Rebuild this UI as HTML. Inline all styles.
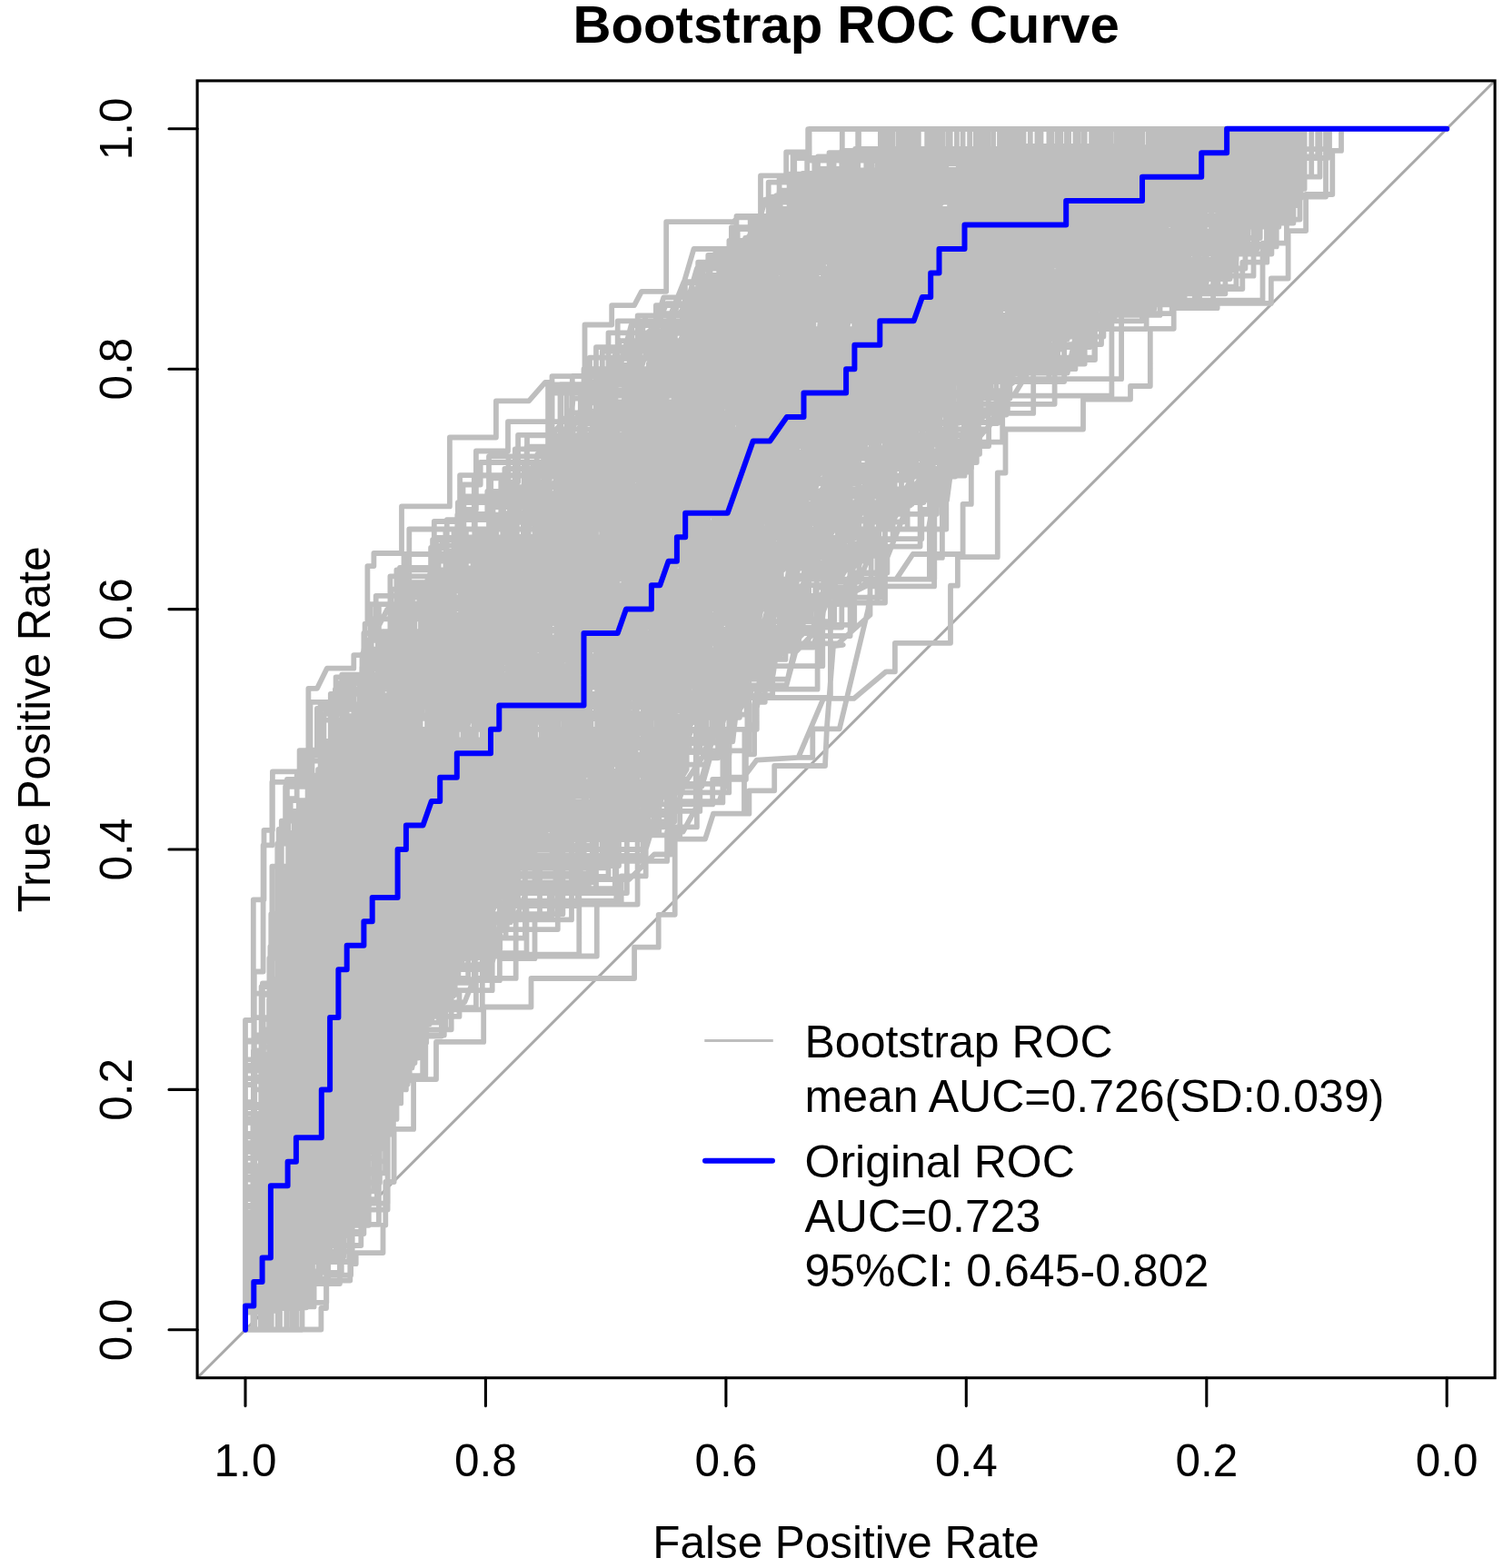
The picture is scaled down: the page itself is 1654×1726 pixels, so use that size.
<!DOCTYPE html><html><head><meta charset="utf-8"><style>html,body{margin:0;padding:0;background:#fff;}svg{display:block;}</style></head><body><svg width="1654" height="1726" viewBox="0 0 1654 1726">
<rect width="1654" height="1726" fill="#fff"/>
<defs><clipPath id="pc"><rect x="217.1" y="88.9" width="1428.0" height="1427.8"/></clipPath></defs>
<g clip-path="url(#pc)">
<line x1="217.1" y1="1516.7" x2="1645.1" y2="88.9" stroke="#a9a9a9" stroke-width="3"/>
<path d="M270 1464v-341h8.8v-132.7h11.7v-76.5h9.4v-64.5h29.7v-23.1h9.8v-68.4h9.6l10.8 -22.1h29.5v-14.6h12.3v-34.5h2.8v-63.5h7v-14.1h30.6v-51.6h52.9v-75.9h51v-40.1h36.1l18 -20.6h7.5v-6.7h36v-56.6h29.7v-21.3h24.8l8 -15.4h27.2v-76.6h73.8l5 -4.9h25v-45.9h28.2v-25.9h24v-25.3h702.8M270 1463.5h83.4v-23.5h5.6v-30.4h26.3v-18.4h6.4v-12.1h29.8v-30.5h2.8v-47.6h9.3v-58.1h21.5v-54.8h24.9v-41.2h52.2v-38.4h52.3v-31.5h113.6v-34.3h26.6v-35.9h18v-83.1h33.3l9 -28h34v-41l13.8 -18.1l45.7 -2.7l27.6 -65h33.5l35.5 -29.6h9.8v-31.5h61.1v-63.1h7.9v-31.5h43.9v-92.7h8.7v-48h85.5v-33h52v-14.5h21.8v-63.2h25.9v-22.6h47.9v-5.3h59.2v-27.4h18.8v-52.4h19.5v-40.1h29.2v-48.1h9.7v-23.7h116M785 895.7h39.4v-25.4h27.8v-27.3h55.8l2 -43l7 -89l10.8 -1.2M878.5 833.9h15.8v-31.5h29.5l31.6 -132.1l1.9 -15.7M270 1463.8h9.7v-48.1h9.6v-24h9.7v-72.1h19.3v-24.1h19.3v-24h28.9v-48.1h9.7v-48h9.6v-24.1h19.3v-24v-48.1h38.6v-72.1h9.7h38.6h9.6h29v-24h19.3v-48.1h48.2v-24h29v-96.2h106.2v-48.1h19.3l9.6 -24h29h9.6l19.3 -24v-24.1h77.2l29 -72.1h19.3l9.6 -48h38.6v-24.1h48.3v-72.1h9.6v-24h19.3v-24.1h38.6v-24v-96.1h9.7v-48.1h28.9h86.9v-48.1h77.2v-24h96.5v-48.1h183.4M270 1463.8v-58.8h18h9v-58.7h9v-88.1h18v-58.8h18v-58.8h53.9h18v-29.3h18v-29.4h18v-29.4h18v-29.4h18h27h8.9h27h9v-176.2h36h9v-29.4h45v-146.9h9h26.9h45h18h18h18h9v-58.8h18l44.9 -58.7l9 -58.8h9v-29.3h18v-29.4h36v-88.2h27l9 -29.3h27v-29.4h9v-29.4h53.9v-29.4h143.9v-58.7h63h45v-29.4h44.9h242.9M270 1463.8v-26.4h27.9v-26.5h28v-26.4h9.3v-79.3v-79.4h37.2v-52.8h9.3v-26.5v-52.9h9.3v-26.4h18.7h18.6v-52.9h27.9v-105.7h18.6h18.7h9.3h27.9v-26.5h9.3h55.9h9.3h111.7v-79.3h55.9l9.3 -26.4h18.6v-26.5l18.7 -26.4v-52.9h18.6v-52.9h18.6l46.6 -52.9l18.6 -52.8h37.2h55.9v-52.9v-52.9h27.9v-26.4h37.3h18.6v-26.5h18.6h37.3h102.4v-26.4h46.6v-105.8h121v-26.4h27.9v-52.9h139.7M270 1463.8v-30.7h8.9v-61.5v-30.8v-184.4h8.8v-61.5h44.4v-30.8h8.9v-61.5v-61.5h8.9v-30.7h8.8h8.9h71v-61.5v-30.7h8.9l8.9 -30.8h17.7h26.6v-30.7h44.4v-30.8h8.9h88.7v-61.4h8.9v-30.8h44.3h35.5l17.8 -30.7h8.9v-92.3h17.7v-30.7h44.4l26.6 -92.2h17.7v-30.8h17.8v-30.7h53.2h26.7h62.1l8.8 -30.8h8.9v-61.5h17.8h53.2v-30.7h79.9v-30.8h115.3h53.3h17.7v-30.7h213M270 1463.8v-45.6v-22.8v-22.8v-45.6h19.7h19.8v-91.1h19.7v-68.4h9.9v-45.6v-45.6h9.8h39.5v-45.6h9.9v-22.8h9.8l9.9 -45.5h19.7v-45.6h19.8v-22.8h49.3h19.7v-22.8h138.2v-114h39.5l39.4 -22.8h9.9v-45.6h9.9l9.8 -45.6h9.9v-68.3h49.3l39.5 -91.2l19.7 -22.8h39.5h9.9v-22.8h29.6v-22.8h29.6l9.8 -22.8h9.9v-22.8h59.2v-22.8h128.3h69.1v-68.3h49.3v-68.4h19.7v-68.4h246.7M270 1463.8v-64.5h43.8v-32.2h8.7h8.8v-32.3h17.5h26.3v-64.5h8.7v-64.5h17.5v-64.4h8.8v-64.5v-32.3h17.5h8.8h17.5h17.5h17.5h35v-32.2h8.8v-32.3h78.8v-64.4h61.3h52.5v-64.5h8.8h8.7v-96.8h8.8v-32.2h43.8l26.2 -32.3h17.6l35 -64.4h26.3v-64.5h43.7v-32.3h17.5v-32.2h35.1l17.5 -32.3h8.7v-32.2h8.8v-32.2h26.3v-64.5h166.3h43.8v-96.8h113.8v-32.2h26.3v-64.5h183.9M270 1463.8v-48.1h19.3h19.3v-24h9.7v-48.1v-24h57.9v-48.1h9.6v-72.1h29h28.9v-24h9.7v-48.1h19.3v-72.1h38.6v-48.1h19.3h38.6l9.6 -24h9.7v-48.1h48.2v-24h29v-48.1v-48.1h57.9v-144.2h38.6h9.7h38.6l9.6 -72.1h9.7v-24h28.9h67.6l67.5 -96.2h9.7h19.3h9.6h19.3v-24h9.7v-24.1h28.9v-24h48.3v-24v-48.1v-72.1h19.3h86.9v-24.1h106.1h48.3v-48h9.6v-48.1h183.4M270 1463.8v-49.9v-49.9h9.5v-24.9v-99.8v-49.9v-49.9h38.1v-49.9h9.5v-49.8v-49.9h19h19v-25h38.1v-49.9v-74.8h19h9.5h28.5v-24.9h19.1v-99.8h95.1v-124.7h19v-25h9.5h9.5v-24.9h19.1v-24.9h38l38.1 -25h28.5l19 -49.9h28.6h47.5h9.5v-49.9h28.6h38l19 -24.9v-25h38.1v-24.9h57.1h123.6v-24.9h95.1v-49.9h66.6v-49.9h38.1v-49.9h247.3M270 1463.8v-27.5v-55.1h9.2v-82.6h9.2h9.1v-55.1h9.2v-82.7h36.8h9.1v-27.5h36.8v-55.1v-27.5h27.5v-55.1v-27.6h64.3v-27.5h9.2v-27.5h9.1v-27.6h9.2h64.3v-27.5h9.2l9.2 -27.6h9.2v-27.5l18.3 -55.1v-27.5h18.4v-55.1h45.9l45.9 -137.7h9.2l36.7 -27.6h18.4v-55h73.4v-27.6h55.1v-27.5h91.8h27.6v-27.6h9.2v-55.1h45.9h110.2h82.6h64.3v-82.6h9.2v-82.6h229.5M270 1463.8v-26.4v-52.9h18.6v-79.3v-52.9h9.3v-52.9h37.3v-52.9h9.3v-52.9h9.3v-26.4h18.6h37.3v-26.4h18.6v-79.4h27.9v-52.8h37.3v-79.4h9.3v-26.4h18.6h65.2v-52.9h9.3h176.9v-52.9h65.2h9.3h27.9v-26.4h9.3v-26.4h28v-26.5h37.2l9.3 -132.2h18.7l37.2 -26.4h18.6v-52.9h9.3v-52.9h28h27.9v-52.9h9.3h27.9h74.5h46.6v-79.3h65.2v-79.3h18.6h251.4M270 1463.8h9.3v-26.4h9.3v-26.5v-52.9h18.6v-52.8v-26.5h28v-52.9v-79.3v-26.4h9.3v-52.9h18.6v-52.9h18.6h37.3h46.5h18.7h9.3v-26.4h27.9v-52.9h55.9v-26.4h102.4v-132.2h18.6h28h18.6v-26.5h9.3v-26.4h9.3v-52.9v-52.9h27.9l18.7 -79.3h27.9l18.6 -52.9h55.9v-26.4h74.5v-52.9h18.6h9.3h18.6l28 -26.4h9.3v-26.5h9.3v-26.4h18.6v-105.8h102.4h111.8h83.8v-26.4h46.5v-52.9h149M270 1463.8h18.2h9.2h9.1v-28.1h27.3v-28.2h18.3v-140.6h9.1v-56.2h9.1v-84.4h18.2h45.6h18.3v-56.3h9.1v-84.4l9.1 -56.2v-28.2h36.5h45.6v-56.2h109.4v-112.5h27.4l9.1 -28.1h36.4v-28.2h18.3h9.1v-56.2h9.1v-56.3h45.6l27.4 -84.4h9.1l36.5 -28.1h45.6v-28.1h36.4v-28.2h9.2v-28.1h9.1v-28.1h27.3v-28.1h18.3v-28.2h27.3h36.5v-28.1h118.5h54.7h100.4v-28.1h54.7v-84.4h164.1M270 1463.8h19.2h9.5v-24.5h38.4v-122.4h19.1v-49h9.6v-24.4h19.2h19.1v-122.4h9.6v-49h38.3v-49h9.6v-48.9h9.6l9.6 -49h9.6h9.5v-49h48h9.5v-48.9h86.3v-73.5h19.1l9.6 -48.9h19.2v-24.5v-97.9h28.7v-24.5h9.6v-24.5h47.9l19.2 -24.5h9.5h28.8v-48.9h28.7v-49h19.2v-24.5h9.6h28.7l9.6 -24.5v-24.4h9.6v-73.5h19.1h105.4v-49h105.4h57.5v-24.4h67.1v-49h297M270 1463.8v-27.5h45.9v-27.6h18.4v-55.1h9.2v-55v-27.6v-82.6h18.3h18.4v-137.7v-55.1h9.2h36.7v-27.6h9.2h27.5v-137.7h9.2v-27.5l9.2 -55.1h9.2v-27.5h9.1h27.6v-82.6v-55.1h137.7v-110.2h45.9v-27.5h36.8h18.3h18.4v-27.6h55.1l27.5 -110.2h18.4h9.2h27.5h27.6v-27.5h9.1h27.6h27.5v-27.5h9.2h36.7v-27.6h110.2v-27.5h101h45.9v-55.1h18.4h257.1M270 1463.8h18.9v-25.4h9.4v-76.3v-50.8h66.1h9.5h9.4v-50.9v-25.4h18.9v-25.4h9.5v-25.5h9.4h47.2v-101.6h28.4v-50.9h18.9v-50.8v-76.3h9.4h18.9v-25.4h85v-152.6h28.3h9.5h18.8v-25.4h9.5v-25.4v-25.4h9.4v-50.9h56.7l56.7 -101.7h18.9l28.3 -76.2h28.3h56.7v-25.5h18.9v-50.8h47.2h18.9h18.9v-25.4v-25.5h18.9v-25.4h103.9v-25.4h94.4v-76.3h56.7h28.3v-25.4h236.1M270 1463.8v-49h9.6h9.6h19.1v-97.9h38.3v-24.5h9.6v-73.4h9.6h19.2v-24.5h9.6v-49h19.1v-24.4h19.2v-49v-73.4h28.7v-49h19.2v-49h9.6h28.7v-24.5h38.3v-24.4h28.8h105.4v-171.4h19.1h19.2h38.3h9.6h9.6v-24.5h19.1l38.4 -146.9h9.6h9.5h38.4v-24.5h76.6h9.6v-24.4v-24.5h38.3h9.6v-97.9v-49h28.7v-24.5h162.9v-24.5h95.8v-24.5h67.1h19.2v-73.4h182M270 1463.8v-27h27.7v-27h18.5h9.3v-26.9h9.2v-54h18.5v-27h18.5v-27h27.7v-134.9h9.3h9.2v-26.9v-27h18.5h9.3h18.5v-54h37v-53.9h9.2h9.2v-27h46.3h9.2v-27h129.5v-27h37l9.2 -27v-80.9h9.2v-27h9.3v-80.9h27.7v-54h64.8l36.9 -80.9h9.3h74v-54h18.4v-26.9v-54h55.5h46.3l27.7 -80.9h18.5v-27v-27h37v-27h83.2v-27h74v-26.9h46.2v-27h27.7v-27h175.7M270 1463.8v-74.8h9.5h9.5v-25h9.5v-24.9h57.1v-49.9h9.5v-99.8v-74.8h19v-25h9.6h19v-49.8h19v-49.9h19v-49.9h28.6l19 -49.9h9.5v-24.9h38.1h28.5h9.5h104.6v-124.8h57.1h19h28.6h9.5h19h9.5v-24.9v-24.9h38.1l47.5 -49.9h28.6l28.5 -74.9h57.1v-24.9h9.5v-49.9h28.5v-49.9v-49.9v-74.8h28.6h114.1v-74.8h66.6v-25h47.6v-49.9h19v-24.9h247.3M270 1463.8v-25.9h9.4v-51.9h28.1v-25.9h18.8v-103.7v-25.9v-25.9h56.2v-77.8h18.8v-25.9h18.7v-25.9v-25.9h75.1v-51.9h18.7v-25.9h28.1h9.4l9.4 -25.9h28.1h18.8v-51.9h37.5v-25.9h103.1v-25.9h28.2l28.1 -103.7h18.8h9.3v-25.9h37.5l9.4 -103.7l18.8 -25.9h9.4v-26h37.5v-25.9h9.3v-25.9h28.2v-51.8h28.1h18.8h9.3v-77.8v-51.8h18.8v-77.8h121.9v-51.9h56.3v-25.9h93.7v-25.9h46.9h215.7M270 1463.8v-66.1v-33.1h26.1v-66h8.7v-165.3h17.4v-33.1v-99.1h8.7v-33.1v-33h8.7h17.4v-33h8.7v-66.2h34.8v-66.1h8.7v-33h17.4v-33.1h17.4h8.7v-33h69.6v-33v-66.2h78.3h34.7h26.1h8.7l8.7 -33h17.4v-33h60.9h26.1h34.8h8.7h17.4v-66.2h34.8h8.7v-66h60.9v-66.2h17.4h8.7h8.7v-99.1h26.1h104.4v-33.1h69.6v-33h60.9h43.4h304.5M270 1463.8v-67.2v-44.8v-22.4v-67.3h29.8v-22.4h10v-112h9.9v-44.8v-44.8h9.9v-22.4h29.9v-22.4v-67.3v-22.4h19.9v-67.2h29.8h39.7v-44.8h10v-89.6h39.8h9.9v-22.4h139.2v-67.3h19.9h19.8h19.9v-22.4h29.8v-44.8h59.7l9.9 -67.2h19.9v-67.2h49.7h49.7v-67.2h10h19.9h39.7l10 -67.3h9.9v-44.8v-22.4h9.9v-22.4h79.6h109.3v-22.4h69.6v-22.4h39.8h268.4M270 1463.8h8.9v-90.1h17.9v-60.1h26.8v-90.2h17.9h8.9h8.9h9v-30h8.9h17.9h8.9v-30.1v-30h35.7v-90.1h9v-30.1h44.6h17.9h17.9h8.9h17.9v-30h8.9v-30.1h89.4v-30h53.6l17.8 -30.1h44.7v-30l8.9 -30.1v-30h9v-60.1h62.5l26.8 -180.3h8.9v-30h9h26.8v-30.1h26.8v-60h26.8l17.8 -30.1h17.9h8.9v-60.1h26.8v-30h134v-30.1h98.3v-60.1h44.7h35.7v-90.1h232.3M270 1463.8v-33h17.4v-66.2h8.7v-33h17.4v-99.2h17.4v-33h17.4h17.4v-33v-99.2h17.4h34.8v-33.1h8.7h8.7h8.7v-99.1h34.8h121.8v-99.2h52.1h60.9v-33h8.7l8.7 -33.1h17.4h8.7l43.5 -33h17.4l26.1 -99.1h43.5v-99.2v-33h17.4h34.8l26.1 -33.1h17.4h17.4v-66.1h52.2v-33h121.8v-66.2h130.4v-66.1h69.6v-33h17.4v-66.1h200.1M270 1463.8v-19.2h21.5v-57.4h10.7v-76.7h21.5v-38.3v-19.2h64.5v-38.3h21.5v-134.1h43v-57.5v-19.1h10.8v-38.3v-57.5h53.7v-19.2h10.8v-57.5h21.5l21.5 -19.1v-57.5h64.5v-19.2v-38.3h64.5v-114.9h21.5h10.7v-19.2h10.8h10.7v-19.2v-19.1h53.8l10.7 -57.5h10.8l10.7 -76.6h32.3h43v-38.3h10.7v-38.4h21.5h32.3v-38.3v-57.5h43v-38.3h107.5v-19.1h43h53.7h21.5v-19.2h344M270 1463.8h9.4v-25.4h18.9h28.4v-127.1h28.3v-25.5h9.4v-25.4h28.4v-101.7v-101.7h18.9v-25.4h28.3h28.3v-25.4h28.4v-25.4h9.4h28.3l18.9 -25.5h9.5h9.4v-25.4h37.8h18.9v-25.4h56.6v-101.7h56.7v-50.8h56.7v-25.5h9.4l9.5 -76.2h37.7l9.5 -127.2h28.3v-25.4h9.5h75.5h9.5v-25.4h18.9v-50.8h47.2h9.4v-50.9h37.8v-50.8h94.4v-50.9h85v-25.4h94.5v-50.9h9.4v-50.8h207.8M270 1463.8v-49h19.2h19.1v-48.9h28.8h19.1v-73.5h9.6v-24.5h9.6v-73.4v-73.4h19.2h9.5h28.8v-24.5v-24.5h28.7l28.8 -24.5h9.5v-73.4h28.8h38.3v-24.5h9.6h86.2v-49h38.4v-48.9h9.5h19.2l19.2 -24.5h9.5v-97.9v-24.5h57.5l28.8 -49h28.7l19.2 -24.5h28.7v-24.5h38.3v-97.9v-24.5h28.8h38.3v-73.4h19.2v-97.9v-24.5h19.1h115v-49h86.2h57.5v-48.9h67.1v-49h201.2M270 1463.8v-20.7h20.7h10.3v-20.6h20.6v-144.6h20.7h10.3v-41.3h62v-62v-62h10.3v-20.6h10.4v-20.7v-20.6h31v-62v-62h41.3v-41.3h31v-20.6h10.3v-41.3h124v-20.7h113.6v-41.3h20.6l10.4 -20.7h20.6v-20.6h20.7l10.3 -41.3v-20.7h10.4l41.3 -103.3h31h20.6h31v-82.6h72.3v-41.3v-41.3h20.7v-20.7h62v-62h10.3v-20.6h20.6v-41.3h10.4v-41.3h41.3v-41.3h72.3h51.6v-20.7h10.4h216.9M270 1463.8h27v-58.8v-58.7h9v-88.1v-58.8h45v-58.8h8.9v-88.1v-58.7h9h9v-29.4v-88.2h27v-117.5h9h18h9v-29.3h9v-88.2h54h9v-29.4h53.9v-88.1h63l18 -29.4h18v-88.1h17.9h9v-29.4h9v-29.4h27h36h18l18 -29.3h18v-29.4h62.9h27v-58.8h45h45h17.9h9h9v-58.7h45h125.9h99v-29.4h89.9h18h179.9M270 1463.8v-38.9v-38.9h8.4v-155.5h33.4v-77.8h16.8v-38.8h33.5h16.7v-116.7h25.1h33.5v-38.9h16.7v-38.9h8.4h16.7l8.4 -38.8h8.3h16.8h41.8v-116.7h16.8h92v-38.9h25.1v-38.8h16.8h16.7v-38.9h16.7v-38.9h50.2l16.8 -38.9h16.7h16.7h16.8h25.1h8.4h16.7v-38.9h16.7l16.8 -77.7h25.1v-38.9h25.1h25.1v-116.7h125.5v-38.9h75.3v-38.8h117.2v-77.8h16.7h242.7M270 1463.8v-26.4h18.6h18.6v-79.4h28h18.6v-52.8v-26.5h9.3v-79.3h9.3h55.9v-26.4v-79.4h18.6v-52.8h27.9h28l9.3 -26.5h27.9v-26.4h18.6v-26.5h9.4h83.8v-132.2h27.9l9.3 -26.4h27.9v-26.4v-26.5h18.7v-79.3h27.9v-26.4h18.6l9.3 -26.5h46.6v-26.4h9.3h18.6v-79.3h37.3v-52.9h37.2l18.6 -79.3h18.7h9.3v-26.5v-79.3h74.5v-26.4h93.1v-26.5h46.5v-26.4h46.6v-52.9h344.5M270 1463.8h9.5v-49.9v-24.9h9.5v-25h38.1h19v-24.9h57.1v-49.9v-74.8h38v-74.9h19v-24.9h19.1v-25h19v-49.8h9.5v-74.9v-49.9h19v-74.8h9.5v-24.9h9.6v-25h85.6v-74.8h19l19 -49.9h28.6v-24.9h9.5v-25h19h28.5l19 -149.6h19.1l19 -25h9.5h38.1v-24.9h47.5v-74.9h38.1l9.5 -24.9h9.5v-24.9h19h19h142.7v-49.9h95.1h76.1v-74.9h76.1v-24.9h199.8M270 1463.8v-54h9.2h9.3v-26.9h9.2v-54h18.5v-27h9.3h27.7v-107.9v-80.9h9.3v-27h9.2v-27h9.3v-27h9.2v-80.9h9.2v-54h37h9.3h9.2v-53.9h46.3v-54h9.2h92.5v-107.9h36.9h27.8h27.7h18.5l18.5 -27h9.3v-80.9v-27h18.4l27.8 -80.9h9.2l18.5 -54h9.3v-27h46.2h18.5v-53.9h37v-27h18.5h9.2h9.3v-27h27.7v-54h55.5v-26.9h110.9v-54h83.2h64.8h18.5h268.1M270 1463.8h18.8v-25.9v-51.9h46.8v-25.9h28.2v-77.8h18.7v-25.9v-25.9h18.8h9.4v-25.9h28.1v-77.8v-25.9h37.5h18.8v-25.9h9.3v-77.8h65.7v-77.8v-51.8h103.1v-155.5h37.5v-51.9h46.9v-51.8h28.2h18.7v-51.9h18.8l18.7 -103.6h9.4h9.4v-26h37.5v-51.8h9.4v-25.9h37.5v-51.9h9.3v-77.7h9.4h18.8h159.4v-26h84.4h28.1v-51.8h56.3h281.3M270 1463.8v-24h19.3v-24.1h9.7v-24h9.6v-24v-24.1h29v-48.1v-72.1h9.6v-24h29h19.3v-24v-24.1h19.3v-48h28.9h19.3h9.7v-24.1h28.9v-48.1h48.3v-72.1v-72.1h57.9v-96.1h19.3l19.3 -48.1h9.6v-24v-48.1v-24h19.3l38.7 -96.2h19.3l38.6 -72.1h19.3v-48.1h38.6v-24h28.9h48.3h19.3v-24h19.3v-72.1h9.6v-48.1h125.5h125.5h96.5v-96.2h19.3v-24h270.2M270 1463.8h18.8h18.7h18.8v-103.7h28.1h28.1v-25.9h18.8v-77.8v-181.4v-25.9h9.4v-26v-51.8h9.3v-103.7h56.3v-25.9h28.1h9.4v-51.9v-25.9h37.5v-51.8h9.4v-25.9h103.1v-103.7h28.2h9.4h37.5v-26h9.3v-25.9h18.8h9.4v-25.9h46.9l37.5 -51.8h18.7h18.8h18.7v-26h9.4v-25.9h56.3v-51.8h65.6l9.4 -25.9h9.4v-26v-25.9h9.3v-77.8h84.4h56.3v-25.9h46.9h37.5v-25.9h290.7M270 1463.8v-50.8h18.9h9.4v-25.5h18.9v-50.8h9.5h9.4h28.3v-50.9v-25.4v-76.3h37.8v-50.8h9.5v-25.4h28.3v-101.7h18.9v-50.9h9.4l9.5 -25.4h9.4v-50.8h18.9v-25.5h37.8v-50.8h9.4h103.9v-152.5h37.8h9.4v-50.9h9.5h9.4h9.5v-50.8h9.4v-25.5h66.1l28.4 -50.8h47.2h28.3v-25.4h56.7v-50.9h9.4h28.4v-25.4h75.5l9.5 -50.8h9.4h18.9v-25.5h28.3v-25.4h141.7h75.5v-25.4h56.7v-25.4h9.4v-76.3h160.6M270 1463.8h18.5v-80.9h9.2v-27h27.8v-27h9.2h27.8v-54h18.5v-80.9h9.2v-27h9.2v-27h27.8v-26.9h18.5v-27h18.5v-107.9h27.7h9.3l9.2 -54v-54h37v-26.9h37h18.5v-27h46.2v-80.9v-27h55.5v-54h9.2v-53.9h55.5l37 -108h27.7h37v-53.9h46.2v-27h27.8v-27h64.7h18.5v-27h37v-26.9h138.7v-27h110.9h64.7v-107.9h18.5v-54h194.2M270 1463.8h8.8v-63h8.8v-31.4h17.7v-63h17.6v-31.5h17.6v-31.4h52.9v-31.5h17.6v-31.5h8.8v-62.9h8.9h8.8v-31.5h8.8v-31.5h26.4h8.9v-62.9h17.6l17.6 -31.5h8.8v-31.5h17.7h35.2v-31.5h123.4v-31.4h70.5l8.9 -31.5h8.8v-31.5v-63h17.6v-31.4h8.8h17.6l26.5 -94.5h26.4h8.8h17.7v-94.4h61.7h8.8v-94.4h8.8v-63h44.1l17.6 -31.4h17.6h26.5h123.4v-63h123.4v-62.9h35.2v-31.5h17.7v-31.5h193.9M270 1463.8v-34.8h25.8v-69.6v-173.9h42.9v-34.8h42.9h25.8v-69.6h8.6v-139.1v-34.8h8.5v-34.8h8.6v-34.8h25.8v-34.8h25.7h17.2h25.8v-34.8h51.5h25.7v-34.8h94.5v-69.6h25.7h8.6h8.6h17.2h51.5l8.6 -34.7h34.3l51.5 -34.8h25.8v-34.8h34.3h8.6v-69.6h34.4v-69.6h42.9l8.6 -34.8h17.2v-34.8h8.5h8.6v-69.5h85.9v-34.8h111.6v-34.8h68.7v-34.8h25.7v-34.8h206.1M270 1463.8v-30.7h26.6v-30.8v-30.7h8.9v-153.8h17.7v-61.4h35.5v-61.5h8.9h8.9v-61.5h26.6v-61.5h8.9v-30.8v-61.4h8.9v-30.8h53.2h17.7h35.5v-30.7h35.5v-30.8h53.3v-215.2h35.5h8.8h53.3l8.9 -30.7h17.7h17.8h35.5h53.2l35.5 -92.3h44.4h17.7h53.3h62.1l8.8 -30.7h8.9h8.9v-30.7h26.6v-30.8h106.5v-92.2h71v-92.3h44.4h26.6v-30.7h230.7M270 1463.8v-26.4v-26.5h9.3v-52.9h37.3v-26.4h27.9v-52.9h18.6v-52.9h9.3v-132.2h28v-158.6h9.3h18.6v-26.4h55.9h9.3h27.9v-26.5h18.6h9.3v-26.4h9.3v-26.5h28v-26.4h111.7v-105.8h28l18.6 -26.4h55.8v-26.4h28l9.3 -26.5v-26.4h9.3h46.6l46.5 -52.9h18.6l28 -26.4h18.6v-26.5h27.9h37.3v-52.9h27.9l37.2 -26.4h9.4v-79.3h9.3h93.1v-26.5h102.4v-52.8h55.9v-52.9h18.6v-52.9h167.6M270 1463.8v-25.4v-76.3v-50.8h9.4v-50.9h18.9v-25.4v-50.9v-127.1v-50.8h9.5h9.4h18.9v-25.4h18.9v-101.7h9.4v-50.9h18.9v-25.4h18.9v-25.4h94.5v-76.3h28.3h18.9v-25.4h18.9v-50.9v-50.8h66.1l47.2 -76.3h28.3l18.9 -25.4h28.4v-25.4h66.1v-25.4h47.2v-25.5h28.3l9.5 -25.4h18.9h18.8v-76.3h18.9v-25.4h132.3v-25.4h75.5v-25.4h103.9v-25.5h37.8v-50.8h283.3M270 1463.8v-33h8.7v-66.2h8.7v-66h17.4v-33.1h17.4v-66.1h17.4v-33h8.7v-132.3v-66.1h17.4v-33h17.4v-66.1h8.7h26.1v-66.1h43.5v-33.1h17.4v-33h8.7l26.1 -33.1h34.8h26.1h52.1v-66h104.4v-99.2h34.8h34.8h17.4v-33h17.4v-33.1h8.7h43.5h43.5h34.8v-33.1h17.4v-33h34.8h17.4v-33h8.7v-33.1h95.7l26.1 -33.1h8.7v-33h8.7v-33.1h26.1v-33h69.5h78.3h78.3v-66.1h156.6M270 1463.8h9.2v-27.5h9.2v-27.6h18.3v-27.5h18.4v-27.6h9.2h9.2v-55h9.1v-55.1h9.2v-55.1h9.2h18.4h9.1v-27.6h18.4h18.4v-27.5h55.1v-55.1v-27.5h18.3v-27.6v-82.6h73.5v-110.2h36.7v-27.5h18.4v-27.5l18.3 -55.1h18.4h9.2h73.4l27.6 -137.7h18.4l36.7 -82.7h9.2h27.5v-82.6h27.6v-27.5h27.5v-27.6h55.1v-27.5h36.7v-27.6h101v-55h55.1h64.3v-27.6h64.3v-82.6h284.6M270 1463.8v-22.8h9.9v-68.4h9.8v-91.1v-22.8h19.8v-68.4v-68.4h19.7v-114v-22.8h9.9v-45.5v-45.6h19.7v-68.4h9.9l9.8 -45.6h19.8v-45.6h39.4h29.6h69.1v-45.6h29.6v-45.6h9.9v-22.7h29.6h19.7h19.8v-22.8h19.7l29.6 -91.2h19.7v-22.8h79v-45.6v-45.6h29.6h29.6l9.8 -68.4v-22.7h19.8h9.8v-68.4h98.7h138.1v-45.6h108.6v-22.8h29.6v-22.8h325.6M270 1463.8h9.1h27.4v-56.3h18.2h9.1h27.4v-56.2h9.1v-112.5v-84.4h9.1v-56.3h36.5h18.2v-84.3h9.2l9.1 -56.3h18.2v-28.1h27.4h36.4v-28.2v-28.1h36.5v-140.6h45.6v-84.4h45.6v-84.4h36.5v-28.1h18.2v-56.3h27.4l36.4 -168.7h27.4h9.1h18.3v-28.2h36.4h36.5h45.6v-28.1h45.6h9.1v-56.2h27.4h145.9v-28.2h100.3v-28.1h27.3h27.4h255.3M270 1463.8h17.7v-92.2v-92.3h8.9v-61.5h8.9v-61.4h17.7h26.7v-61.5v-153.8h8.8v-122.9h17.8h17.7h26.7v-61.5v-61.5h8.8h8.9h8.9h17.7v-30.7h53.3h8.8h106.5v-30.8h17.8h8.8h17.8v-30.7h17.7l8.9 -30.8v-30.7h26.6v-123h17.8l35.5 -30.7h44.4h53.2v-61.5h26.6v-30.8h44.4h8.9h17.7h44.4v-30.7h142v-30.8h97.6v-30.7h44.3v-61.5h26.7h257.3M270 1463.8v-26.4v-52.9h9.3h9.3v-26.5h9.3v-26.4h37.3v-105.8h18.6v-105.7v-79.3h9.3v-52.9h27.9v-26.5h18.7v-105.7h27.9h9.3v-52.9h27.9l18.7 -132.2v-52.9h18.6v-26.4h27.9h9.3h93.2v-52.9h18.6h18.6v-26.4v-26.5h9.3h93.1l9.3 -79.3h18.7l9.3 -26.4h18.6h93.1h18.6h46.6h55.8v-26.5h9.4v-79.3h18.6v-26.4h102.4v-26.5h65.2v-26.4h83.8v-26.5h46.5v-26.4h214.2M270 1463.8v-26.4h27.9v-26.5h18.7v-52.9h9.3h9.3h9.3h9.3v-158.6h37.2v-26.4h9.4v-52.9h18.6v-52.9h9.3v-26.4h18.6h46.6h46.5l18.6 -26.5v-52.9h18.7v-52.8h27.9v-26.5h102.4v-52.9h46.6v-52.8h27.9l9.3 -52.9h18.7h46.5l27.9 -26.5h18.7l9.3 -79.3h9.3v-52.9h55.9v-52.8v-26.5h37.2h9.3v-79.3v-52.9h27.9v-52.9h46.6v-52.8h167.6v-26.5h55.9v-52.9h65.2h27.9v-26.4h176.9M270 1463.8h8.8v-31.5v-62.9h8.8v-188.9v-31.5v-62.9h35.3v-31.5h26.4v-62.9v-31.5h44.1h26.4v-31.5h26.5v-31.5h17.6l8.8 -31.4h26.5v-31.5h44.1h8.8v-63h8.8h123.4v-62.9h61.7v-31.5h44.1v-31.5h17.6l8.8 -62.9v-63h26.5v-62.9h52.8l17.7 -63h61.7l26.4 -31.5h26.5v-31.4h8.8v-63h35.2h17.7h8.8h8.8h26.4v-31.5h141.1v-31.4h44h17.7v-31.5h8.8v-31.5h246.8M270 1463.8v-88.1v-22.1v-44h20v-110.2v-44.1v-22h30.1v-44.1v-22v-88.1v-22.1h20v-22h10v-88.1h60.1v-66.1h20.1v-44.1h20v-22h20v-44.1h10.1v-22h20v-44.1h90.1v-22h30.1l10 -22.1h30.1v-22h10l20 -22v-22.1h40.1h70.1l40.1 -44h20h10v-132.2h50.1h20h20.1v-22.1h20l10 -44h10h10v-22.1h50.1v-22h90.2v-44.1h60.1h70.1v-22h10h300.5M270 1463.8h18.2v-28.1h9.2h9.1v-112.5h18.2v-56.3h9.1v-28.1h9.1v-56.3h27.4v-28.1h9.1v-56.3v-28.1h45.6v-112.5v-28.1v-28.2h9.1v-28.1v-28.1h9.2v-28.1v-28.2h100.3v-168.7h18.2v-28.2h18.2h27.4h9.1v-56.2h18.2v-28.1h36.5l9.1 -112.6h18.3l9.1 -28.1h36.5h63.8h9.1v-28.1h45.6h9.1v-56.3h9.1v-56.2h36.5v-28.1h155h145.9v-56.3h54.7h91.2h228M270 1463.8v-48.1v-96.1v-24.1h9.7v-24h9.6v-48.1h9.7v-48h48.2v-72.1v-72.2v-24v-24h19.3v-24.1v-24h9.7v-48.1v-48h38.6v-24.1h9.6h29v-48.1h19.3v-24h9.6v-24h106.2v-48.1h28.9h9.7h38.6v-48.1l9.6 -24v-72.1h9.7v-24.1h38.6l48.3 -48h19.3h19.3v-24.1h38.6v-48h9.6v-72.1h19.3v-24.1h67.6l28.9 -24h19.3h9.7v-48.1h28.9h96.5v-24h125.5h77.2v-48.1h19.3h241.3M270 1463.8h9.1v-28.7v-28.8h9v-28.7h9.1v-28.8h36.2v-57.4h27.2v-143.7v-86.2v-28.8h27.1v-86.2h9.1h18.1v-57.5h9.1h9v-28.7h18.1v-28.8h27.2v-28.7h18.1v-57.5h90.6v-143.7h18.1l9 -28.7h9.1v-28.8h18.1h9.1v-57.4h9h45.3l45.3 -115h9l18.1 -57.5h18.2h72.4h9.1v-28.7h18.1h54.3h18.1h9.1v-57.5v-28.7h54.3h126.8h72.5v-28.8h63.3v-28.7h36.3h262.6M270 1463.8v-52.9h18.6v-26.4h9.3v-26.5h18.7v-105.7h18.6v-26.5h18.6h18.6v-52.8h9.3v-52.9h18.7v-26.5h9.3h27.9v-26.4h55.9h9.3h37.2l18.6 -79.3v-52.9h18.7v-26.4h27.9h55.9v-132.2h27.9v-52.9h18.6v-52.9h9.3l9.4 -26.4h9.3v-52.9h9.3v-26.5h74.5v-132.2h9.3h9.3h18.6h46.6h9.3v-52.8h27.9v-52.9h46.6v-26.5h18.6v-26.4h18.6h102.4v-79.3h83.8v-26.5h55.9h37.3v-26.4h288.6M270 1463.8v-24.5v-48.9h9.6h19.1v-24.5h38.4h19.1v-24.5v-73.5v-97.9v-48.9h38.4v-24.5v-73.5h38.3h9.6h28.7v-24.4h19.2v-49h28.7v-97.9h9.6h115v-98h28.7v-24.4h38.3v-49h19.2h9.6h9.6v-49h28.7v-24.5h57.5h47.9h38.3h9.6h19.2v-24.4h28.7v-24.5v-49h19.2v-73.4h19.1l19.2 -73.5h9.6v-24.4h19.1v-24.5h19.2v-24.5h124.6h67v-24.5h67.1v-49h19.2v-73.4h229.9M270 1463.8h9.1h9.1v-28.1v-140.7h27.4v-140.6h18.2v-28.1h54.7v-28.2h18.3v-112.5v-28.1h9.1h18.2v-28.1h27.4v-28.2h18.2v-84.3h9.1v-28.2h18.3h9.1v-56.2h9.1v-56.3h45.6h45.6v-28.1h82.1v-56.3h36.4h27.4h18.2h9.2h9.1v-28.1h18.2v-56.2h45.6l9.1 -84.4l9.1 -28.2h100.4h27.3h27.4h18.2h18.2h9.2h9.1v-28.1h18.2v-56.2h63.8h118.6h36.5v-56.3h27.3v-112.5h237.1M270 1463.8v-77.8h9.4v-25.9h18.7v-25.9h9.4v-77.8h37.5v-25.9v-25.9h37.5v-51.9h9.4v-51.8h28.1v-25.9v-77.8h28.2v-25.9h18.7v-51.9v-25.9h18.8v-25.9h9.4h37.5h9.3h150.1v-103.7h18.7v-25.9h28.2h9.3l9.4 -77.8h28.2h9.3v-25.9h37.5l37.5 -103.7h9.4l46.9 -77.7h9.4h56.3h9.3v-26h18.8v-51.8h65.6v-51.8v-26h9.4v-25.9h37.5h150v-25.9h112.6h28.1v-51.9v-51.8h168.8M270 1463.8h17.7v-30.7h26.7h17.7v-61.5h8.9v-61.5h17.7v-30.8h44.4v-30.7h8.9h17.7v-61.5h35.5v-61.5h17.8v-92.2v-30.8h35.5v-30.7h8.8v-123h8.9h8.9v-30.7h8.9v-61.5h62.1v-61.5h8.9v-61.5h124.2v-30.7h8.9h8.8h35.5h8.9h8.9h8.9v-30.8v-30.7h44.3l53.3 -61.5h26.6l17.7 -92.2h8.9h79.9h26.6h17.7h44.4v-30.8h8.9v-30.7h17.7v-30.8h106.5v-92.2h26.6h62.2v-61.5h221.8M270 1463.8h17.5v-32.2v-64.5v-64.5h17.5h26.3h43.8v-32.3h26.2v-64.5h8.8h8.8v-32.2h8.7v-32.2h35v-32.3h17.6v-32.2h17.5h17.5v-32.3h35v-32.2h43.8v-32.3v-32.2h78.8v-96.7h17.5v-96.8h17.5v-96.7l8.8 -32.2h8.7v-32.3h43.8l26.3 -96.7h17.5l17.5 -32.3h8.8h70v-64.4h8.8v-32.3h26.2v-32.2h8.8h8.7v-64.5h35.1h140.1h78.8h78.8v-64.5h43.8v-64.5h253.9M270 1463.8v-58.8v-29.3v-117.5h9v-58.8h54v-58.8v-205.6h18v-29.4h8.9h18v-29.4h27h9v-58.7h27v-29.4h18h18h9v-29.4h89.9v-117.5h63v-88.1h27h17.9l27 -29.4h9v-58.7h18l9 -58.8h9h45v-29.4h45v-58.7v-29.4h35.9h72h9h18h44.9h108h53.9v-58.8h63v-58.7h18v-29.4h323.8M270 1463.8v-20.7v-41.3h20.7v-61.9h10.3v-20.7h41.3v-62h10.3h10.4v-41.3h10.3v-41.3h20.7v-82.6h20.6h20.7v-41.3h72.3v-20.7v-20.6h31l10.3 -20.7v-41.3v-20.7h51.7v-82.6h41.3h10.3h10.3v-20.6h31h31v-41.4h20.7h61.9l10.4 -165.2h20.6h20.7v-20.7h51.6v-41.3h10.4v-61.9h31l10.3 -82.7h10.3v-61.9v-20.7h31v-20.7h175.6v-61.9h20.7h72.3v-41.3h41.3v-62h278.9M270 1463.8v-77.8h9.4v-25.9v-25.9h9.4v-25.9h9.3v-26v-25.9h18.8h18.7v-51.8h9.4v-25.9v-51.9h9.4v-77.7v-26h28.1v-25.9v-77.8h37.5v-25.9h9.4v-51.8h18.8v-25.9h75h75v-77.8h46.9h28.1h28.2v-51.8h18.7h9.4h18.7h103.2v-103.7h28.1h46.9h28.1v-26h46.9v-77.7h18.8h46.9v-25.9h37.5v-51.9v-51.8h9.4v-77.8h37.5h103.1v-51.8h37.5v-51.9h56.3h9.4v-25.9h234.4M270 1463.8v-24.9v-25v-24.9h9.5v-49.9h9.5v-49.9v-24.9h28.6v-74.9h19v-74.8h19v-74.8h28.5v-25h9.6v-24.9h38v-25h28.5h28.6v-24.9h28.5v-25h9.5v-74.8h28.6v-49.9h19v-24.9h85.6v-74.8h28.5l9.6 -25h38v-49.9l19 -74.8h9.5h9.5h38.1l28.5 -74.8h9.5h28.6h47.5v-25h19.1v-24.9h28.5v-49.9h28.5v-25h9.6v-24.9v-74.8h9.5v-49.9h152.2v-49.9h57h104.7h28.5h228.3M270 1463.8v-30.7h8.9v-61.5h17.7v-30.8h8.9h17.7v-30.7h17.8h26.6v-92.3h26.6v-30.7h35.5v-61.5h44.4l8.9 -30.7h17.7v-92.3h8.9h17.7v-30.7h35.5v-30.8h79.9v-92.2h35.5h8.9h8.8v-30.7h26.7h8.8h8.9v-92.3h8.9v-61.4h35.5l17.7 -123h17.8h8.9h26.6v-61.5v-30.8h44.3v-30.7h44.4h26.6v-30.7v-30.8h53.3v-30.7h124.2h133.1v-123h62.1h8.9v-61.5h239.6M270 1463.8h45.3v-28.7h27.1v-28.8v-86.2h18.2v-28.7v-57.5h63.4h9v-28.8v-57.4v-28.8v-57.4h36.2v-28.8h9.1v-28.7h45.3v-115v-28.7h9h54.4v-28.8h45.2v-28.7h54.4v-201.2h63.4v-86.2h9h9.1l9 -57.5h18.2h27.1h90.6l9 -28.7h9.1h27.2v-57.5h72.4h9.1h36.2h27.2l18.1 -57.5h9h9.1v-28.7h36.2v-28.7h90.6h54.3v-28.8h54.4v-57.5h9v-28.7h208.3M270 1463.8v-63v-94.4h35.3v-62.9h8.8v-125.9h44v-63h26.5v-31.5h17.6v-188.8h8.8v-31.5h44.1v-63h61.7v-31.4h26.5h17.6h8.8h8.8v-31.5h44.1v-31.5h105.8h52.9h52.8h8.9v-31.5h52.8l26.5 -125.9h17.6l8.8 -31.4h17.7v-63h44v-31.5v-31.4h8.8v-31.5h44.1h8.8v-63h8.8v-31.4h70.6h79.3h88.1h8.9v-63h264.4M270 1463.8h17.9h26.8h17.8v-90.1h17.9v-30.1v-90.1h8.9h9v-60.1h26.8v-60.1h8.9v-90.1h17.9h17.8v-60.1v-90.2h35.8h17.8h9v-30h17.8v-30.1h53.6v-60h53.7v-60.1h26.8v-30.1h35.7v-30h8.9h9h8.9v-60.1h17.9l26.8 -150.2h35.7h8.9h53.6v-30.1h9h17.8h35.8l17.8 -90.1h9h26.8h160.8v-90.2h125v-60.1h44.7h35.8v-30h250.1M270 1463.8v-27v-27h18.5v-53.9v-161.9h18.5v-27h18.5v-107.9h9.2v-80.9h18.5v-54h9.3v-54v-53.9h64.7v-27h9.2v-53.9h27.8v-27h73.9v-27h18.5h55.5h9.3v-27h46.2v-27h18.5h9.2h9.3h18.5v-80.9h64.7l55.5 -80.9h9.2h27.7v-27h9.3h9.2v-54h46.3l9.2 -53.9h9.3v-27v-54h55.4h138.7h74v-27h92.5v-53.9h46.2v-27h221.9M270 1463.8v-23.6v-23.6v-23.6v-141.7h19.4v-23.6h9.8v-47.2h19.4v-70.8h9.7v-23.6h29.2v-70.8h29.2v-23.6h38.9v-23.7v-47.2h19.4l29.2 -23.6h9.7v-23.6h9.7v-23.6h48.6v-23.6h9.7v-70.8h77.8v-23.6h29.2h29.1h9.8v-23.6h9.7h9.7v-47.2h38.9l19.4 -141.7h9.8l19.4 -47.2h19.5v-70.8h58.3h29.2v-47.2h19.4l9.7 -47.3h29.2h19.4v-47.2h87.5h97.3v-23.6h77.7h58.4v-47.2h9.7v-47.2h272.2M270 1463.8v-28.1h9.1v-28.2v-112.5h18.3v-84.3h9.1h45.6h9.1v-56.3v-28.1h18.2v-28.2h9.1h9.2v-56.2h9.1v-28.1h27.3v-56.3h9.2h9.1v-28.1h9.1h63.8v-28.2h9.1v-56.2h27.4v-84.4h45.6l18.2 -112.5h45.6h18.3h9.1h27.3h73l54.7 -112.5h18.2v-56.3h36.5h27.4v-84.4h63.8l18.2 -28.1h9.1h27.4h136.8v-56.2h45.6v-28.2h54.7v-56.2h27.3v-84.4h273.6M270 1463.8v-28.7h9.1h9v-28.8v-86.2h36.2h9.1v-28.7h54.3v-86.3h9.1v-28.7v-57.5h18.1v-28.7h27.2v-28.7h9h9.1v-28.8v-86.2h9v-28.7h27.2h9.1v-28.8h99.6h63.4v-28.7h45.3v-28.8l27.1 -28.7h18.1h18.1v-86.2h18.2l45.2 -115h9.1h9.1h45.2h63.4v-57.5v-114.9h18.1v-28.7h63.4v-57.5h9.1v-57.5h9h27.2h81.5h63.4v-28.7h54.3v-28.8h27.2v-86.2h271.7M270 1463.8v-56.3h9.1v-56.2v-28.1v-28.2v-28.1h9.1v-84.4h9.2v-140.6h18.2v-28.1v-56.3h18.2v-28.1h18.3h27.3v-28.2h54.7l18.3 -28.1h9.1v-56.2h27.3v-56.3h91.2v-56.2h9.2v-28.2h136.7v-56.2h27.4l9.1 -28.2h45.6v-28.1h9.1l9.1 -28.1h18.3v-28.1h63.8l45.6 -28.2h9.1l54.7 -28.1h9.1h63.9h18.2v-56.3h27.4v-28.1h9.1h9.1v-56.2h27.4v-28.2h63.8v-28.1h54.7v-28.1h54.7v-56.3v-28.1h237.1M270 1463.8v-25.9v-103.7h18.8v-77.8v-103.7h9.3v-51.8h18.8h9.4v-103.7h9.3v-77.8h37.6v-51.8h28.1v-25.9h9.4v-51.9h65.6v-77.7h28.1h9.4v-25.9h18.8v-51.9h18.7v-25.9h37.5v-77.8h9.4v-25.9h159.4h18.8h9.4h37.5h18.7h9.4v-77.8h75v-77.7h28.1h9.4v-51.9h56.3h37.5h18.7v-25.9v-77.8h28.2h103.1h65.7v-25.9h46.9h75v-25.9h196.9M270 1463.8v-49.9v-49.9v-74.8h9.5v-49.9h28.5v-49.9h19.1v-24.9h9.5v-49.9h19h28.5v-25h38.1v-74.8h19v-49.9h28.6l9.5 -74.8v-24.9h28.5v-25h28.5h9.6h123.6v-74.8h19l9.6 -25h28.5h19v-49.8h9.5v-124.8h9.5v-24.9h19.1l38 -49.9h28.5l57.1 -49.9h19h19.1h9.5v-24.9h28.5h38.1l9.5 -74.9h9.5v-24.9h9.5h9.5h85.6v-74.8h114.2v-49.9h66.6v-25h38v-24.9h228.3M270 1463.8v-25.4h9.4v-25.4v-76.3v-101.7h18.9v-25.4h18.9v-50.9h18.9v-76.2h37.8v-76.3h9.4v-25.4h18.9v-25.5h37.8v-50.8h37.8v-25.4h9.4v-50.9h47.2v-50.8h28.4v-25.4h37.8h9.4v-50.9h56.7v-152.5h37.7l9.5 -25.5h9.4l18.9 -25.4h9.5h18.8h56.7h47.2h18.9h9.5h9.4h28.3v-76.2h18.9v-76.3h37.8v-25.4h28.3l18.9 -25.5h9.5h9.4v-25.4h207.8v-25.4h94.4h47.3v-25.4h9.4v-76.3h170M270 1463.8v-30.7v-92.3h35.5h17.7v-92.2h35.5v-92.2h17.8v-30.8v-30.7h35.5v-30.8h44.4v-30.7h35.4v-61.5v-30.8h26.7l8.8 -122.9h17.8h8.9h62.1h26.6h133.1v-184.5h17.8h26.6v-61.5l17.7 -61.5h26.6v-30.7h44.4l26.6 -153.7h17.8l26.6 -30.8h8.9h53.2h17.8h26.6h17.7v-30.7h8.9v-30.8h17.8v-30.7h115.3h97.6v-30.8h106.5v-30.7h8.9h133.1M270 1463.8v-97.9v-24.5v-24.5h19.2v-97.9h9.5v-73.5h9.6v-24.4h47.9v-98h9.6v-146.9h9.6v-48.9h9.6h47.9h19.1v-24.5h28.8v-122.4h9.6l9.5 -49h28.8v-24.5h19.2h19.1v-48.9h9.6v-49h95.8v-24.5h47.9h9.6h9.6h9.6v-24.4h9.5v-24.5h28.8l19.1 -97.9h9.6l19.2 -24.5h19.2v-24.5h47.9h9.5h28.8v-24.5h38.3v-49h19.2h57.5h95.8h95.8v-48.9h28.7v-24.5h316.2M270 1463.8v-26.4h9.3v-52.9h9.3v-26.5h18.6h9.4v-26.4h18.6h9.3v-79.3v-26.5h37.2h28v-26.4h37.2v-52.9v-26.4h18.6v-26.5h18.7v-52.8h18.6v-26.5h37.2v-105.7h102.5v-132.2h37.2l27.9 -26.5h37.3v-105.7h9.3l9.3 -52.9v-26.5h9.3v-26.4h46.6l27.9 -105.8h18.6l46.6 -26.4h18.6h37.2h46.6h9.3v-52.9h65.2l9.3 -52.9h9.3v-52.8h27.9h111.8v-26.5h65.2v-26.4h93.1v-52.9h9.3h176.9M270 1463.8v-24v-48.1h9.7v-72.1h28.9v-24.1h9.7v-48h57.9v-72.1h9.6v-72.1v-48.1h19.3v-24.1h9.7v-72.1h9.6v-96.1h9.7v-24v-24.1h19.3h9.6h9.7v-24h19.3v-120.2h96.5v-120.2h57.9h19.3h19.3h19.3l19.3 -24h19.3h48.3l19.3 -48.1h48.2h19.3h29h28.9h9.7v-24h57.9v-48.1h48.2l19.3 -24h9.7v-48.1v-24h48.2v-24.1h115.9h57.9h57.9v-48.1h9.6v-96.1h222M270 1463.8v-74.8h9.5h19v-25h9.5h9.6h19v-24.9h28.5v-25h9.5v-49.8h9.5h9.6v-25h38v-74.8h19h9.5v-25h28.6v-49.9v-124.7h28.5v-99.7v-25h104.7v-24.9h47.5l28.6 -74.9h9.5v-49.8h28.5l9.5 -49.9h19h9.5v-25h47.6l28.5 -24.9h9.6l28.5 -99.8h19v-74.8h66.6h9.5v-49.9h85.6v-49.9h9.5v-24.9h9.6v-74.9h66.5v-49.9h66.6h76.1h19h19.1v-24.9h256.8M270 1463.8h9.8v-23.2h9.8v-23.2h19.6v-69.6h9.8v-46.4h9.8v-69.5h19.6v-23.2h9.7v-46.4h39.2v-46.4h29.4v-46.4v-23.2h9.8v-23.2h19.6v-23.2h9.8l29.4 -23.2h39.1v-23.1h19.6h19.6v-23.2h78.4v-116h48.9l9.8 -46.4h19.6h19.6l9.8 -69.6v-69.5v-23.2h58.8l39.1 -23.2h9.8l9.8 -69.6h19.6h39.2v-46.4h39.2v-46.4h48.9h9.8h9.8v-46.4h9.8v-46.4h19.6v-115.9h58.8v-46.4h107.7v-23.2h9.8h29.4h313.4M270 1463.8h8.4v-37.8h8.4v-37.7v-37.8v-37.8h8.5v-37.8h16.8v-37.7h16.9v-75.6h16.8v-75.5h8.4h8.4h25.3v-37.8h25.3v-75.5h8.4v-37.8h25.3h16.8h8.4v-75.5h42.1h84.2v-75.6h16.9l25.3 -37.8h25.2h16.9h25.2h8.4v-37.7h59l42.1 -113.3h8.4l8.5 -37.8h16.8v-37.8h33.7v-113.3h25.2v-37.8h16.9h33.7h8.4h8.4v-37.7h25.3v-37.8h16.8v-37.8h92.7h84.2v-75.5h67.4v-37.8h33.6h294.8M270 1463.8v-28.1h9.1v-56.3h9.1v-84.4h18.3v-56.2h18.2h36.5v-56.3h9.1h9.1h9.1h18.3v-56.2h9.1v-28.2h18.2v-28.1h9.2l9.1 -28.1h18.2v-28.1h27.4v-56.3h18.2v-28.1v-28.2h54.7h45.6h36.5v-28.1h18.2l27.4 -84.4h27.3v-56.2v-56.3h45.6l9.1 -56.2h18.3h9.1h27.4h72.9v-84.4h9.1v-56.3h27.4v-56.2h36.5l9.1 -28.2h9.1v-56.2h27.3v-28.1h127.7v-28.2h91.2v-28.1h63.8v-28.1h18.3v-84.4h264.4M270 1463.8v-49h9.6v-24.4v-24.5h9.6v-49h9.5v-73.4v-24.5h9.6v-73.5v-73.4h19.2v-171.4h19.1h28.8v-73.4h19.2v-49h38.3l9.6 -24.5h9.5v-73.4h38.4v-73.5h114.9v-24.4h38.4h19.1h9.6h19.2l19.1 -24.5h19.2v-24.5h9.6v-49h47.9l57.5 -73.4l47.9 -24.5h19.1h38.4v-24.5h38.3h9.6h9.5v-24.4h38.4v-98h162.9h67v-24.5h67.1v-48.9h28.7v-24.5h220.4M270 1463.8h18.5v-54h9.2v-26.9h18.5v-54h18.5v-80.9h27.8v-81v-80.9h9.2v-27v-27v-27h9.3h36.9h27.8v-26.9h18.5h18.5v-54h55.4v-80.9v-27h138.7v-161.9h46.3h9.2h27.7h18.5l9.3 -107.9v-27h9.2h37l46.2 -53.9h46.3h37h9.2h46.2v-54v-27h9.3v-53.9h46.2h9.3h27.7v-27h9.2h18.5h92.5h111v-54h64.7v-27h18.5v-80.9h166.4M270 1463.8v-84.4h9.1v-28.1h27.4v-56.3h9.1v-84.3h45.6h9.1v-56.3h9.1v-84.4h9.1v-84.4h18.3v-28.1h9.1v-28.1h9.1h18.3v-28.2h9.1v-28.1h36.4v-28.1h63.9h9.1v-56.3h164.1v-84.3h45.6h27.4h36.5h18.2l9.1 -28.2h9.1h18.3v-84.4h63.8l27.4 -84.3h9.1h9.1h9.1v-28.2h54.7v-56.2h9.1v-28.2h18.3h45.6l9.1 -84.3h9.1h36.5v-56.3h127.6h36.5v-84.4h73v-28.1h18.2h145.9M270 1463.8v-49.9h19v-24.9h9.5v-49.9h9.5v-25h9.6h28.5v-99.7v-74.9h19v-24.9h9.5v-25h28.6v-74.8v-24.9h19v-49.9l19 -25h19v-24.9h28.6h66.6v-24.9v-49.9h123.6v-99.8h47.6l9.5 -24.9h38v-25h28.6h57.1v-49.9h9.5l28.5 -24.9h9.5v-74.8h76.1v-49.9h38.1v-25h9.5v-49.9h28.5v-24.9v-25v-49.8h19v-25h76.1h114.2v-99.8h95.1h28.5v-24.9h199.8M270 1463.8v-22.8h9.9v-45.6v-45.6h29.6v-91.1v-22.8h9.8v-68.4v-22.8h9.9v-114h9.9h39.4v-45.6v-22.7h19.8v-68.4h9.8v-22.8h19.8v-68.4h19.7h39.5v-22.8h29.6v-45.6h9.8v-22.8h49.4v-136.7h29.6v-22.8h19.7h19.8l9.8 -45.6h9.9v-45.6h19.7l49.4 -45.6h9.8h9.9h49.3v-22.8h29.6v-22.8h19.8v-22.8h88.8v-22.8h9.8v-45.5h9.9v-22.8h19.7h138.2v-22.8h59.2v-45.6h69v-45.6h29.7h315.7M270 1463.8v-24.5v-24.5v-146.9h28.7v-73.4h9.6v-73.4h28.8v-73.5h9.5v-122.4v-24.5h28.8v-24.5h9.6h9.6h67v-48.9h9.6v-49h19.2l9.5 -24.5h9.6h9.6h28.8v-24.4v-24.5h86.2v-49h28.7h9.6h38.3v-24.5h19.2l19.2 -24.5v-24.4v-49h67l19.2 -97.9h38.3h47.9h9.6v-24.5h47.9v-49h9.6v-24.4h28.7h9.6l9.6 -24.5h19.2v-49v-24.5h67h67.1v-24.5h86.2v-24.4h76.7h38.3v-49h201.2M270 1463.8v-25.4v-25.4h18.9v-25.5h9.4v-76.2h37.8v-25.5h28.3v-76.2h18.9v-76.3v-50.8h9.5h18.9v-25.5h9.4h9.5v-25.4v-76.3h28.3l18.9 -25.4h18.9h28.3v-25.4h28.3h18.9h132.2h37.8v-76.3h28.3v-25.4h18.9l18.9 -50.8h9.5v-25.5h9.4v-25.4h18.9l18.9 -152.5h28.3l28.4 -25.5h9.4v-50.8h85v-25.4h9.4h18.9v-50.9h28.4l9.4 -50.8v-25.4v-25.5h9.5v-50.8h113.3v-25.4h66.1h66.1v-50.9h28.3v-25.4h226.7M270 1463.8v-89.6h9.9v-22.4v-67.3h10v-44.8h9.9v-67.2h10v-67.2v-112v-89.7h9.9v-22.4h9.9h19.9v-22.4h39.8v-67.2h9.9v-22.4h10h29.8h9.9v-22.4h19.9v-44.8h10h119.3v-22.4h39.7h10h9.9v-44.9h10v-22.4v-67.2h9.9l9.9 -67.2h19.9h29.8h10v-22.4h29.8v-44.8v-22.4h39.8v-22.4h69.6h29.8h9.9v-112.1h19.9v-22.4h159.1v-44.8h89.4v-22.4h59.7v-22.4h9.9h328.1M270 1463.8v-82.6v-27.6h9.2h18.3v-82.6h36.8v-82.6h18.3v-55.1h18.4v-27.5v-55.1h9.2h9.2v-82.7h18.3h9.2h45.9v-55h9.2v-27.6v-27.5h18.4v-55.1h27.5h27.6v-27.5h64.2v-27.6h64.3h9.2h45.9v-27.5h9.2h9.2h9.1v-27.6h9.2v-27.5h110.2l55.1 -110.2h36.7l9.2 -55.1h9.2h45.9v-27.5h9.2v-82.6h27.5v-55.1h36.8v-55.1h18.3h45.9v-55.1h110.2h55.1v-27.5h64.3v-55.1h18.3h174.5M270 1463.8h9.7v-24h28.9v-192.3h19.3v-24.1h29v-24h9.6v-24h9.7v-48.1v-24v-24.1h38.6v-72.1v-48.1h28.9h9.7h9.6v-48h38.6v-24.1h96.5v-24h38.6l19.3 -24h38.6v-48.1l9.7 -24.1h19.3h9.7v-24h57.9h19.3h9.6l9.7 -72.1h67.5v-24h38.6v-48.1h19.3v-24h38.6v-24.1h48.3l9.6 -72.1h19.3v-72.1h19.3v-48.1h57.9v-48h86.9v-72.2h67.6v-48h67.5v-48.1h9.7h212.3M270 1463.8h8.9v-30.7h8.8v-61.5h17.8v-61.5h8.9v-30.8h17.7v-92.2v-92.2v-61.5v-30.8v-30.7v-30.8h62.1v-92.2h8.9v-30.7h8.9h17.7v-30.8h17.8v-30.7h26.6h17.7h88.8v-30.8h44.4v-30.7h17.7h8.9v-30.7h26.6h79.9l35.5 -61.5h17.7l44.4 -30.8h8.8h44.4h17.8v-30.7h17.7h26.6h8.9h35.5v-92.3h8.9v-61.4h26.6v-30.8h124.2v-30.7h106.5v-30.8h88.8v-61.5h44.3v-92.2h177.5M270 1463.8v-46.4v-46.4h19.6v-46.4h9.8v-23.2v-46.3h49v-69.6h19.5v-139.2h9.8v-46.4h19.6v-46.3h19.6v-23.2v-23.2v-46.4h9.8v-23.2h9.8v-23.2h9.8v-92.8h9.8v-46.4h19.6v-23.2h19.6v-23.1h58.7v-92.8h49h19.6v-23.2h9.8h19.6v-23.2v-23.2h78.3l19.6 -46.4h19.6l19.6 -23.2h19.6h48.9v-23.2h9.8h19.6v-23.2h19.6v-23.2h9.8v-23.1v-46.4h49v-23.2h137.1h117.5v-69.6h78.4h58.7v-23.2h235.1M270 1463.8v-48.1h9.7v-72.1v-96.1h38.6v-24.1h9.6v-24h29v-120.2h9.6v-120.2h9.7v-120.1h28.9v-48.1h19.3v-24.1h9.7v-24h28.9v-72.1h9.7v-24h19.3h19.3h19.3v-24.1h9.6h48.3v-24h115.8v-24h29h9.6l19.3 -48.1h9.7v-24.1h9.6h48.3l9.6 -72.1l9.7 -24h9.6h57.9v-96.1h9.7h28.9h57.9l9.7 -24.1v-24v-48.1h38.6v-24h115.8h67.6h96.5v-48.1h250.9M270 1463.8v-90.1h8.9v-30.1v-90.1h9v-60.1h17.8h9v-30.1h17.8h9v-30h17.8v-30h26.8h26.8l9 -30.1v-30h62.5h8.9v-30.1h71.5v-150.2h8.9v-30.1h44.7v-30h9v-30h8.9v-60.1h8.9v-90.2h44.7l53.6 -90.1h26.8l26.8 -30.1h17.9v-60h35.7h17.9v-30.1h71.4h9h8.9v-120.2h44.7h98.2h53.6h80.4v-60.1h35.8v-90.1h321.6M270 1463.8v-54v-80.9v-80.9h37h9.2v-27h9.3v-54h9.2v-53.9h18.5v-27h27.8v-27h18.4v-27v-27h18.5v-53.9h27.8h18.5h27.7v-27h18.5v-27h37v-53.9h64.7v-27v-27h27.7v-27h9.3v-80.9h9.2v-27h9.3h18.5l27.7 -27l18.5 -53.9h27.7v-54h27.8v-80.9v-54h27.7v-27h74l27.7 -53.9h9.3v-27h18.5h55.4v-27h83.3v-27h92.4v-80.9h83.2h37h295.9M270 1463.8h8.8v-32.2v-64.5h8.7v-225.7h17.5v-64.5h26.3v-32.3v-64.5h26.3v-32.2h8.7h17.5v-96.7h17.5l17.6 -96.8h8.7v-32.2h17.5h70.1v-64.5v-32.2h96.3v-96.8h52.5h8.8h43.8v-32.2v-64.5h8.7h52.6l26.2 -64.5h26.3h26.3h52.5h8.8h17.5h43.8h17.5v-32.2h8.7v-64.5h26.3h113.8v-64.5h96.3h78.9v-32.3h35v-32.2h236.4M270 1463.8h9.1v-28.7h18.1v-28.8h9v-57.5v-57.4h9.1v-28.8v-114.9v-28.8v-57.4h36.2v-115h27.2v-57.5h18.1v-28.7h18.1l18.1 -86.2h9.1v-57.5h27.1v-57.5h54.4v-28.7v-28.8h108.6v-114.9l18.2 -28.8h27.1v-28.7h18.1h9.1h9.1v-28.7h72.4h18.1h9.1h18.1h54.3v-28.8h18.1v-57.5h27.2v-28.7h18.1v-28.7h9.1h27.1v-57.5h117.8v-28.8h90.5v-28.7h54.4h36.2h307.9M270 1463.8h9.2v-27.5v-27.6h9.2v-82.6h27.5v-82.6h9.2v-55.1h18.4v-55.1v-165.3v-27.5v-55.1v-55.1h9.1h55.1h9.2h9.2h18.4h18.3h9.2v-55h9.2v-55.1v-27.6h119.4v-55h27.5h9.2h45.9h9.2h18.3h9.2v-27.6h101l45.9 -55.1l18.4 -27.5h27.5v-55.1h101h9.2v-55.1h18.4v-27.5h18.3v-55.1v-55.1h9.2v-55.1h18.4v-27.5h156.1v-55.1h27.5h82.7h18.3h220.4M270 1463.8v-57.5h18.1v-28.7v-115h45.3v-86.2h9v-86.2h9.1v-57.5v-28.7h9.1h36.2h9v-28.8h45.3v-28.7v-57.5v-28.7v-28.8v-28.7h27.2v-28.7h18.1h90.6v-143.7h36.2l45.3 -28.8h27.1v-86.2h9.1h18.1v-57.5h99.6l18.1 -28.7h36.3l9 -28.7h9.1v-28.8h45.3v-28.7h9h54.3l18.2 -28.8h9h9.1v-28.7h18.1v-57.5h63.4v-28.7h90.5v-57.5h90.6h27.2h262.6M270 1463.8h18v-29.4h27v-88.1h18v-29.4h26.9v-58.7h18v-88.2h9v-29.4h18v-58.7h27h18v-29.4h27v-58.7h18l9 -88.2h9h17.9h18v-58.7h72v-88.2h18l9 -29.3h27v-29.4v-29.4v-88.1h17.9v-29.4h54l27 -58.8h27v-29.3v-29.4h45v-29.4h8.9v-29.4h36v-29.4h81h9h9v-29.3h18h17.9v-58.8h99h116.9v-58.7h81v-29.4h71.9v-29.4h197.9M270 1463.8h17h8.4v-36.7h8.5v-73.5h17h16.9h25.4v-73.4h17v-36.7h8.5v-73.5h8.4v-36.7h25.5h8.4v-36.7h67.8v-73.5h17h8.5l8.4 -73.4v-36.7h25.5v-73.5h93.2v-36.7h25.4l8.5 -73.4h25.4v-73.5h25.5h50.8v-73.4h17l8.4 -36.8h33.9v-36.7h50.9v-36.7h16.9v-110.2v-36.7h42.4l8.5 -73.4h8.5v-36.8h50.8h195v-36.7h84.7h93.3h25.4v-36.7h169.5M270 1463.8v-22.4h9.9v-89.6h29.9v-22.4h9.9h9.9h10v-44.9v-112h9.9v-44.8h10h19.9v-89.6h19.8v-22.4h10h9.9v-22.4h10l9.9 -89.7h9.9v-22.4h19.9v-44.8h19.9v-22.4v-22.4h69.6v-156.9h49.7l9.9 -44.8h29.9v-22.4h9.9h19.9v-22.4h19.9l49.7 -67.2h19.9l19.9 -67.2h49.7v-44.8h39.7h10v-44.8v-44.9h39.7v-22.4v-22.4h10v-22.4h19.9h159h79.5v-44.8h19.9v-22.4h59.7h318.1M270 1463.8h9.4h9.5v-76.3v-25.4h47.2h18.9v-25.4h37.8v-25.4v-152.6v-76.2h18.9h9.4h18.9v-76.3h28.3v-25.4h28.4h18.9v-25.5h18.8v-25.4h18.9v-25.4h103.9v-50.9h28.3h9.5h56.7v-25.4l9.4 -25.4h9.4v-76.3h56.7l18.9 -101.7l28.3 -50.8h9.5v-25.4h47.2v-50.9h9.4h18.9v-50.8h47.3v-50.9h9.4v-76.2h37.8v-50.9h28.3v-25.4h132.2v-76.3h75.6v-25.4h56.6h37.8h207.8M270 1463.8v-52.9h18.6v-26.4h18.6v-79.3h18.7v-26.5h27.9v-52.9v-52.8h27.9v-26.5h9.3v-79.3h28v-52.9h9.3v-26.4h9.3v-52.9h9.3v-52.9h27.9v-52.9h9.4v-26.4h9.3h18.6v-52.9h18.6v-52.9h9.3v-79.3h18.6v-26.4h55.9v-52.9h9.3v-26.4h18.7l18.6 -79.4h9.3v-26.4h9.3v-52.9h9.3h37.3h9.3h27.9h46.6v-52.9h93.1v-26.4h9.3h74.5v-26.4h18.6h27.9h121.1h121v-52.9h65.2v-26.5h37.2v-26.4h214.2M270 1463.8v-60.1h8.9v-120.2h9h8.9v-60.1h44.7v-30v-60.1h8.9v-90.1h8.9h9h26.8h35.7v-90.2v-60.1h8.9h17.9v-60.1h8.9h53.6v-30h9h134v-180.3h35.7h17.9h17.9v-30v-30.1v-90.1h8.9l8.9 -30v-30.1v-30h9v-60.1h8.9h26.8v-30.1h17.9l8.9 -30h8.9h35.8v-60.1h160.8v-60.1h98.2h116.2h44.7h303.7M270 1463.8v-54h9.2v-26.9v-27h9.3h18.5v-81v-80.9h9.2v-54h18.5v-53.9h9.3v-27h27.7h27.7v-54h9.3v-26.9h9.2l18.5 -27h9.3h9.2v-27h18.5v-27h27.8v-107.9h18.4h9.3h9.2v-27h18.5h18.5h9.3v-26.9h9.2h74l18.5 -81h9.2l9.3 -27h9.2v-53.9h9.3v-134.9h9.2v-27h9.3h46.2l9.2 -54h9.3v-53.9h18.5v-27h27.7v-54h138.7h147.9v-53.9h64.8h18.5v-27h369.8M270 1463.8v-31.5v-31.5h8.8v-31.4h17.6v-31.5h26.5h8.8v-31.5h35.3v-31.5v-62.9h17.6v-31.5h8.8h17.6v-31.5h17.7v-31.4v-63h8.8h17.6h70.5v-94.4v-31.5h97v-62.9h8.8l8.8 -63h17.6h8.9l8.8 -94.4h8.8v-63h8.8h35.3l17.6 -220.3l17.6 -63h17.7h52.8h8.9v-31.4h17.6v-63h35.2h26.5h8.8v-94.4h44.1v-31.5h167.5h123.4h61.7h26.4h238M270 1463.8h26.1v-33h17.4v-66.2h17.4v-66h26.1v-33.1v-99.1v-66.2h8.7h26.1h8.7v-33h8.7v-33.1h8.7h8.7v-33h8.7v-33.1h8.7v-66h17.4h8.7v-132.3h104.4v-132.1h17.4v-33.1h26v-33.1h8.7h8.7v-66h17.4v-33.1h34.8l17.4 -66.1h17.4h17.4h52.2v-66.1h69.6h8.7v-33.1h26.1v-132.2h34.8h8.7h17.4h17.4v-33h139.2h87h52.2h26h313.2M270 1463.8v-32.2h17.5v-32.3h8.8v-96.7h8.7h8.8h35v-96.8h26.3v-32.2v-32.2v-96.8h43.8v-32.2h8.7v-96.7h8.8l8.7 -64.5h17.5v-96.8h17.6v-32.2h8.7v-32.3h8.8v-32.2h87.5v-64.5h17.5h8.8h70h8.8l26.3 -32.2v-64.5h17.5v-32.3h17.5l61.3 -64.4h8.7l17.6 -32.3h8.7v-96.7h96.3v-96.8v-32.2h61.3h35.1h8.7h35h122.6h87.6h43.8h26.2h227.7M270 1463.8v-80.9h18.5v-108h9.2v-26.9h9.3v-27h9.2v-27h27.8v-107.9h18.5v-242.8h18.5v-27h18.4v-27h18.5h18.5v-134.9v-27h9.3h18.5h37h9.2h9.2h83.3v-80.9h18.5l9.2 -107.9h46.2v-27h18.5v-54h9.3h55.4l27.8 -80.9h9.2h27.8h64.7v-27h37h73.9h9.3h9.2v-27h27.8h138.7v-26.9h101.7v-27h64.7v-27h9.2h231.2M270 1463.8v-76.3v-50.8h9.4v-50.9v-50.8h18.9v-25.4h37.8v-50.9h9.5v-25.4h9.4v-25.4v-25.4h9.4v-25.5h18.9v-25.4v-25.4h28.4v-101.7h9.4l18.9 -25.4h9.4v-50.9v-50.8h66.2v-25.4h18.8v-50.9h18.9v-152.5h28.4h37.7v-50.9h9.5h18.9h28.3v-50.8h47.2l28.4 -76.3l28.3 -50.8h28.3v-50.9h28.4h56.6h9.5h37.7v-50.8h18.9h113.4h122.7h85v-76.3h37.8h273.9M270 1463.8v-79.3h9.3v-26.5v-52.8h18.6v-26.5h28v-26.4h18.6v-26.5h9.3v-79.3h18.6v-26.4v-26.5h18.6h9.4h37.2v-52.8h18.6v-52.9h18.6l9.4 -26.5v-26.4h18.6v-52.9h9.3v-105.7h55.9h37.2v-26.5v-105.7h9.3v-26.5h9.3v-52.9v-26.4h46.6l37.2 -105.8h18.7h18.6h18.6v-52.8h37.2v-52.9h46.6v-26.5h55.9v-52.8h9.3v-26.5v-52.9h18.6h102.4h121.1v-26.4h37.2h65.2h335.2M270 1463.8v-22.8h9.9v-22.8h9.8v-159.5h19.8v-68.4v-22.8h59.2v-22.8h19.7v-136.8v-68.3v-22.8h9.9h9.8v-45.6h29.6v-22.8v-68.4h19.8l9.8 -45.6h19.8v-45.6v-22.8h39.4v-22.8h19.8v-68.3h108.5v-114h9.9h9.9h49.3v-22.8h9.9v-22.8v-22.8h39.4l19.8 -68.4h49.3l19.7 -45.5h9.9v-22.8h39.5v-22.8v-22.8h29.6v-22.8h49.3l9.9 -45.6h9.8h29.6h128.3h88.8h69.1h19.7h246.7M270 1463.8v-58.8h9v-29.3v-29.4h9v-58.8v-88.1h18v-88.1h9h9v-58.8h18v-29.4v-29.3h9v-29.4v-58.8h35.9v-29.4h18v-58.7h18h36v-88.1h62.9v-29.4h9v-29.4h81v-88.1h18v-29.4h18v-58.8h9v-29.3h18h44.9l18 -117.6h9l18 -29.3h81h17.9h18v-58.8h63l27 -29.4h9v-58.7h62.9v-29.4h161.9h45h63h18h260.8M270 1463.8h10.1v-43.3h10.1v-21.7v-43.4v-43.3h30.3v-21.7h30.2v-43.3h10.1v-86.7v-108.4h10.1v-43.3h20.2v-65h10.1v-21.7h30.3v-43.3v-43.4h40.4v-65v-43.4h20.1v-43.3h20.2v-43.3h30.3v-86.7h60.6v-130.1h60.5h10.1v-21.6h10.1h10.1h10.1v-21.7h50.5l20.2 -86.7h30.2v-43.3h10.1h70.7v-21.7v-21.7h40.4h70.6h10.1h20.2h131.2v-21.7h70.6v-21.6h70.7h40.4v-21.7h252.3M270 1463.8h9.5v-49.9h28.5v-24.9h9.6v-25h9.5v-24.9h9.5v-49.9h57.1v-24.9h9.5h19v-74.9v-24.9h19v-49.9h28.6v-49.9h38l9.5 -74.8v-49.9h19v-25h28.6v-74.8v-24.9h47.5v-49.9h47.6h9.5h19h19.1v-74.8h9.5v-25h57l57.1 -74.8h9.5l9.5 -25h19.1v-24.9h9.5v-24.9h28.5v-25h19l28.6 -74.8h9.5v-99.8h28.5v-49.9h19.1h104.6v-124.7h85.6h57.1h28.5h304.4M270 1463.8h18.5v-54h9.2v-134.9h18.5h9.3v-134.9v-107.9v-53.9v-54h27.7v-27h9.3v-27h27.7v-53.9v-27h37h18.5h9.2v-27v-26.9h18.5h9.3v-134.9h27.7v-54h46.2h18.5h9.3v-27h18.5h18.5h9.2v-27v-26.9h46.2l27.8 -27h9.2v-27h46.2h74v-27h27.8h18.4h37h27.8v-107.9h37h9.2h83.2v-27h138.7v-53.9h83.2h55.5v-54h240.4M270 1463.8v-74.8v-25v-24.9h9.5v-49.9h9.5v-24.9h38.1v-25h19v-74.8h9.5v-49.9h9.5v-25h9.5v-24.9h19.1v-149.7h9.5v-24.9v-24.9h9.5v-25h9.5v-24.9h38v-49.9v-25h85.7v-24.9h66.5v-74.8h66.6v-25h9.5h9.6h19v-24.9h9.5v-99.8h47.5l28.6 -99.8h9.5v-24.9h9.5v-74.8h28.5v-25v-49.9h19.1v-24.9h85.6h9.5h9.5v-25h142.7h104.6h114.2v-24.9h19h237.8M270 1463.8v-32.2h17.5h8.8h8.7v-64.5h8.8v-32.3h8.7v-32.2h26.3v-64.5v-64.5h17.5v-96.7h8.8v-32.3h26.2h8.8v-64.5h17.5h17.5v-32.2h17.5v-32.2h8.8v-64.5h43.8v-32.3h8.7v-32.2h78.8v-64.5h70.1h8.7h17.6v-32.3h8.7v-64.4h8.8v-32.3h8.7v-32.2h35.1l17.5 -258h17.5l35 -32.2h52.5h61.3h8.8h43.8h35l8.8 -32.3h8.7h8.8h131.3v-32.2h96.3h43.8h35v-64.5h227.7M270 1463.8h9.4v-103.7h28.1h9.4v-51.8h46.9v-103.7v-51.9h18.7v-25.9h37.5v-25.9h28.2v-129.6h46.9v-51.9h9.3h9.4v-25.9h46.9v-51.8h18.8v-51.9h9.3h93.8v-103.6h46.9l18.7 -51.9h9.4l9.4 -25.9h28.1v-51.9h9.4v-51.8h46.9l9.4 -129.6h9.3l9.4 -51.8h9.4v-26h56.3v-25.9h37.5v-77.8h9.4v-25.9h37.5h56.2v-25.9h131.3h37.5h9.4h328.2M270 1463.8v-48.1h9.7v-48h28.9v-72.2v-72.1h29v-96.1h19.3v-72.1h9.6v-48.1v-48.1h9.7v-48v-24.1h9.6v-24v-72.1h9.7v-48.1h19.3l19.3 -48.1h9.6v-24h9.7h9.6h9.7v-24h67.5v-120.2h19.3v-24.1h48.3v-24l19.3 -24h19.3v-24.1h9.6v-48h29h9.6h19.4l19.3 -48.1h19.3h77.2v-48.1h9.6v-24h38.6h38.6h19.3h9.7h28.9v-48.1h135.1h86.9v-48.1h86.9v-24h19.3h289.5M270 1463.8h9.1v-28.1v-28.2h18.3h18.2v-56.2h27.3v-140.6v-56.3v-112.5h9.2v-28.1h9.1v-84.4h9.1h54.7v-28.2v-112.5h9.1l9.2 -28.1h9.1v-56.2h9.1h18.2v-28.2v-84.4h100.3v-112.5h73h9.1h9.1v-56.2h27.4l9.1 -56.3h18.2h9.1h54.8l18.2 -84.4h9.1h45.6h9.1h54.7v-28.1h18.3v-56.2h45.6h9.1h9.1v-28.2v-28.1h73h72.9h109.4h9.1h319.2M270 1463.8h37.5v-25.9v-25.9h18.8v-103.7h9.3v-51.9h37.6v-51.8h9.3v-77.8h9.4v-129.6h9.4v-25.9h37.5v-25.9h9.4v-103.7v-51.9h28.1v-25.9h18.8v-25.9h18.7v-25.9h65.7v-25.9h18.7v-26h93.8v-181.4h56.2v-25.9h18.8v-77.8h9.4h9.4h9.3v-25.9v-25.9h18.8l28.1 -103.7h9.4h28.1h18.8h37.5h18.7h28.2h46.9h9.3v-26h18.8h9.4h84.4v-25.9h84.4h37.5h18.7v-25.9h300.1M270 1463.8v-29.4v-58.7h9v-88.2h9v-29.3v-58.8h45v-58.8v-146.8h18v-88.2h8.9h18v-88.1h27h9h9h9h18v-58.8h9v-58.7h89.9v-29.4h36l27 -29.4h9v-29.4l9 -88.1h36v-29.4v-29.3h17.9l27 -117.6h9h36h36v-29.3h9h9v-29.4h36v-88.1h8.9h9h9v-29.4h18v-29.4h9h161.9h90h98.9h27h314.8M270 1463.8v-28.7v-57.5v-57.5h18.1h9.1v-115h9v-86.2h9.1v-86.2h9v-86.2h9.1v-28.7h27.2v-28.8h9h36.2v-28.7h18.2l9 -28.8v-86.2h9.1v-28.7h54.3v-28.8h90.6v-57.4h27.1h9.1l36.2 -28.8h27.2v-28.7h18.1v-28.8h36.2l54.4 -28.7h27.1l45.3 -86.2h9.1h36.2v-86.2h27.2h36.2h9v-86.2v-57.5h18.1v-57.5h126.8h108.7h63.4h54.3h235.5M270 1463.8v-24.5h9.6v-48.9h19.1v-49v-49h38.4v-122.4v-146.9h28.7v-97.9h9.6v-24.5h9.6v-48.9h57.5v-98h9.5v-73.4h9.6v-24.5h9.6h9.6v-24.5h28.7v-97.9h19.2v-24.5h153.3v-24.5h38.3l9.6 -24.4h19.2h19.1l28.8 -24.5h9.5v-73.5h76.7l9.6 -24.4h28.7l19.2 -24.5h9.6h28.7v-49h19.2v-24.5h19.1h9.6v-24.5h28.8h95.8v-24.4h86.2v-49h47.9h38.3h268.3M270 1463.8v-30h26.8v-30.1h17.9v-60.1v-90.1h8.9v-60.1h35.7h26.8v-30.1h26.8h26.8h26.8v-90.1h9v-30h35.7l17.9 -30.1h26.8v-60.1h26.8h98.3v-120.2h71.4v-60h17.9v-60.1h8.9l17.9 -30.1v-90.1v-60.1h35.7l17.9 -120.2h8.9h9h26.8v-60.1h35.7v-30h8.9h53.6l9 -90.2h8.9h17.9v-90.1h26.8h142.9h71.5h53.6h44.7h223.3M270 1463.8h9.4v-101.7h28.4v-25.4h9.4v-25.4h18.9v-50.9v-127.1v-76.3h9.5h37.7v-50.8v-50.9h9.5v-76.2h9.4v-76.3l9.5 -25.4h18.9v-25.4h28.3v-25.5h37.8v-76.2h9.4h75.6v-127.2h37.7h9.5h28.3v-50.8h28.3v-25.4h94.5v-50.9h9.4h18.9h18.9v-25.4h47.2h18.9v-25.4h28.4v-50.9h47.2v-25.4h18.9v-50.8v-25.5h122.7v-50.8h132.3h47.2h47.2h255M270 1463.8v-51.8v-51.9h9.4v-25.9h9.4v-103.7h18.7h9.4h28.1v-129.6h9.4v-181.5v-103.6h9.4v-51.9h56.2v-51.8h9.4v-51.9v-25.9h9.4h9.4h84.4v-51.8h18.7v-51.9h18.8v-51.8h18.7h18.8v-25.9v-26h56.2l18.8 -51.8h28.1h56.3h9.4v-51.8h65.6v-51.9v-25.9h9.4v-25.9h65.6l37.5 -26h9.4h9.4h18.8h112.5h37.5v-25.9h103.1v-25.9h28.2h318.8M270 1463.8v-69.6h8.6v-139.1h17.2h8.5v-34.8h17.2v-34.8h8.6v-34.8h17.2h8.6v-69.6h25.7h8.6v-139.1v-69.6h17.2l17.1 -34.8h8.6v-34.8h8.6v-104.4h34.4v-104.3h103v-34.8h51.5h42.9h25.8h8.6h17.1h8.6h8.6v-34.8h42.9l8.6 -104.4h25.8l17.2 -69.6h17.1v-69.5h8.6v-34.8h25.8v-69.6h68.7h34.3h8.6h51.5h111.6h94.5v-34.8h85.8h25.8h223.2M270 1463.8v-55.1h36.7v-27.5h18.4v-55.1v-82.6h9.2v-55.1h36.7v-165.3h27.5v-82.6h9.2h18.4v-27.5h27.5h45.9v-55.1h9.2h27.6h9.2h55.1v-27.6h18.3v-27.5h64.3v-110.2h27.5l9.2 -27.5h9.2v-27.5l18.4 -55.1h9.1v-55.1h9.2v-27.6h73.5l45.9 -137.7l27.5 -55.1h27.6v-27.5h45.9v-27.5h18.4v-55.1h45.9l9.1 -27.6h18.4v-27.5h9.2h9.2h64.2h82.7h36.7h9.2h303M270 1463.8v-33.9v-101.7h8.6v-33.9h8.7v-101.7h34.6v-33.9v-33.9h8.6v-33.9h25.9v-33.9h25.9h17.3v-101.7h26v-101.7h8.6v-67.7h17.3h8.6v-67.8h17.3h8.6v-67.8h17.3h86.4v-67.8h26h17.3h25.9v-67.8l17.3 -101.7h8.6h8.6v-33.9h51.9h25.9h43.2l34.6 -33.9h25.9v-33.9h8.7v-67.8h43.2h43.2h25.9v-33.9v-67.8h8.7h120.9h112.4h25.9h43.2h285.2M270 1463.8v-50.8h9.4v-50.9h28.4v-25.4v-76.3v-25.4v-50.9h9.4v-76.2v-50.9h28.4v-101.7h28.3v-25.4h9.4v-50.8h28.4l9.4 -50.9h18.9h18.9v-76.2h103.9v-101.7h18.9l9.4 -25.5h37.8h9.4h9.5v-25.4v-25.4h66.1l37.8 -76.3h28.3h37.8h28.3v-50.8h28.3v-25.4v-76.3h18.9v-25.4h47.2l9.5 -76.3h18.9v-101.7h18.9h9.4h160.6h94.4h66.1h37.8h236.1M270 1463.8h17.3v-33.9h8.6h8.7v-67.8h25.9v-33.9h25.9v-33.9v-33.9h17.3v-135.6h8.6v-67.8h8.7v-33.9h17.3v-33.9h8.6h17.3h8.6h8.7h43.2h34.6v-67.8h25.9h103.7v-101.7h25.9l17.3 -33.8h25.9l8.7 -33.9h17.2v-33.9h60.5l43.2 -203.4h26v-67.8h17.3h43.2v-67.8h34.5v-33.9h43.2h34.6h8.6v-101.7h8.7v-101.7h25.9h95.1h60.5h25.9h17.3h293.8M270 1463.8v-26.4v-26.5h9.3v-52.9h9.3v-52.8h9.3v-26.5h9.3v-132.2h9.4v-79.3h18.6v-26.4h18.6v-52.9h9.3v-52.9h46.6v-105.8h9.3v-26.4h9.3v-52.9h9.3v-26.4v-26.5h130.4v-26.4h9.3v-26.4h27.9v-26.5h9.3l9.3 -79.3v-105.8h18.7v-26.4h27.9l55.9 -52.9h18.6h37.2h9.3v-26.4h74.5v-26.5h18.6h37.3v-26.4h37.2v-26.4h18.7v-26.5h9.3v-26.4h65.1h93.2v-26.5h130.3h83.8h28v-26.4h204.8M270 1463.8v-30.7h8.9h17.7v-92.3v-61.5v-30.7h17.8h35.5h8.8v-61.5v-30.7h17.8v-61.5v-61.5h26.6v-61.5h26.6v-61.5h17.8l8.9 -30.7h17.7v-30.8h17.7v-30.7h53.3h8.9h79.8v-123h35.5l8.9 -61.5h26.6h26.6v-61.5h8.9v-61.5v-30.7h35.5l44.4 -30.8h17.7l35.5 -61.4h8.9v-61.5h17.7h26.7h26.6v-30.8h17.7v-30.7h8.9v-61.5h17.8v-61.5h115.3h88.8h62.1h53.2h275.1M270 1463.8v-73.4h9.6v-24.5h9.6v-49h9.5v-97.9h9.6h19.2v-97.9v-49h9.6v-73.4h19.1v-24.5h9.6h28.8v-24.5v-24.5h19.1l19.2 -24.5h9.6v-73.4v-24.5h57.4v-171.4h28.8h19.2h28.7v-24.5h19.2l9.5 -24.4h9.6v-49v-24.5h57.5l9.6 -24.5h9.6h38.3h9.6h95.8v-24.4h9.6v-73.5h19.1v-24.5v-24.4v-49h9.6v-73.5h9.6v-24.4h124.5v-24.5h210.8h67.1h47.9v-24.5h258.7M270 1463.8h27v-29.4h9v-117.5h9v-29.4h18h26.9v-117.5v-117.5v-29.4h36v-29.3v-58.8h18v-117.5v-58.8h27h18v-29.3h80.9h9h54v-205.7h9h9v-29.4l9 -29.3h9v-29.4h9l35.9 -29.4h18h36h27h63v-29.4h9v-29.4h17.9v-58.7h45l9 -88.1h9v-29.4h9h54v-29.4h116.9h89.9h54h36h314.8M270 1463.8h8.3h8.3v-40.1v-40h8.3h8.4h74.8v-80.1h8.3v-80.2v-120.1v-40.1h8.3h8.4h41.5v-120.2h16.7v-40h8.3v-40.1h33.2v-40.1h8.4h8.3h83.1v-240.3h74.9l24.9 -40.1h33.3l16.6 -40.1h8.3v-40h41.6l16.6 -40.1h25h8.3h33.3v-40h66.5v-80.2h8.3h33.3h49.9h8.3v-40h16.6v-80.1h58.2v-40.1h116.4h33.3h33.3h282.7M270 1463.8v-42.6h10.2v-42.7v-191.9v-21.3h20.3v-64h10.2v-42.6h10.2h10.1v-21.4h10.2h20.3v-21.3h30.5v-63.9h10.2v-21.4h30.5v-21.3h10.2v-21.3h30.5v-42.7h20.4v-42.6h50.8v-149.3h40.7h20.3v-21.3v-21.3h20.4v-21.3v-42.7h40.7v-21.3h30.5l10.1 -42.6h10.2v-64h50.9v-42.7h20.3v-42.6h20.4v-42.6h30.5h10.1v-21.4h20.4v-63.9h10.1h162.8h91.5h101.7h20.4v-64h335.6M270 1463.8v-25.9h9.4v-25.9h9.4v-26h37.5v-25.9h9.3v-25.9h9.4v-77.8h9.4v-25.9h9.4v-51.8h28.1v-26h9.4v-77.7h28.1v-77.8h18.8h28.1l18.8 -51.8v-26h18.7v-25.9h18.8v-129.6h9.3v-51.8h103.2v-103.7h84.4l9.4 -25.9h18.7l28.2 -51.9v-51.8h28.1v-129.6h9.4l28.1 -25.9h9.4v-26h37.5v-25.9v-51.8h37.5h46.9l18.7 -26h9.4v-25.9v-25.9h37.5h140.7h75h65.6h18.8h243.8M270 1463.8v-63h17.6v-62.9h8.8v-94.4h8.9v-63h44h17.7v-62.9v-63h8.8h17.6v-31.5v-62.9h26.4v-125.9h8.9v-31.5h8.8h8.8v-63v-94.4h35.3v-31.5h8.8v-31.4h70.5v-31.5h17.6l17.6 -31.5h35.3l8.8 -62.9h8.8v-31.5v-31.5h52.9h44.1h44.1l17.6 -31.5h35.3h35.2v-31.4v-31.5h35.3v-31.5h79.3h8.8h17.6v-62.9h158.7h88.2h88.1v-31.5h17.6v-31.5h220.4M270 1463.8h26.4v-125.9v-31.5v-31.5h17.7v-62.9v-31.5h52.9v-62.9h17.6v-31.5v-94.4v-63h8.8h35.3v-125.9h8.8v-31.5h17.6l17.6 -31.5h8.9v-62.9h8.8v-63h17.6v-31.4v-31.5h132.2v-63h52.9h17.6h44.1h17.6v-31.4h8.9v-31.5h8.8v-31.5h52.9l8.8 -31.5l8.8 -31.4h17.6h35.3h8.8h8.8v-31.5h44.1v-63h17.6v-62.9h35.3h105.7v-31.5h97h97h264.4M270 1463.8v-88.1h9v-29.4v-58.8v-88.1h18v-58.8h9h18v-29.3v-146.9h27v-88.2v-29.3h26.9v-58.8h18v-29.4h27v-58.7h18v-58.8h72v-58.7h8.9v-58.8h90v-29.4h45l9 -29.3h26.9v-29.4h9h9v-29.4h72l63 -29.4h8.9h18h18h27h9h9h18l9 -29.4h18h9v-29.3h18v-58.8h116.9v-29.4h98.9v-29.3h90v-58.8h278.8M270 1463.8v-80.9h9.2h9.3v-27h9.2v-81h9.3v-26.9h27.7v-27h9.3v-134.9v-107.9h18.5h9.2v-27h18.5v-27h18.5v-54h9.2v-53.9h18.5v-27h9.3h18.5v-80.9h18.5h27.7v-27h83.2v-107.9h46.2h9.3h18.5h18.5l9.2 -54h9.3h37v-27h18.4l18.5 -107.9h9.3h18.5h37v-53.9h46.2v-27h9.2v-54h27.8h55.5h9.2h9.2h9.3v-27h27.7v-80.9h120.2h55.5h64.7h46.3h268.1M270 1463.8v-29.4h18v-58.7h18v-58.8h27v-29.4v-117.5h9v-88.1h9v-205.7h17.9v-117.5h36v-29.3h27v-58.8h45l9 -29.4h18h35.9v-58.7h99v-88.2h9h9h9v-88.1h9h17.9h18h18h45v-58.8h27h18h18v-29.3h35.9h9v-29.4h27v-29.4h36h18h9v-29.4v-29.3h36v-58.8h134.9h62.9h81h36h269.8M270 1463.8v-32.2h8.8v-64.5h8.7v-32.3h17.5v-129h26.3v-32.2h35v-64.5h8.8v-129v-96.7h17.5v-32.2h26.3v-64.5h26.2v-96.8h8.8v-32.2h8.7l26.3 -64.5h17.5v-32.2h17.5v-64.5h35.1v-32.3h105v-32.2h43.8l26.3 -32.2h61.3v-32.3h8.7h26.3l26.3 -129h8.7h35.1h70h8.8h35h17.5v-32.2h8.8v-32.3h78.8v-32.2h61.3h70h96.3h52.6h192.6M270 1463.8h17.9v-60.1h8.9v-120.2v-30h8.9h44.7v-90.2h17.9v-90.1h8.9v-60.1h8.9h17.9h17.9v-60.1v-30h8.9l8.9 -30.1v-30h9v-60.1h35.7v-30v-30.1h89.3v-30h53.7l17.8 -60.1h17.9v-90.2h8.9h9v-30v-30.1h17.8l44.7 -60h8.9l17.9 -60.1v-90.2h44.7h53.6v-30h62.5l17.9 -30.1h8.9h8.9v-30h9h125v-30.1h44.7v-30h125.1h44.7h276.9M270 1463.8v-69.6h9.8v-46.4h9.8v-46.4h9.8v-115.9h19.6h9.8v-23.2h9.8v-46.4v-116v-23.2h9.8h39.1v-23.1h9.8v-92.8h29.4v-46.4h9.8v-23.2h9.8l9.8 -23.2h19.6h9.8v-116v-23.1h107.7v-69.6h19.6v-46.4h9.8v-23.2l19.6 -46.4h9.8v-23.2h48.9l29.4 -92.8h9.8h29.4h9.8v-46.3h58.8v-23.2h9.8h48.9h58.8v-46.4v-23.2h29.4h97.9v-46.4h97.9h58.8h29.4h323.2M270 1463.8h25.9v-67.8v-67.8v-101.7h8.7v-67.8h8.6v-67.8h69.1v-67.8h17.3v-135.6v-67.8v-33.8h17.3v-33.9h17.3v-33.9h43.2v-33.9h8.6h8.7h17.3h8.6h34.6h60.5v-33.9h8.6h77.8v-67.8h43.2l8.6 -33.9h51.9v-67.8h8.6l8.7 -33.9v-33.9h17.3l17.2 -203.4h17.3h34.6h25.9h86.4v-33.9h17.3h34.6h25.9h8.7h25.9h77.8h120.9h26v-33.9h8.6h224.7M270 1463.8v-24v-48.1v-72.1h38.6v-24.1h19.3v-48h9.7v-144.2h9.6v-24.1h9.7v-96.1h9.6v-48.1h19.3v-24h19.3v-48.1l9.7 -72.1v-24.1h57.9v-48h38.6v-24.1v-96.1h135.1v-72.1h77.2l9.7 -24.1h19.3v-24h9.6v-48.1v-24h9.7v-24h28.9v-48.1h19.3l19.3 -24h9.7v-48.1h38.6v-48.1h19.3h38.6l19.3 -48.1h9.6v-24h9.7h19.3h106.1h77.3h86.8h29h289.5M270 1463.8v-50.8v-25.5h9.4v-101.7h9.5v-50.8h37.8v-101.7h9.4v-50.8h18.9v-76.3h18.9h37.8v-50.9h9.4v-50.8h9.5v-76.3h18.8l37.8 -50.8h9.5v-25.4v-25.5h37.7v-25.4h9.5v-25.4h47.2v-25.4h37.8h9.4h28.4h9.4l9.4 -101.7h18.9v-50.9h9.5v-25.4h47.2l28.3 -76.3h28.4v-76.2h18.9h37.7v-76.3h18.9v-25.4h47.2l9.5 -25.5h9.4v-25.4h37.8h132.2h56.7v-25.4h47.2h9.5h349.4M270 1463.8v-103.7v-77.8h9.4v-25.9h46.9v-77.7h9.3v-129.6h37.6v-51.9h28.1h9.4h9.3v-25.9h37.5v-25.9h9.4v-51.9h18.8v-25.9h37.5v-25.9h18.7v-25.9h56.3h18.8l9.3 -26h37.5v-77.7h46.9v-77.8h9.4v-25.9h28.1l37.6 -77.8h9.3h18.8h18.7v-51.8h93.8v-25.9h9.4v-51.9h37.5v-51.8h9.4v-77.8h9.4v-77.8v-25.9h28.1v-25.9h84.4h93.8h65.6h37.5h290.7M270 1463.8v-23.6h19.4v-188.9h29.2v-70.8v-47.2h29.2v-23.6h9.7v-70.8h9.7v-70.9h19.5v-47.2h19.4h9.7h29.2v-94.4h9.7v-23.6l9.7 -70.8v-23.6h9.8v-23.6h48.6v-47.2v-70.9h48.6v-23.6h58.3h19.5h9.7l9.7 -23.6h9.7v-23.6h29.2h68l9.8 -94.4l19.4 -47.2h9.7v-70.9h19.5h9.7v-23.6h19.4v-23.6h38.9h19.5h19.4v-23.6h19.5h38.9h145.8h77.8v-47.2h58.3h9.7v-23.6h301.4M270 1463.8v-28.1h9.1v-56.3h18.3v-28.1v-56.3h36.4v-28.1h45.6v-112.5v-56.3h9.1v-28.1h18.3v-56.2h27.3v-84.4h18.3v-56.3h9.1v-28.1h9.1v-56.3v-28.1v-28.1h36.5v-84.4v-56.3h109.4v-168.7h9.1h9.1h27.4h9.1l9.1 -28.2h9.2h18.2h63.8h9.1h9.2l9.1 -28.1h18.2v-28.1h45.6h9.1v-28.1h45.6v-28.2h36.5h9.1h9.1h18.3v-28.1h54.7v-28.1h72.9h91.2h63.8v-56.3h18.3v-28.1h300.9M270 1463.8v-32.2h26.3v-32.3v-32.2v-129h26.2v-64.5h17.6v-32.2h17.5v-64.5h35v-161.2v-64.5h8.7h8.8v-64.5h8.8v-32.3h8.7v-32.2h17.5h8.8h26.3v-32.3v-32.2h26.2v-32.2v-32.3h70.1h26.2l8.8 -32.2h8.8h17.5l8.7 -32.3h17.5v-32.2v-64.5h52.6l52.5 -64.5h8.8h8.7h8.8h8.7v-96.7h52.6v-32.3h8.7h8.8v-64.5h43.8h201.4h35v-32.2h78.8h26.3h332.7M270 1463.8v-72.1v-24h9.7v-48.1h19.3v-24.1h9.6v-48h38.6v-96.2v-120.2h19.3v-24h9.7v-24h19.3v-24.1v-24h9.6v-72.1h19.3v-24h38.6l9.7 -48.1h19.3h9.6v-24.1h48.3v-24h9.6h77.2v-168.2h19.3v-24.1h19.3v-48.1h19.3l19.4 -48h19.3v-48.1h9.6v-24h57.9l19.3 -120.2h19.3h19.3h67.6h9.6h38.6v-24.1h9.7h9.6h9.7h19.3v-24h38.6v-24h125.5h38.6v-24.1h57.9h48.2v-24h260.6M270 1463.8v-34.8h42.9v-34.8h8.6v-208.7h17.2h25.7v-34.8h8.6v-34.8h8.6h8.6h34.3v-34.8h17.2v-69.6h8.6h8.6l8.6 -34.8h17.1v-34.7h51.6v-34.8h51.5h8.6h103v-139.2h42.9v-69.6h25.8v-69.5l17.1 -34.8h17.2h8.6v-69.6h8.6l17.2 -174l17.1 -34.8h25.8h8.6h8.6v-34.7h25.7h25.8v-34.8h8.6v-34.8h8.5v-34.8h43h111.6v-34.8h68.7h94.4h34.4h274.7M270 1463.8v-55.1h27.5v-27.5v-110.2h18.4v-27.5v-27.6h18.4v-110.1h18.3v-55.1h9.2v-27.6h27.6h9.1h27.6h55.1v-165.2v-27.6v-55h9.2v-27.6h18.3v-27.5h9.2v-27.6h9.2v-27.5h110.2v-110.2h27.5h18.4h27.5h9.2l9.2 -27.5v-55.1v-55.1h64.3v-137.7h27.5h27.6h18.3h45.9v-27.5h9.2v-27.6h27.6v-27.5h64.2h9.2v-27.6h36.7v-27.5h36.8h64.2h64.3h36.7h330.6M270 1463.8v-24h19.3v-72.1h9.7v-48.1h38.6v-48.1h19.3v-48.1h9.6v-96.1h19.3v-72.1v-48.1h9.7v-24h28.9v-48.1v-48.1v-24h9.7v-24h9.6h57.9v-48.1h86.9v-120.2h9.6h9.7h9.6v-24h38.6v-96.2v-72.1h48.3l38.6 -72.1h9.7v-48.1h38.6v-72.1h19.3v-48.1h57.9h9.6h19.3h38.6h29v-24h28.9h125.5v-48.1h86.9v-24h57.9h38.6h289.5M270 1463.8v-26.4v-52.9h18.6v-26.5h9.3v-79.3h46.6h18.6v-158.6v-52.9h9.3v-105.8v-26.4h9.3h18.7v-185.1v-52.9h37.2l18.6 -52.8h9.3h9.3v-26.5h18.7h65.1v-52.9h28l37.2 -52.8h9.3h9.4h18.6h9.3v-52.9h18.6h46.6l27.9 -79.3h27.9l9.3 -26.5h46.6h27.9h9.3v-26.4h55.9v-26.5h27.9l9.4 -26.4h18.6v-26.4h9.3v-26.5h121h93.1v-26.4h102.5v-52.9h18.6h251.4M270 1463.8v-49h9.6v-24.4h19.1v-49h19.2v-49h67.1v-24.5h9.6h19.1v-24.4h9.6v-73.5h9.6v-48.9v-49h19.1v-73.4h9.6h9.6v-73.5h9.6v-24.5h9.6v-48.9h9.5v-24.5h9.6v-49h9.6v-73.4h28.8h67v-49h47.9l9.6 -49h19.2v-48.9v-49h9.6v-24.5h9.5v-48.9h28.8v-73.5h9.6l9.5 -24.4h9.6v-49h57.5v-49h19.2h9.6v-24.5h28.7h19.2h9.5h28.8h19.1h134.2v-24.4h105.4v-24.5h86.2v-24.5h38.3h268.3M270 1463.8v-24v-96.2h19.3v-24v-48.1h19.3v-24v-24.1v-96.1v-48.1h9.7v-24h9.6v-24.1v-24v-24h48.3v-48.1v-72.1h19.3l28.9 -72.1v-24.1h19.3h67.6h19.3h86.8v-48h19.3l9.7 -24.1h9.6v-48v-48.1h9.7v-24h28.9l29 -120.2h29l19.3 -48.1h38.6h48.2v-24v-72.1h19.3v-24.1h29l9.6 -24h9.7v-24.1v-72.1h28.9h144.8v-24h77.2h106.2h38.6h270.2M270 1463.8v-24h9.7h9.6v-48.1v-24h9.7v-24.1h28.9v-96.1h9.7v-120.2v-72.1v-24.1h9.6v-48v-24.1h29v-72.1h9.6v-24h29v-48.1h9.6h19.3v-24h19.3v-48.1v-24h106.2v-120.2h19.3v-24h9.6v-72.2l19.3 -24v-48.1h9.7h48.2l19.3 -72.1h38.7l19.3 -48h38.6v-24.1h38.6v-48.1h28.9v-24h29h28.9l19.3 -24h19.3h9.7h38.6h86.8h96.6v-24.1h38.6h38.6v-24h328.1M270 1463.8h27.5v-55.1v-82.6h9.2h36.8v-55.1h9.1v-27.5h18.4v-27.6h9.2v-110.1h9.2v-110.2h27.5v-82.6h27.6v-55.1h45.9v-55.1v-55.1v-27.5h9.1v-27.6h9.2v-27.5h27.6h27.5v-27.5h91.8v-220.4h18.4h9.2h9.2h9.2h18.3h9.2v-55.1h9.2h18.3l46 -27.5h18.3l18.4 -27.6h9.2h64.2v-55h27.6v-55.1h9.2h64.2h27.6h36.7h119.4h45.9h64.3h64.2v-55.1h220.4M270 1463.8v-82.6v-82.6h27.5v-27.6v-55.1h18.4v-27.5h9.2v-110.2h27.5v-165.2v-27.6h9.2v-55.1h9.2h27.5h36.8h9.2v-27.5v-55.1h18.3v-27.5h18.4h18.3v-27.6h64.3v-82.6h27.6v-27.5h36.7v-27.6h9.2v-27.5h18.3v-27.6h27.6l36.7 -110.1h9.2h27.5h18.4v-82.7h36.7v-27.5v-27.5h45.9v-55.1h55.1h27.6h9.2h9.1h46v-27.6h110.1h101h18.4v-27.5h358.1M270 1463.8v-24h29v-24.1h19.3v-24h9.6v-48.1h9.7h19.3v-72.1h9.6v-144.2v-72.1h9.7v-24.1h19.3v-24h19.3h9.6v-24h29v-72.1h19.3v-24.1h57.9v-48h48.2l19.3 -72.2v-48l19.3 -24.1v-24v-24h19.3l9.7 -72.1h38.6l9.6 -72.2h9.7v-72.1h19.3h19.3v-24h38.6v-24h29l19.3 -48.1v-72.1h9.6v-24.1h67.6h144.7v-24h77.2h77.3v-24h48.2v-48.1h337.8M270 1463.8v-61.5h26.6v-61.5v-61.5h26.6v-61.5h17.8v-153.7h17.7v-30.7h8.9v-30.8h26.6v-30.7h26.7v-61.5h17.7v-92.2h8.9h35.5v-30.8v-30.7h8.8h35.5h8.9v-61.5h53.3v-92.2h8.8v-30.8h44.4v-92.2h8.9h26.6h8.9h26.6h62.1l17.8 -153.7h8.8l17.8 -61.5h8.9h53.2h35.5h8.9v-30.8h8.8v-30.7h35.5h150.9v-30.8h106.5v-30.7h88.7h62.1h213M270 1463.8h8.9v-30.7v-30.8v-61.5h26.6v-153.7v-123v-30.7h8.9h17.7h17.8v-61.5h26.6v-30.8h26.6h26.6l26.7 -122.9h8.8h8.9v-61.5h53.2h26.7h71v-92.2h35.4h17.8h44.4v-61.5h8.8l8.9 -30.8h8.9v-30.7h8.9v-61.5h17.7l26.6 -61.5v-153.7h8.9h88.7v-61.5h35.5v-30.8h17.8h8.9h17.7h8.9v-30.7h106.5h71h70.9h8.9h346.1M270 1463.8v-116.6h16.7v-38.9v-77.8h41.9h8.3v-38.9h41.9h8.4v-38.9h8.3v-38.8h16.8v-38.9h8.3v-38.9h16.8v-38.9h8.3v-77.8h8.4h16.7v-38.8v-77.8h8.4h33.5v-38.9v-38.9h117.1v-194.4h8.4l16.7 -38.9h33.5v-38.8h8.4h16.7h8.4v-77.8v-38.9h66.9h8.4h33.5l16.7 -77.8h25.1h58.6h16.7h16.8h58.6h33.4v-77.7h33.5h16.7h83.7h75.3h58.6v-38.9h267.8M270 1463.8v-52.9v-26.4h27.9v-26.5v-105.7h9.3h9.4v-52.9h37.2v-26.4h18.6v-26.5v-52.9h9.3v-79.3h18.7v-26.4h18.6v-79.3h27.9v-26.5h18.6h18.7l18.6 -52.9h9.3v-52.8h18.6v-26.5h18.6v-26.4v-79.3h83.8h55.9l9.3 -26.5v-26.4l9.3 -79.3v-26.5v-52.9h9.3l46.6 -158.6h46.6h9.3h9.3h18.6h9.3v-26.4h9.3h55.9h9.3h9.3v-79.4h65.2h139.7h83.8h37.2v-26.4h27.9h298M270 1463.8v-30h8.9v-30.1h9v-30h17.8v-150.3h9v-60.1h26.8v-30h17.8v-90.1h9v-120.2h8.9v-30.1h8.9v-30h9v-60.1h26.8v-30h17.8v-90.2v-30h17.9h8.9h26.8v-30.1h9v-30h35.7v-90.2h35.7h35.8h17.9v-30h8.9l26.8 -30h8.9h9h17.8h62.6h8.9v-60.1h80.4v-30.1h35.7h26.8h9h8.9h17.9h26.8v-60.1h142.9v-60.1h71.5v-30h71.4h17.9v-60.1h312.7M270 1463.8v-61.5h8.9v-30.7h17.7h8.9v-153.8h17.7h8.9v-30.7h26.6v-153.7h8.9v-30.8h8.9v-92.2h17.7h8.9v-30.7h26.6v-92.3h26.7l8.8 -61.5h8.9h26.6v-30.7h26.6v-30.7h142v-30.8h17.8l17.7 -30.7v-30.8h17.8l17.7 -61.5v-61.5h8.9h35.5l44.4 -92.2l26.6 -30.7h8.8v-30.8h35.5v-30.7v-92.3h8.9h79.9l8.9 -30.7h141.9h97.6h62.2h26.6h266.2M270 1463.8v-58.8v-29.3v-29.4h18v-117.5h36h9v-58.8h18v-58.7h8.9v-117.5v-58.8v-88.1h36v-88.2h18h9l9 -58.7h9h36v-58.8h27v-58.7v-29.4h62.9v-58.8h45h18h9h18l18 -58.7h8.9h18v-29.4h72l27 -117.5h18l9 -29.4h18h44.9h9h45h45l9 -29.4h17.9v-29.3h18h81v-29.4h125.9h81v-29.4h9h260.8M270 1463.8v-48.1h9.7v-24h9.6v-24v-72.2v-72.1v-48h38.6v-24.1h19.3v-48v-48.1v-48.1h9.7v-24v-96.2h48.2v-24h9.7v-24h9.6h29v-48.1h9.6h96.5v-24.1v-72.1h57.9v-72.1h38.6l9.7 -48h9.6v-24.1h29l19.3 -24h9.7h9.6v-72.1h38.6l57.9 -144.2h9.7l9.6 -24.1h19.3v-24h38.6v-24.1v-24h77.2h29v-24h9.6v-48.1h9.7h135.1h86.9h57.9h19.3h250.9M270 1463.8v-33h17.4v-33.1h17.4v-33.1v-33h17.4v-33h8.7h43.5v-132.2h17.4v-165.3v-33.1h8.7v-33h17.4v-33h17.4v-33.1h8.7v-33.1v-66.1h17.4v-33h8.7h8.7h26.1v-33.1h78.3v-99.1h17.4l17.3 -33.1h26.1h26.1v-33h17.4h17.4l52.2 -99.2h26.1l17.4 -99.1h34.8h43.5v-33.1h8.7h26.1v-66.1h52.2h8.7h8.7v-66.1h69.6v-33h121.8h60.9h104.3h34.8h217.5M270 1463.8v-48.1h38.6v-48h19.3v-24.1h9.7v-72.1v-48.1h9.6v-48v-120.2h9.7v-72.1h9.6v-24.1v-24h9.7v-24h9.6h38.6v-72.1h9.7v-24.1h9.6h9.7v-24h48.2v-24.1h19.3v-48h57.9v-48.1h9.7l9.6 -48.1h19.3v-72.1h9.7v-24h9.6v-48.1h38.6l29 -96.1h19.3h19.3v-24.1h38.6v-72.1h9.7h38.6v-48.1h38.6l9.6 -24h19.3h9.7h57.9h135.1v-24h77.2v-24.1h77.2h67.6v-24h270.2M270 1463.8v-82.6h9.2v-192.8h18.3v-55.1h9.2v-27.5h9.2v-55.1v-55.1h18.4v-27.6v-82.6h18.3v-55.1h45.9h36.8h9.2v-27.5h18.3h9.2v-55.1h9.2v-27.5h27.5h18.4v-55.1h137.7v-110.2h55.1v-27.5h36.7v-27.6l18.4 -27.5h82.6l18.4 -82.6h36.7v-27.6h9.2v-55.1h45.9v-27.5v-55.1h27.6v-27.5h27.5h9.2h9.2v-27.6h45.9v-27.5h101h73.4h73.5h27.6h229.5M270 1463.8v-77.8h18.8v-25.9h9.3v-25.9h9.4v-103.7h18.8v-77.8v-25.9h65.6h9.4v-155.5h18.7v-51.9h18.8v-51.8h28.1v-25.9h28.2h18.7v-103.7h9.4v-51.8h18.7h9.4v-51.9h37.5v-25.9h65.7v-51.9h103.1v-51.8h18.8h9.4v-25.9h9.3l9.4 -25.9h18.8h9.3v-51.9h65.7l9.4 -103.7h18.7h9.4h18.7v-25.9h18.8h18.8v-51.8v-26v-25.9h75v-25.9h75h84.4h56.2h37.6h271.9M270 1463.8h9.4v-127.1h18.9v-25.4h9.5v-25.5h37.8v-25.4h9.4v-152.5h9.4v-25.4h37.8v-25.5h9.5v-50.8v-50.9h37.7v-101.7h9.5v-25.4h18.9l18.9 -25.4v-25.4h18.9v-25.4h18.8v-25.5h9.5h113.3v-127.1h28.3h9.5h37.8v-50.8h9.4h18.9v-25.5h9.4v-25.4h37.8l28.4 -76.2h9.4l18.9 -25.5h18.9v-76.2h37.8h9.4v-25.5h18.9v-50.8h37.8h9.4h9.5h18.8v-50.9v-50.8h113.4h132.2h18.9h66.1h236.1M270 1463.8v-27.5h9.2v-27.6h9.2v-55.1h27.5h27.6v-27.5v-27.5h36.7v-82.7v-27.5h9.2v-55.1h18.3v-55.1h9.2v-27.5h27.6h9.1v-27.6h9.2l36.7 -27.5h9.2h18.4v-27.6h27.5v-110.1h18.4v-27.6h137.7v-27.5h45.9l18.4 -27.5h18.4v-27.6h18.3l9.2 -27.5v-55.1h9.2v-82.6h36.7l27.6 -82.7h9.2h9.1h18.4h27.5v-110.1h9.2v-27.6h45.9v-55.1h9.2v-55v-55.1h64.3v-55.1h119.4h110.1h64.3h36.7h174.5M270 1463.8v-38.9h8.4h8.3v-77.7h16.8h8.3h58.6v-77.8v-116.7h25.1v-77.7v-38.9h33.5v-38.9h8.4v-38.9h16.7v-77.7v-38.9h25.1l8.4 -38.9h25.1v-38.9v-38.9h58.6v-77.7h8.3v-155.6h50.2v-77.7h33.5h33.5h33.5h8.3h8.4h8.4v-38.9v-38.9h58.5h25.1h8.4h33.5h25.1v-77.8h83.7h8.3h33.5h16.8h8.3h16.8h8.3h100.5v-38.8h41.8v-38.9h33.5h8.3v-38.9h326.4M270 1463.8h17.5v-32.2h8.8v-32.3h8.7v-64.5v-64.5h17.5h26.3v-32.2h17.5v-96.7v-64.5h17.5v-32.3h8.8v-32.2h17.5v-32.3h35v-32.2h17.5h8.8l8.8 -193.5v-32.2h78.8h61.3v-129h26.2h17.5v-64.5h8.8v-32.2h8.7h52.6l35 -32.3h26.3h17.5v-32.2h78.8v-64.5h17.5v-32.2h8.8h78.8v-64.5h8.7v-32.3h8.8h43.8v-64.5h35v-32.2h87.6h78.8h26.2h306.5M270 1463.8v-27h9.2v-27h9.3v-53.9h27.7v-27h9.3h46.2v-27h9.3v-161.9v-26.9v-54h27.7v-27h9.2v-27h18.5h18.5v-26.9h27.8l9.2 -54h9.3v-27h18.4v-53.9h27.8v-27v-107.9h101.7v-188.9h27.7l9.3 -27h27.7h9.3l9.2 -26.9h37v-54h27.7v-107.9l9.3 -27h27.7h27.8h9.2v-54h27.7h27.8v-26.9h9.2v-27h9.3v-27h27.7h129.5h101.7h101.7h37h249.6M270 1463.8v-22h20v-22.1h30.1v-110.1h20v-44.1h10h30.1v-44.1v-44h10v-44.1h10h20v-44.1h10.1v-66.1h30v-44v-22.1l10 -44v-22.1h20.1h50h20.1v-22v-154.2h30v-66.1h10.1v-88.2v-44v-22.1h20h80.1l30.1 -88.1h10h20h10v-66.1h40.1v-66.1v-22h40.1v-22.1h20l10 -22h20v-22h10.1h30v-22.1h130.2h70.1v-22h100.2h60.1h290.5M270 1463.8v-25.4v-25.4v-25.5h18.9v-25.4h18.9v-76.3v-101.7h9.4v-25.4h47.2v-25.4v-25.4h9.5v-50.9v-25.4h9.4l9.5 -25.4v-50.9h9.4h47.2h18.9v-25.4h103.9v-254.2h28.4h18.8v-101.7h9.5h9.4v-50.9h85l28.4 -101.6l18.8 -25.5v-101.7h66.2v-25.4h18.8h37.8l9.5 -25.4h28.3v-25.4h9.4h75.6h113.3v-25.5h37.8v-50.8h56.7h28.3h340M270 1463.8v-33.9h25.9h34.6v-33.9h8.6v-67.8h34.6h8.6v-33.9h17.3v-33.9v-101.7h8.7v-67.8h8.6v-135.6h8.7v-67.8h8.6v-67.8h8.6h8.7h8.6h8.7h17.2v-33.8h51.9v-67.8h8.6v-33.9h60.5v-101.7h17.3h17.3v-67.8h8.6l26 -33.9v-67.8h8.6l43.2 -33.9h17.3h8.6v-67.8h43.3v-33.9h17.2h43.2h26l17.3 -33.9h25.9h25.9h43.2h95.1v-33.9h69.1v-33.9h103.7v-33.9h25.9h302.5M270 1463.8h17.7h8.9v-30.7h17.8v-92.3h17.7v-123h8.9h44.4v-30.7h17.7v-92.2h8.9v-30.8h8.9v-30.7h8.8h44.4v-61.5h8.9v-30.8h35.5l26.6 -30.7v-30.7h8.9v-30.8h17.7v-30.7h17.8v-61.5h79.8v-153.7h26.6h8.9h8.9h8.9v-92.3v-30.7h44.3l26.7 -153.7h35.5l26.6 -30.8h26.6h35.5v-30.7h17.7h8.9v-30.8h8.9v-30.7v-30.8h35.5h124.2h124.2h71h44.4v-30.7h239.6M270 1463.8h9.6v-97.9v-49h9.6v-73.4h38.3v-24.5v-24.5h38.3v-97.9v-97.9h9.6v-98h19.2v-24.5h9.5v-24.4h9.6v-49h19.2v-24.5h19.1l19.2 -48.9h28.7v-73.5v-24.5h9.6h28.8v-73.4h47.9v-49h28.7v-24.5h28.8v-24.4v-49h19.1v-24.5h57.5l86.2 -73.4h9.6l9.6 -24.5h38.3v-24.5h19.2h9.6v-24.5h57.5h67l28.8 -24.5h9.6h28.7v-48.9h134.1h47.9h47.9h28.8v-24.5h249.1M270 1463.8h17h8.4v-36.7h25.5v-110.2h67.8v-36.7h16.9v-110.2h50.9v-36.7v-110.2v-36.7h16.9v-73.4h17v-110.2h8.4h8.5v-73.4h8.5l8.5 -36.8h33.9h59.3v-36.7h93.2v-146.9h33.9v-36.7h8.5h8.5l16.9 -110.2h8.5h25.4h33.9h17h8.5h42.3v-36.7h17v-36.7h25.4l33.9 -36.7v-110.2h186.5h101.7h33.9h17h262.7M270 1463.8h8.9v-30.7h26.6h8.9v-184.5h8.8v-30.8h35.5h17.8v-61.4v-153.8h17.7v-61.5h17.8v-92.2h26.6v-30.7h8.9v-30.8h8.9v-61.5h8.8l17.8 -61.4h8.8v-30.8h44.4v-30.7h8.9v-30.8h71v-30.7h53.2v-61.5h17.8h8.8h8.9v-61.5h17.8v-61.5h26.6l17.7 -61.5h17.8h17.7h8.9h35.5v-30.7h8.9v-30.8h79.8h35.5v-30.7h17.8h17.7v-30.8h159.8h115.3h35.5v-30.7h35.5h239.6M270 1463.8v-63h8.8v-31.4v-94.5h35.3v-31.4h8.8h35.2v-31.5h8.9v-157.4v-62.9h26.4v-31.5h26.4h17.7h52.9v-31.5h26.4h17.6v-31.5h44.1v-31.4h26.5v-31.5h8.8v-94.5h52.9v-157.3h44h17.7v-31.5h17.6l8.8 -31.5h17.6v-62.9h17.7v-31.5h52.9h17.6h8.8h8.8v-63h35.3v-62.9v-63h44h35.3l8.8 -31.4h26.5h8.8v-31.5h8.8v-31.5h79.3h70.5h88.2h61.7h246.8M270 1463.8v-24.9h9.5v-49.9h9.5v-99.8h9.5v-24.9h19.1v-25h47.5v-99.8h9.5v-99.7h19.1v-74.9h9.5v-74.8h9.5h9.5v-74.8v-49.9h19v-49.9h19l9.6 -49.9h19v-24.9h19v-74.9h28.5v-24.9h19.1v-24.9h123.6v-49.9h28.6h19v-49.9h19h9.5h9.5v-25h47.6l28.5 -124.7h9.5v-24.9h19.1h19v-25h28.5h28.6h19h19h9.5h47.6h152.2v-24.9h114.1v-25h76.1h28.6v-24.9h180.7M270 1463.8v-23.6v-70.8h9.7v-118.1h19.5v-23.6v-47.2h19.4v-47.2h19.5v-23.6h9.7v-47.2v-23.6h9.7v-47.2h9.7h29.2l9.7 -23.7h9.7v-23.6h9.8v-23.6h38.8v-23.6h19.5h58.3v-118l9.7 -23.6h38.9v-23.6h9.8v-118.1h9.7h9.7v-47.2h48.6l29.2 -118h9.7v-23.6h9.7v-70.8h77.8v-23.6h9.7v-47.3h19.5v-23.6h87.5h9.7h19.4h9.7v-23.6h48.7v-47.2h116.6v-47.2h107h58.3h58.3h252.8M270 1463.8v-49.9h9.5v-24.9v-25h9.5v-74.8h38.1h9.5v-24.9h9.5v-74.9h9.5v-74.8h9.5v-25h9.5h9.5v-49.8v-49.9h19.1v-74.9v-24.9l28.5 -24.9h9.5v-25h9.5v-74.8h28.6v-25h9.5v-49.8h76.1v-99.8h57.1l9.5 -25h9.5v-99.7h9.5l9.5 -25v-24.9h9.5v-49.9h85.6l28.6 -25h19h19h9.5v-49.8h47.6v-25h9.5v-24.9h19h66.6h19v-25h9.5v-49.9h19.1h114.1h104.6h76.1v-24.9h19.1h256.8M270 1463.8h17.1h34.1v-35.7v-107.2h17v-71.5h8.6h17h25.6v-35.7h25.6v-35.7h17.1v-35.8h8.5v-35.7h17.1h25.6v-107.2h8.5h25.6v-71.4h42.6v-71.5h8.6h68.2v-71.5h42.7l8.5 -142.9h25.6v-71.4h17v-35.8h42.7l8.5 -71.4h25.6h8.5h42.7v-35.8h17.1v-142.9v-71.4h17h17.1h17v-71.5h8.6h51.1h119.5h136.5h51.1h59.8h238.8M270 1463.8v-26.4h9.3v-52.9v-52.9h9.3v-105.8h28h9.3v-52.8h9.3v-105.8v-79.3h18.6v-26.5h18.6v-26.4h18.6v-105.8h9.4v-52.8h9.3h27.9h9.3h18.6v-26.5h46.6v-79.3v-26.4h65.2v-105.8l9.3 -26.4h18.6v-79.4h18.6h18.7v-26.4h46.5l37.3 -52.9h27.9h9.3h18.6v-26.4h55.9v-52.9v-26.4h18.6h46.6h18.6h18.6h27.9v-26.5h111.8v-52.9h83.8v-26.4h102.4h18.6h307.3M270 1463.8h17.2h8.6v-34.8h8.5v-104.4h8.6h8.6v-104.3h8.6v-104.4v-69.6h17.2h17.1v-104.3h25.8v-34.8h8.6v-34.8h17.2h8.5h17.2v-69.6h60.1v-34.8h34.4v-139.1h25.7v-34.8h34.4v-34.8h8.5v-34.8h43h8.6h8.5l51.6 -69.6h42.9l8.6 -34.8h17.1v-34.8h34.4h8.6v-34.8h60.1v-34.8h60.1v-34.7v-69.6h8.6v-34.8h25.7v-34.8h128.8h51.5h68.7h60.1h300.5M270 1463.8h9.2h27.5v-55.1h18.4v-55.1h18.4v-27.5h9.1v-192.8h18.4v-82.6v-27.6v-110.1v-55.1h9.2v-27.6h9.2v-27.5h9.1v-27.5h9.2v-82.7h9.2v-27.5h27.6h101v-82.6h36.7l9.2 -82.7h45.9h18.3v-55h55.1h18.4h9.2l45.9 -55.1h18.4h64.2v-27.6h18.4h18.4v-55.1h9.1v-27.5h27.6v-55.1h18.3v-27.5h27.6v-27.6h119.4v-27.5h110.1h55.1h27.6h293.8M270 1463.8v-23.6v-23.6v-23.6v-118.1h38.9v-47.2h9.7v-23.6h9.7v-47.2h19.5v-141.6h9.7v-70.9h9.7v-23.6h19.5v-23.6v-23.6h19.4v-94.4h29.2h29.1v-70.8v-47.2h9.8v-47.3h29.1v-47.2h29.2h126.4v-70.8h29.1h19.5h48.6v-23.6h9.7v-47.2h9.7l19.5 -70.8h38.9v-23.6h68h9.8v-23.7h19.4v-23.6h58.3h19.5h9.7h9.7h38.9v-70.8h58.3v-70.8h126.4h126.4h19.5h194.4M270 1463.8v-31.5v-31.5h8.8v-31.4v-94.5h17.6v-94.4v-125.9h8.9v-125.9h8.8v-62.9h35.2h8.8h17.7v-31.5v-31.5h8.8h26.4h8.8h8.9v-63h52.9v-62.9h17.6h96.9v-94.4h52.9l17.7 -31.5h44v-31.5h8.8l8.9 -31.5h8.8h26.4l44.1 -125.9h8.8h17.6h17.7h79.3v-31.4h35.3v-31.5h61.7l8.8 -63h8.8h44.1h114.6v-31.4h79.3v-31.5h44.1v-31.5h26.4h238M270 1463.8v-23.2v-46.4v-162.3h9.8v-23.2v-23.2h49v-46.4h9.8v-46.4h9.8v-46.4h9.7v-46.4h9.8v-46.3h49v-23.2h9.8v-46.4h29.4v-23.2h9.8v-46.4h49v-23.2h19.5v-69.6h107.8v-46.4h9.8v-69.5v-23.2h9.8v-23.2h9.8v-23.2h39.1l29.4 -92.8h19.6l29.4 -46.4h29.4v-23.2h58.7v-69.5h9.8v-23.2h29.4v-23.2h29.4v-23.2h19.6v-23.2h39.2h127.3v-23.2h97.9h78.4h39.1v-46.4h244.9M270 1463.8v-73.4v-24.5v-98v-122.4h28.7v-24.4h28.8v-49h9.6v-49h9.5v-48.9v-24.5h9.6v-49v-24.5h57.5h19.2v-48.9h9.6h19.1v-24.5h19.2v-49h9.6h86.2v-122.4h28.7h19.2h38.3h9.6v-48.9h19.2l19.1 -73.5h9.6h57.5h19.2v-24.5h47.9h9.6v-24.4h28.7h28.7l9.6 -24.5v-24.5v-49h9.6v-24.4h134.1v-24.5h124.6v-73.5h86.2v-48.9h9.6v-49h306.6M270 1463.8v-28.7h9.1v-28.8h9v-86.2v-86.2h9.1v-57.5h27.1v-86.2h18.1v-201.2v-57.5h27.2v-86.2h27.2h36.2h54.3v-57.5h18.2h18.1l9 -28.7v-28.7h9.1h27.2v-28.8v-28.7h36.2h18.1l27.2 -57.5h27.1h9.1h27.2v-28.7h9h54.3l36.3 -28.8h18.1l27.2 -28.7v-28.7h63.3v-28.8v-57.5h18.2h54.3h18.1v-28.7h36.2v-28.7h163v-28.8h63.4v-86.2h63.4h36.3h217.3M270 1463.8v-105.8v-211.5h27.9h9.3v-26.4h9.4v-26.5v-105.7h9.3v-52.9h18.6v-79.3h37.2h9.3v-26.5h46.6v-26.4h18.6h9.3h9.3h46.6v-26.4h74.5v-158.7h46.6h9.3h37.2v-105.7h9.3v-52.9h9.3v-52.9h55.9l27.9 -52.9h9.3h18.7h9.3v-52.9h37.2v-26.4h37.3v-26.4h9.3v-26.5h27.9v-26.4h55.9h139.6v-26.5h102.5h93.1v-26.4h27.9h232.8M270 1463.8v-105.8v-52.8v-26.5v-105.7h9.3v-26.5v-26.4h37.3h27.9v-26.5h18.6v-26.4h46.6v-79.3v-26.5h9.3l9.3 -26.4h9.3v-26.4h46.6v-26.5v-26.4h111.7v-79.3h74.5h27.9v-26.5l18.6 -26.4h9.4v-52.9v-26.4h46.5l37.3 -132.2h9.3l27.9 -52.9h9.3v-26.5h46.6v-52.8h9.3v-52.9h27.9v-26.5v-52.8v-52.9h149h93.1h83.8v-52.9h27.9h298M270 1463.8v-68.4v-45.6v-68.3v-68.4h9.9v-22.8h9.8v-22.8h29.6v-45.6h19.8v-136.8v-68.3h9.8v-22.8h19.8h19.7v-45.6h29.6v-22.8v-22.8h9.9l9.8 -45.6h9.9v-22.8h29.6v-68.4h49.3h29.6v-22.8h79v-45.5h29.6v-22.8h49.3l9.9 -45.6h19.7l29.6 -22.8h9.9l19.7 -22.8v-68.4h39.5v-45.6h19.7v-22.8h29.6v-22.8h69.1l9.9 -22.7v-45.6h9.8h157.9v-68.4h98.7v-22.8h59.2v-22.8h59.2h236.8M270 1463.8v-77.8v-77.7v-51.9v-77.7h18.8v-26h9.3v-25.9h9.4v-25.9v-129.6h18.8h18.7v-25.9h18.8h9.4h28.1v-26h28.1h18.8h9.3v-103.6h37.6v-26h37.5v-77.7h65.6v-51.9h18.8h9.3h9.4l9.4 -51.8h18.7v-51.9h84.4l37.6 -129.6h28.1h37.5h56.3v-25.9h18.7v-77.7h18.8l18.7 -26h9.4v-25.9h18.8h131.2v-51.8h93.8h75v-51.9h9.4v-25.9h290.7M270 1463.8v-24h9.7v-24.1h9.6v-24v-24h9.7v-72.2h48.2v-120.1v-72.1v-72.2v-72.1v-48v-48.1h29v-120.2h19.3h38.6l19.3 -24h9.6v-24.1h9.7v-24h57.9v-48.1h57.9v-48h48.2l29 -24.1h57.9v-24h29h9.6h9.7v-96.2h57.9l9.6 -96.1h9.7h38.6v-24v-48.1v-24.1h9.6h38.6h164.1v-24h115.8v-24h106.2v-48.1h270.2M270 1463.8v-76.3h9.4v-50.8h28.4v-76.3h28.3v-25.4h9.5v-76.3h9.4v-25.4v-101.7h9.4v-50.8v-25.5h18.9h9.5v-101.7h37.8v-25.4v-50.8v-76.3h9.4v-50.8v-25.5h37.8v-50.8h28.3v-50.9h113.3v-50.8h28.4h37.7v-25.4h18.9l9.5 -25.4h9.4v-76.3h9.5h56.6h9.5h9.4h18.9h18.9h37.8v-25.4h9.4h18.9l9.5 -25.5h18.8h37.8h113.4v-50.8h113.3v-76.3h103.9h18.9v-25.4h264.4M270 1463.8h8.9h9v-30h8.9v-120.2h8.9v-120.2h17.9v-30.1v-60v-210.4h17.9v-90.1v-30h17.8h26.8v-30.1h9h17.8h17.9h8.9h80.4v-30h17.9v-30.1h89.4h26.8h8.9h26.8v-90.1h17.9h8.9h8.9h9v-60.1h35.7l26.8 -90.1h53.6h26.8h17.9v-30.1h26.8v-90.1h8.9v-30.1h35.7h53.6l9 -30h8.9h8.9h35.8h62.5v-30.1h89.3v-60.1h80.5h17.8v-30h259.1M270 1463.8v-52.9v-52.9v-185h18.6h18.6v-26.5h9.4v-52.9v-52.8v-26.5h9.3h9.3h9.3v-26.4h27.9v-52.9h37.3v-105.8h18.6h9.3h37.2v-26.4h28h9.3v-52.9h46.5v-79.3h46.6h46.6v-52.9h27.9v-79.3h65.2l37.2 -52.9h18.6l18.7 -52.9h9.3v-26.4h65.2v-26.4h18.6v-26.5h46.5v-26.4h37.3l18.6 -26.5v-26.4h9.3h37.3v-26.4h55.8h121.1v-26.5h111.7h9.3v-79.3h232.8M270 1463.8h9.8v-23.2v-69.6v-139.1h9.8v-69.6v-23.2h9.8v-46.4v-69.6v-69.5h19.6h9.8v-69.6h9.8v-23.2h29.3v-46.4h9.8v-23.2h9.8h19.6h29.4v-23.2h49v-23.2h19.6v-23.2h97.9v-69.6h49v-23.1h19.6h9.8l9.7 -23.2h19.6v-23.2h49l29.4 -69.6h19.6h29.4h48.9h49v-69.6h9.8h19.6v-116h29.4h19.5v-46.3h9.8h49h58.8v-23.2h107.7v-46.4h68.6v-46.4v-23.2h284M270 1463.8h20.8v-40.7h10.4v-61h10.4v-81.3h10.5v-40.7v-61h10.4v-61.1h20.8v-122v-122v-81.4h10.4h41.6v-40.6h10.5v-20.4v-40.7l10.4 -20.3h10.4v-20.3h31.2h52.1v-20.4h177v-81.3h10.4v-40.7v-40.7v-20.3h10.4h10.4v-40.7h93.7l20.8 -61h20.8v-20.4h20.9h31.2v-20.3h10.4v-20.3h31.2h10.4l31.3 -40.7h20.8h41.6v-61h72.9v-20.4h156.2v-20.3h62.4h31.3h10.4h197.8M270 1463.8v-27v-80.9v-81v-53.9v-27h9.2v-27h9.3h18.5v-80.9h18.5v-54v-27h18.5v-26.9h9.2v-54h9.3v-54v-26.9h18.5l18.4 -54h9.3v-27v-80.9h46.2h18.5h92.5v-134.9h46.2h9.3h36.9v-27h9.3h18.5l27.7 -107.9h9.3l27.7 -27h9.2v-27h92.5h9.3v-26.9h18.4h37l18.5 -54h9.3v-27h55.4v-27h157.2v-26.9h92.5v-27h92.5h27.7v-27h221.9M270 1463.8v-26.4h9.3v-185.1v-52.9v-26.4v-79.4h27.9v-52.8h9.4v-26.5h9.3v-26.4h9.3v-26.5h18.6v-26.4v-26.4h18.6v-52.9h9.3v-105.8h18.7v-26.4h37.2v-52.9h9.3h46.6v-26.4h130.3v-52.9h46.6v-26.5h37.2v-26.4h9.3l9.4 -52.9h9.3v-26.4h9.3h83.8l9.3 -52.9h18.6l37.3 -26.4h27.9v-26.5h37.2h55.9h27.9v-79.3h28v-26.4h37.2h149h83.8v-26.5h55.9v-26.4h27.9v-52.9h167.6M270 1463.8v-25.4v-25.4v-127.2h9.4v-50.8v-76.3h9.5v-76.2h18.9v-101.7h9.4v-76.3v-25.4h9.5v-25.5h28.3v-25.4h9.4h28.4h9.4h18.9h9.5v-25.4h28.3v-25.4h47.2v-50.9h37.8h37.8v-25.4v-50.8v-25.5v-25.4h47.2l28.3 -25.4h28.3l37.8 -76.3h18.9v-25.4h37.8v-25.4v-25.4v-25.5h37.8l9.4 -25.4h9.5v-50.8h47.2v-50.9h132.2v-101.7h94.4h113.4h66.1v-25.4h302.2M270 1463.8v-92.2v-61.5v-61.5v-61.5h8.9h17.7v-30.7h53.3v-92.3h26.6v-153.7h17.7v-61.5h17.8v-30.7v-61.5h44.4v-61.5v-30.7h17.7v-61.5h17.7v-30.8h53.3h8.9v-30.7h35.5v-30.8h70.9h8.9h17.8v-30.7v-61.5h8.8h26.7v-30.7h62.1l17.7 -30.8h17.8l8.9 -30.7h17.7v-30.8h71v-30.7h53.2h44.4l8.9 -30.8h8.8h26.7h44.3h88.8v-61.5h106.5v-30.7h88.7h26.6h177.5M270 1463.8v-24.5v-48.9h9.6v-171.4h28.7v-24.5h9.6v-49h19.2v-48.9h9.5v-146.9v-49h28.8v-73.4h28.7v-122.4h9.6v-49h38.3h19.2h19.2v-24.5h47.9v-24.5h9.6h47.9v-48.9h47.9v-24.5h47.9v-24.5l19.1 -48.9h9.6v-24.5h76.7v-49h9.5l28.8 -24.5h19.2h67v-48.9h38.3h9.6v-49h28.8h19.1v-24.5h38.4h143.7v-24.5h95.8v-48.9h86.2v-24.5h47.9h162.9M270 1463.8v-46.4h9.8v-162.3v-69.6v-92.8v-23.2h9.8v-139.1h9.8v-69.6h29.4h9.8v-23.2h19.5h19.6h9.8h9.8h29.4h39.2h29.4v-23.2h137.1v-46.4h29.4h9.8h19.5v-69.6h39.2v-69.5h19.6v-69.6h39.2l58.8 -69.6h19.5l29.4 -46.4h9.8h29.4v-23.2v-23.2h29.4v-46.4h48.9h9.8v-46.3h9.8h19.6h117.6v-69.6h48.9v-23.2h68.6v-46.4h29.4v-23.2h274.2M270 1463.8v-91.2v-68.4v-68.3h9.9v-91.2h9.8v-22.8h19.8h19.7v-22.8h9.9v-45.6h19.7v-22.8h9.9h9.8v-22.8h29.6v-22.8h19.8v-68.3h39.4v-45.6h9.9h29.6v-45.6h29.6v-45.6h49.3v-22.8h9.9v-22.8h69.1v-45.6h19.7h9.9h19.7v-22.8h29.6l29.6 -45.5h9.9l19.7 -22.8h29.6v-22.8h49.4v-45.6h9.8v-22.8h29.6v-114h69.1h9.9v-91.1h9.8v-22.8h19.8v-22.8h157.8v-22.8h59.2v-22.8h98.7v-22.8h49.4v-45.6h197.3M270 1463.8h9.2v-27.5v-275.5h18.3v-82.6h9.2h36.8v-110.2h9.1v-27.5v-55.1v-27.5h9.2h18.4v-55.1h9.2v-27.5h9.1v-55.1h18.4v-55.1h9.2h18.4v-55.1h55v-27.5h147v-27.6h9.1h18.4h18.4v-27.5h9.2v-27.6h18.3h64.3h27.5h36.8h18.3h73.5v-27.5v-27.5h9.2v-27.6h64.2l9.2 -27.5v-27.6h18.4v-55.1h27.5v-27.5h91.8v-55.1h128.6v-27.5h45.9v-27.6h45.9v-27.5h211.2M270 1463.8v-44.1v-22h20v-66.1v-22v-22.1h10v-44v-88.2v-44h10.1v-44.1h20v-22v-44.1h10v-66.1h10h10.1l10 -88.1v-66.1h30v-66.1h30.1v-66.1h20v-66.1h140.2v-44.1h10.1v-44.1h40v-22h20.1v-22h20h10v-22.1h40.1l30 -66.1h20h40.1h50.1v-22h30v-22h30.1v-44.1h30.1h20h20h30.1v-22h50.1v-44.1h120.2h90.1v-22h40.1v-22.1h40v-22h220.4M270 1463.8v-45.6v-45.6v-22.8h9.9v-45.6h9.8v-22.7h9.9v-114v-159.6h19.7v-91.1h19.8v-91.2h9.8v-45.6h29.6h29.6v-22.8h9.9v-22.8h29.6h39.5v-22.8h9.8h88.8v-91.1h39.5v-22.8h39.5h29.6l19.7 -22.8h9.9v-45.6h59.2l9.9 -45.6h39.4h9.9h59.2v-45.6h19.7v-22.8v-22.8h29.6v-22.8h19.8v-91.1h9.8v-22.8h29.6v-22.8h167.8v-45.6h98.7v-45.6h69h9.9h236.8M270 1463.8v-27.5v-27.6h27.5v-55.1h9.2v-220.3v-27.5h27.6h9.2v-110.2v-27.6h18.3v-27.5v-27.5v-27.6h18.4v-27.5v-27.6l9.2 -27.5h9.1v-55.1v-27.5h9.2v-27.6v-27.5h156.1v-82.6h64.3h64.3h9.2l9.1 -27.6h9.2v-27.5h36.7l9.2 -82.6h18.4v-82.7h9.2v-55.1h64.2h18.4v-27.5h27.6v-27.5h36.7l9.2 -27.6h27.5v-27.5v-27.6h18.4h156.1h101v-27.5h45.9h18.3h275.5M270 1463.8v-73.4v-49v-24.5v-97.9h19.2v-24.5h9.5v-49v-24.4v-73.5h19.2v-48.9h9.6h28.7v-24.5h19.2v-24.5h47.9v-73.5h9.6v-24.4h9.6h19.1v-73.5h28.8v-48.9h57.5v-24.5v-24.5h86.2v-24.5h47.9h19.2h28.7v-24.5h19.2l9.5 -24.5h38.4h9.5v-24.4l19.2 -146.9h19.2h9.6h28.7v-24.5h9.6v-73.4v-73.5h9.6v-49h19.1v-24.4h9.6h9.6h19.1h134.2h67v-24.5h67.1h67.1v-24.5h297M270 1463.8h9.2v-27.5v-55.1v-137.7v-27.6h9.2v-55.1h18.3v-137.7v-55.1v-55h9.2v-55.1h18.4v-27.6h18.3v-55h36.8v-27.6h36.7h18.4v-27.5h27.5v-27.6h27.5h101.1v-137.7h64.2v-27.5h55.1h9.2v-82.6h45.9h18.4h27.5h9.2h9.2v-27.6h55.1h18.3v-55.1h45.9l18.4 -27.5v-27.6h45.9v-55h146.9v-27.6h82.7h73.4v-27.5h27.6v-55.1h238.7M270 1463.8v-66.1v-66.1v-165.2h26.1v-33.1v-33.1h26.1v-132.2h8.7h17.4h26.1h8.7h17.4v-165.2h8.7h17.4h17.4h34.8v-33.1h26.1v-33h60.9v-33.1v-33h121.7v-99.2h43.5l8.7 -66h26.1v-33.1h17.4v-33.1h17.4l17.4 -132.2h17.4h43.5h17.4h60.9v-66.1h8.7v-33h26.1v-33.1h69.6h17.4h165.3h52.1h52.2h26.1v-33h217.5M270 1463.8v-67.8h25.9h17.3v-67.8v-101.7h8.7v-33.9h8.6v-67.8h8.6v-135.6h8.7v-101.7h8.6v-101.6h17.3v-33.9h17.3h8.6v-33.9h51.9h17.3h8.6v-33.9h8.6v-33.9h34.6v-33.9h77.8v-67.8h34.6h8.6h17.3v-33.9h17.3l25.9 -33.9v-67.8h17.3h17.3l34.5 -33.9h17.3l8.7 -33.9v-33.9h51.8h17.3v-33.9h51.8h43.2h17.3h8.7v-101.7h25.9h8.6h103.7v-33.9h69.2h51.8h34.6h311.1M270 1463.8v-52.9v-26.4v-158.7h18.6v-52.8h28v-132.2h9.3v-52.9h18.6v-26.5h9.3v-52.8v-26.5h9.3h37.3h9.3h18.6h18.6h9.3v-52.9h18.6h55.9v-185h55.9h9.3h18.6v-26.5h9.3h18.7v-26.4h9.3v-26.5h55.8l37.3 -79.3h27.9l18.6 -26.4h9.3h55.9v-52.9h18.6v-26.4h28v-52.9h27.9h18.6h18.6h9.4v-26.5h18.6v-26.4h130.3v-26.4h121.1h55.9v-52.9h9.3v-52.9h279.3M270 1463.8v-96.7h17.5v-64.5h26.3h17.5v-64.5h8.8h26.2h8.8v-129v-32.2h8.7v-32.3h17.5v-32.2h8.8v-64.5h26.3v-64.5h35h8.8v-32.2h17.5h52.5v-32.3h17.5v-96.7h96.3v-64.5h70.1l17.5 -64.5h26.3v-64.5h8.7l8.8 -32.2h17.5v-32.3h70l17.6 -64.4l8.7 -32.3h26.3h43.8v-64.5h26.2h8.8h43.8h35v-32.2h148.8v-32.3h78.9v-32.2h113.8v-32.3h26.3v-32.2h131.3M270 1463.8v-22.4v-22.4h9.9h39.8v-89.6h9.9v-44.9h19.9v-44.8h39.8v-22.4v-89.6h29.8v-44.8h10h19.8v-67.2h10v-44.8h9.9v-44.9h39.8h39.8h9.9h9.9v-22.4h39.8v-22.4h19.9v-67.2h109.3h29.9v-89.6h59.6v-22.4h19.9l9.9 -44.8h19.9v-22.5v-67.2h69.6l39.8 -112h9.9h19.9h9.9v-22.4h59.7v-22.4h9.9h49.7h29.9l9.9 -44.8v-22.4h9.9v-89.7h19.9h99.4v-44.8h29.9v-22.4h69.6v-22.4h49.7v-22.4h129.2M270 1463.8h8.9v-30h17.9v-30.1h8.9h26.8v-90.1h35.8v-150.3v-120.1v-30.1h8.9h35.7h17.9v-30h17.9v-30.1v-30h44.6l9 -30.1h17.8h35.8v-30h26.8v-30.1h8.9h116.2v-60h44.6h9h17.8v-30.1h26.8h26.8v-30h62.6l17.8 -90.2h26.8l17.9 -30h8.9v-60.1h17.9v-60.1h26.8v-60.1h53.6l17.9 -30h8.9v-90.2h35.7h116.2v-30h71.5v-30.1h89.3v-30v-60.1h187.6M270 1463.8v-49.9h9.5h9.5h19v-124.7h28.6v-49.9h76.1v-49.9h19v-74.8h9.5v-74.8v-25h28.6v-24.9h19v-49.9h28.5v-49.9v-49.9h28.6h19v-24.9h28.5h57.1v-25h9.5h104.6v-74.8h57.1l19 -24.9h28.6v-74.9h19v-24.9h9.5v-49.9h38.1l76.1 -24.9h19h19h19v-25h19.1v-24.9h9.5v-25h9.5v-49.9h57v-24.9h9.6v-25h19v-49.8h19v-25h95.1v-74.8h57.1v-49.9h47.6h9.5h171.2M270 1463.8v-76.3h9.4h9.5v-25.4v-76.3h9.4v-50.8h9.5v-76.3v-101.7h37.8v-76.2h18.8v-25.5h28.4h9.4v-50.8h37.8v-25.4h9.4v-76.3h28.4h18.9h9.4h56.7v-25.4h9.4v-25.4h56.7v-76.3h18.9h9.4h37.8v-25.4l18.9 -50.9h9.4h28.4v-50.8h56.6l18.9 -50.9h37.8h9.4v-25.4h56.7h9.4h18.9v-25.4h56.7l28.3 -25.4v-25.5h9.5h47.2h103.9v-76.2h66.1v-101.7h66.1v-76.3h255M270 1463.8v-27h9.2v-27h27.8v-26.9h9.2h37v-27h27.8v-27h9.2v-27h18.5h9.2v-107.9h9.3v-27h18.5v-80.9h9.2h18.5v-54h55.5v-27v-80.9h101.7v-54h18.5l9.2 -53.9h64.8v-27h9.2h18.5h9.2v-27h9.3v-26.9h37l9.2 -108h37l27.7 -53.9h27.8v-27h64.7h9.3h18.4v-54h18.5l27.8 -26.9h9.2v-27v-27h18.5v-107.9h148v-27h36.9v-54h46.3v-80.9h18.5h268.1M270 1463.8v-27.5h18.4v-55.1h9.1v-55.1h9.2v-27.5v-110.2v-55.1v-27.5v-55.1h18.4v-27.6h18.4h73.4v-55.1h9.2h27.5l9.2 -27.5h9.2h27.5h27.6v-27.5h9.2v-55.1h101v-55.1h27.5l9.2 -27.5h27.6v-27.6h18.3h9.2h9.2v-55.1h9.2v-27.5h36.7h18.4h9.1l18.4 -27.5h45.9h82.6v-55.1h36.8h27.5l18.4 -55.1v-55.1h27.5v-55.1h165.3v-110.2h91.8v-82.6h64.3v-27.5h9.2v-55.1h192.8M270 1463.8v-33.9h8.6h8.7v-101.7h43.2h8.6v-101.7h26v-67.8h17.2v-67.8h8.7v-33.9h8.6v-33.9h43.2v-67.8h17.3l17.3 -33.9h17.3h8.6h69.2v-135.5h60.5v-33.9h8.6h8.6h17.3h17.3h17.3h51.8l26 -67.8h17.3h17.2h8.7h95v-33.9h17.3v-67.8h25.9h60.5l17.3 -101.7h8.7v-33.9v-33.9h60.5v-33.9h103.7v-33.9h77.7v-67.8h51.9v-67.8h25.9v-67.8h224.7M270 1463.8h9.2v-55.1h9.2h18.3v-110.1h27.6h9.2v-27.6h9.1v-55.1h9.2v-27.5h18.4v-27.6h9.2h27.5v-27.5h36.7v-55.1h45.9v-82.6h18.4h9.2v-27.6h18.4v-55h27.5v-27.6h27.6h55v-82.6h18.4l18.4 -27.5h36.7v-82.7h9.2l18.3 -27.5h46v-27.5h27.5l9.2 -27.6h9.2v-27.5h18.3v-27.6h27.6v-55.1h27.5v-27.5h55.1h9.2h18.4v-27.5h27.5h128.5v-82.7h101v-82.6h73.5v-27.5h18.4v-110.2h238.7M270 1463.8v-32.2h35v-32.3h17.5h35.1v-32.2h17.5v-96.8v-32.2h17.5h35v-64.5h8.8h17.5v-32.2v-32.3h8.7h8.8h8.8h43.7v-32.2h43.8v-32.3v-32.2h61.3v-161.2h8.8l8.7 -96.8h87.6h8.7v-32.2h8.8v-32.3h26.3l26.2 -257.9h8.8h17.5h26.3v-64.5h70h35h61.3h8.8h8.8v-32.2h35v-32.3h70v-64.5h78.8v-32.2h78.8h43.8v-64.5h245.2M270 1463.8h18.1v-28.7v-57.5v-28.8h9.1h45.2v-57.4v-57.5h9.1v-28.8h9.1h18.1h9h36.3v-86.2l18.1 -28.7h9v-86.2h72.5v-28.8h90.5v-143.7h36.3v-28.7h9h9.1h9v-28.7h27.2h54.3l63.4 -115h27.2h27.2v-115h54.3v-28.7h36.2h27.2v-28.7v-57.5h27.2h27.1v-28.7h144.9v-86.3h45.3v-28.7h54.3v-86.2h36.3v-57.5h262.6M270 1463.8v-101.7h8.6v-33.9h17.3v-67.8v-33.9v-33.9h51.9v-33.9v-135.6h43.2v-101.7v-33.9h17.3h8.6v-33.9h17.3v-33.9h17.3v-67.7h17.3h8.6v-33.9v-33.9h43.2v-33.9h17.3v-33.9h103.7v-67.8h43.2v-33.9h25.9h8.7h8.6h8.7h17.2h69.2h43.2h17.3h8.6h25.9v-33.9h69.2v-33.9h17.3h25.9l8.6 -33.9h17.3v-33.9h25.9h112.4v-101.7h51.8v-33.9h77.8v-67.8h17.3v-33.9h250.6M270 1463.8v-34.8h8.6v-104.4h17.2h25.7h8.6v-34.7h17.2v-69.6v-34.8h8.6v-34.8h8.5h43h17.1h17.2v-34.8v-34.8h25.8l17.1 -34.8h8.6v-34.8h17.2h25.8v-34.8v-69.5h128.7v-174h17.2l8.6 -34.8h42.9h17.2h25.8h17.1v-34.8h34.4h34.3l25.8 -104.3h42.9h17.2h25.7v-34.8h25.8h17.2v-34.8h17.1v-69.6h43h8.5h8.6v-34.8h25.8v-69.6h103h77.3h60.1v-69.5h17.2v-104.4h214.6M270 1463.8v-30h35.7h9v-30.1h17.8h9h8.9v-60.1v-60.1v-60.1h26.8v-30h8.9v-60.1v-30h17.9v-30.1h8.9v-60.1h17.9v-30h8.9v-30.1h17.9v-30h17.9h142.9v-90.2h26.8l17.9 -30h35.7l9 -90.1h8.9v-30.1h17.9l35.7 -60.1h26.8l26.8 -30h35.7h80.4v-30.1h44.7v-90.1h44.7v-60.1h35.7v-30h17.9h116.1v-120.2h62.5h89.4h35.7v-120.2h205.5M270 1463.8h17.9h35.7v-30h35.7v-30.1h9h17.8v-60.1h9v-90.1h8.9v-30.1h17.9v-30h26.8v-60.1h8.9v-30h17.9v-30.1h17.8l26.8 -60.1v-60.1h26.8v-30h44.7v-30.1h9v-60.1h98.2v-150.2h17.9v-90.1l8.9 -30.1h9h8.9h35.7l17.9 -90.1h26.8l8.9 -30h26.8v-60.1h71.5h17.9h17.8h26.8v-60.1v-30.1h9v-30v-60.1h151.8v-60.1h98.3h71.5h26.8h241.2M270 1463.8v-23.6h9.7h19.5h29.1v-23.6v-47.2h29.2v-47.2h29.2v-70.9h19.4v-70.8v-23.6h9.7v-47.2h29.2v-47.2h9.7h38.9h9.7h19.5v-47.2h38.9v-23.6h29.1h19.5h68v-118.1h29.2l29.2 -47.2h29.1h9.7l19.5 -47.2h19.4v-23.6v-47.2h48.6l29.2 -47.2h19.5l9.7 -23.6h19.4h87.5v-47.3v-70.8h29.2v-23.6h19.4v-118h19.5v-23.6v-23.6h38.9v-23.7h87.5v-23.6h68v-94.4h48.6v-23.6h19.5v-23.6h233.3M270 1463.8h19.6v-46.4v-23.2h39.2v-23.2h19.6v-46.4h19.5v-23.2h49v-46.3h9.8v-46.4v-46.4h9.8v-46.4v-23.2v-23.2h39.2v-69.6h29.4l19.5 -46.3v-23.2h39.2v-46.4h19.6v-69.6v-23.2h127.3v-92.8h39.2h9.8h49v-69.5v-46.4h9.8h19.6v-46.4h19.5l19.6 -46.4h9.8l39.2 -46.4h9.8v-23.2h88.1v-23.2h9.8h19.6h39.2h19.6v-23.2h29.4v-23.2h78.3v-23.2h78.4v-69.5h58.7v-46.4v-69.6h235.1M270 1463.8h8.8h17.6v-63h8.9h17.6h52.9v-62.9h8.8v-125.9h8.8v-125.9h35.3v-31.5h8.8v-31.5h8.8v-62.9h26.4h26.5v-31.5h8.8v-31.5h26.4v-31.4h8.9v-31.5h52.8v-125.9h35.3l17.6 -63h8.8h8.9v-31.5h8.8v-31.4h17.6h61.7l8.8 -125.9h44.1l17.6 -63h8.8h44.1h17.6h44.1h61.7h17.6h26.5h141v-94.4h97v-63h35.2v-31.4h52.9v-63h220.4M270 1463.8h9.1h9v-86.2h18.1v-28.8h18.1v-28.7h45.3v-57.5h9.1v-57.5h9v-28.7h9.1h27.2v-57.5h9h27.2v-114.9h27.1h18.2v-28.8h9v-86.2h72.5v-57.5h99.6v-28.7h45.3l9 -28.7h9.1v-28.8h9v-28.7h9.1h18.1h90.6l27.1 -28.8h9.1h18.1h9.1v-57.4h36.2v-28.8h36.2v-57.5h18.1l18.1 -86.2h9.1v-86.2h99.6v-86.2h126.8v-28.7h81.5v-57.5h45.3v-57.5h181.1M270 1463.8v-25.9v-25.9h9.4v-51.9h37.5h9.4h9.3v-77.8h18.8v-51.8h18.8v-51.8h9.3v-51.9h28.2h18.7v-51.8h9.4v-25.9h9.4v-26h18.7v-25.9h37.5h9.4v-25.9h140.7v-155.5h75v-103.7h28.1h9.4l18.8 -51.9v-77.7v-26h75l18.7 -103.6h9.4h9.4v-77.8h75h18.8v-25.9h65.6l9.4 -25.9h18.7v-26h9.4v-25.9h18.8v-51.8h140.6h112.5v-26h18.8v-51.8h18.8h187.5M270 1463.8h9.2v-27.5v-27.6v-55.1h9.2h27.5h45.9v-55h9.2h18.4v-27.6h9.1v-27.5h9.2v-27.6h9.2v-55.1h9.2v-137.7h27.5l9.2 -27.5h9.2h27.5h36.8h9.2h156.1v-110.2h9.1h45.9h9.2v-82.6h9.2v-82.6h18.4v-27.6h27.5l45.9 -82.6l9.2 -27.5h18.4h18.3v-27.6v-55.1h18.4v-82.6h18.4v-27.5h9.1v-27.6h9.2h9.2v-27.5h137.7v-82.6h82.7v-55.1h91.8h45.9v-55.1h257.1M270 1463.8h8.8v-31.5h8.8h8.8h8.9v-31.5h17.6v-125.9v-94.4h17.6v-31.5v-94.4h52.9h17.6h35.3v-62.9h26.4h35.3h26.4h8.9v-31.5h26.4v-31.5h17.6v-31.5v-31.4h123.4v-94.5h35.3l8.8 -31.5h26.5v-31.4h17.6h8.8h8.8h8.8h70.5h17.7h8.8l35.2 -31.5v-31.5h70.6v-31.5h8.8v-94.4h8.8v-31.5h26.4l26.5 -31.4h8.8v-63h17.6v-62.9h8.8v-31.5h44.1h79.3v-94.4h79.4v-31.5h8.8v-31.5h246.8M270 1463.8v-82.6h18.4v-110.2h18.3v-110.2h9.2h9.2h18.4v-55h18.3v-27.6v-82.6h64.3h27.5h18.4v-27.6h45.9v-27.5h27.6v-27.5h9.1h36.8v-27.6h36.7h27.5h128.6v-27.5h36.7v-27.6h9.2v-55l18.4 -82.7h9.1v-27.5h18.4h36.7l55.1 -27.5h18.4l18.4 -27.6h18.3h36.7v-55.1h9.2v-55.1h9.2v-27.5h9.2l27.5 -55.1v-55.1v-55.1h9.2v-82.6h73.5v-55.1h82.6v-27.5h73.5h9.2h229.5M270 1463.8v-23.2h39.2v-46.4v-23.2h9.8h58.7h19.6v-23.2h19.6v-69.5h9.8v-69.6v-23.2v-23.2h9.8v-23.2v-69.6h19.6h9.8v-23.2v-46.4v-23.2h9.8v-69.5h29.4v-69.6h29.3v-23.2h137.2v-139.2h39.1v-69.5h29.4h9.8h39.2h39.2v-46.4h19.6l9.7 -46.4h19.6v-69.6h58.8v-23.2h9.8h29.4h19.6v-46.4v-69.5h19.5v-46.4h137.2v-46.4h78.3h39.2h49v-69.6h274.2M270 1463.8h9.4h18.9v-25.4h47.3v-25.4h28.3v-76.3v-101.7h9.4v-101.7h28.4v-25.4h18.9v-25.4h9.4h56.7v-25.5h9.4v-76.2h28.3l18.9 -25.5h28.4v-127.1h28.3v-50.8h28.3h113.4v-25.4h37.7v-25.5h18.9v-127.1h9.5h9.4h9.5v-50.8h9.4l37.8 -127.1h9.4l18.9 -25.5h18.9v-50.8h66.1v-25.4h9.5v-25.5h28.3h28.3l18.9 -50.8v-50.9h9.5h18.8h113.4h56.6v-25.4h66.1h28.4v-25.4h217.2M270 1463.8v-27.5h9.2v-27.6v-27.5h18.3v-27.6h27.6v-82.6h18.4v-27.5h45.9v-27.6h9.1v-82.6h18.4h9.2v-55.1h55.1v-27.5h27.5v-27.6h9.2v-55.1h18.4v-27.5h36.7v-27.5h9.2h137.7v-55.1h36.7l18.4 -27.6h27.6v-27.5v-27.5h18.3v-27.6h45.9l18.4 -82.6h36.7l36.7 -27.5h18.4h45.9v-55.1h18.4v-82.7h9.2v-27.5h18.3l27.6 -27.5v-27.6v-55.1h110.2v-27.5h110.1v-55.1h46v-55.1h27.5v-82.6h202M270 1463.8v-58.8h9h9v-117.5h54h9v-29.3h17.9v-29.4h9v-176.3h18v-88.1h9h9v-29.4h18h36v-29.4h9h36h44.9h9v-58.7h45v-58.8h18h89.9v-88.1h45v-58.8h27h18v-29.4h9h98.9l9 -29.3h45l9 -58.8h18h44.9h18v-58.7h36v-29.4h18l18 -29.4h9v-29.4v-58.7h27v-29.4h80.9v-58.8h90v-29.3h53.9v-29.4h27v-29.4h170.9M270 1463.8h35.7v-30h17.9v-60.1h35.7v-30.1h17.9v-30h17.9v-30.1v-30h8.9v-120.2h17.9h8.9h17.9h8.9v-60.1h35.7l17.9 -30h26.8v-60.1h53.6h26.8h71.5v-90.2h35.7v-30h71.5v-60.1h8.9h9h17.8v-30h9v-60.1h44.6l44.7 -120.2h8.9l26.8 -120.2h35.8v-30h26.8v-30.1v-30h53.6v-30.1h8.9v-90.1h8.9h53.6v-30.1h89.4h44.7v-30h62.5v-30.1h35.7v-30h205.5M270 1463.8v-25.9h9.4v-25.9v-26h9.4v-51.8v-51.9h18.7v-25.9h28.1v-77.7h28.2v-103.7h9.4v-25.9h9.3v-77.8h37.5v-25.9h28.2v-51.9h28.1h18.8h28.1v-25.9h9.4h93.7v-77.8h28.2l9.3 -51.8h37.6h18.7v-77.8h9.4h18.7v-25.9h65.7l28.1 -155.5h18.8h18.7h9.4h65.6v-25.9v-26h18.8v-25.9h9.4l9.4 -25.9h18.7v-51.8h37.5h178.2h65.6h56.3v-77.8h9.4v-103.7h234.4M270 1463.8v-76.3h9.4v-76.2h28.4v-25.5h9.4h28.4h9.4v-127.1h9.4v-25.4h28.4h18.9v-25.4h18.9v-25.4v-50.9h28.3h9.4v-25.4h18.9h66.1h9.5v-50.9h103.9v-101.7h37.7l9.5 -101.6h9.4v-25.5h18.9v-76.2h18.9v-50.9h94.4l18.9 -25.4h18.9l9.5 -76.3h9.4v-25.4h9.5h9.4v-50.8h18.9v-25.5h56.7l28.3 -50.8h18.9v-25.4h9.4h37.8v-50.9h132.2h66.1h47.2v-50.8h9.5v-76.3h236.1M270 1463.8h9.5h19h9.5v-74.8h9.6v-25h47.5v-24.9h9.5v-149.7h9.5v-49.9h19.1v-24.9h9.5v-25h9.5v-24.9h38v-74.8h9.6v-25h19l19 -49.9h9.5h28.6v-49.8h47.5h19h76.1v-74.9h47.6l9.5 -24.9h57.1h28.5h19v-74.8h9.6h19l28.5 -149.7h19l19.1 -24.9h47.5v-49.9h57.1v-124.8h19h9.5v-24.9h19.1l9.5 -49.9v-49.9h19h19v-24.9h76.1h47.6h47.5v-25h9.6v-24.9h266.3M270 1463.8v-58.8h9v-29.3h18v-29.4h18h36v-58.8v-29.3v-29.4h17.9v-29.4h9v-29.4h18v-29.4h18v-29.3h18h27v-58.8h62.9v-29.4h9v-58.7h81v-29.4h36h9h18h35.9l18 -58.8v-29.3h9v-29.4h54l36 -58.8h26.9h36h9v-58.7h36v-88.2v-88.1h27v-58.7h27v-29.4v-29.4v-29.4h18h143.9v-146.9h71.9v-29.3h45h45v-58.8h278.8M270 1463.8v-23.2h19.6v-23.2h39.2v-23.2h9.8v-23.2h29.3v-115.9h19.6v-116v-23.2h9.8v-46.4v-23.2h9.8v-46.4h39.2v-69.5h9.8h9.8h19.6h9.8v-46.4h9.8v-23.2h58.7h19.6v-23.2h78.4v-23.2h9.8v-23.2h29.3v-46.4h9.8l9.8 -46.4h29.4v-46.4v-23.1h78.4l9.8 -116h9.8l9.7 -23.2h19.6v-23.2h58.8v-23.2h68.6l9.7 -23.2h9.8h19.6h127.4v-92.8h78.3v-115.9h19.6v-23.2h39.2v-46.4h284M270 1463.8h9.2v-27.5h18.3v-82.7h9.2h18.4v-55h18.4v-82.7h27.5v-27.5v-27.6h9.2v-27.5h9.2h9.1h36.8v-27.5h9.2l9.1 -27.6h9.2h27.6h45.9v-27.5h101v-82.7h55.1l27.5 -27.5h18.4v-27.5v-82.7v-55h9.2h45.9l18.3 -110.2h18.4l18.4 -55.1h9.1v-55.1h55.1v-27.5h9.2v-82.6h27.6v-82.7h55.1v-27.5h18.3v-110.2v-55.1h18.4h101h91.8h55.1v-27.5h18.4h284.6M270 1463.8v-57.5h9.1v-57.5h27.1v-28.7h54.4v-86.2h27.1v-86.2h18.1v-28.8h18.2v-28.7h9v-28.7h63.4v-86.3h18.1h27.2h9v-143.7h27.2h54.3h9.1h81.5h9.1l27.1 -28.7h54.4h9v-57.5h9.1v-57.5v-114.9h63.4l27.1 -57.5h27.2h27.2v-28.7h54.3h9.1h63.4v-57.5v-57.5h18.1v-57.5h9v-86.2h99.7v-57.5h81.5h63.4v-28.7h27.1h190.2M270 1463.8h9.2h18.5h9.3v-80.9h18.5v-27h9.2v-27h46.3v-27v-107.9h18.4v-80.9h27.8v-54h9.2v-54h27.8v-26.9h9.2v-54h18.5v-27h27.7h18.5h37v-27h37h37v-53.9h9.2v-27h92.5v-107.9h46.2l37 -27h18.5v-27h9.3l9.2 -26.9h18.5v-27h64.7h9.3h18.5l18.4 -27h18.5v-27h37h9.3v-80.9h46.2v-54h27.7l27.8 -27v-80.9v-27h27.7v-27h64.7v-26.9h37v-27h64.7h18.5v-27h212.7M270 1463.8h8.8v-31.5h8.8v-125.9h8.8h17.7h17.6v-31.5v-31.4v-63h17.6h17.7v-31.5h8.8v-31.4h26.4l8.8 -31.5h8.8h26.5v-63h35.3h17.6h114.6v-157.3h35.2l8.8 -31.5h61.7v-31.5h8.9v-31.5h17.6v-62.9h17.6l17.7 -157.4h26.4h8.8h35.3v-63h70.5v-62.9v-94.4h26.4h8.8h17.7v-31.5h8.8h17.6v-125.9h141.1h149.8v-31.5h88.1h26.5h185.1M270 1463.8h9.4h9.5v-101.7h18.9h18.9v-50.8h28.3v-25.5h9.4v-25.4h18.9v-25.4h9.5v-50.9h9.4v-25.4h18.9v-25.4h28.3h9.5h28.3h9.5v-101.7h9.4h18.9h18.9v-25.4h75.5v-178h37.8l18.9 -76.2h18.9v-50.9h9.4h18.9h9.5h37.7l28.4 -76.3h47.2h9.4h18.9v-50.8h28.4v-25.4h9.4v-127.1v-50.9h28.3l9.5 -76.3v-25.4h9.4v-50.8h37.8h132.2h103.9v-25.5h66.1v-25.4h18.9v-25.4h273.9M270 1463.8h9.2h9.3v-54h27.7h27.8v-26.9h27.7v-27h27.7v-54v-27h18.5v-80.9h9.3v-27v-53.9h37h9.2h9.3v-27h9.2v-54h46.2v-53.9h9.3h129.4v-54h37v-54v-26.9h9.3l18.5 -27h9.2h55.5l9.2 -80.9h9.3l55.4 -54h18.5v-80.9h27.8v-81h37v-53.9h27.7h9.2h9.3v-27v-27h55.5v-54h120.2v-80.9h120.2v-27h18.5v-27h36.9v-80.9h231.2M270 1463.8v-63h26.4v-157.3h44.1h8.8h35.3v-31.5v-94.4h8.8h35.3v-94.5h17.6v-157.3h17.6v-31.5h26.5l17.6 -63h8.8v-31.5h35.3v-62.9h26.4v-31.5h17.6v-31.5h132.3v-125.9h26.4h17.6v-31.4h8.9v-31.5h79.3l17.6 -31.5h26.5h17.6h17.6h52.9h17.6h17.7h8.8h17.6h17.6h8.8h35.3h70.5v-62.9h114.6h88.2v-63h26.4v-125.9h176.3M270 1463.8h8.9v-30.7h35.5v-30.8v-184.5h26.6v-30.7h8.9v-30.7h8.8v-30.8h8.9v-92.2h8.9v-30.8h35.5h35.5v-30.7v-30.8h35.5h26.6h35.5h35.5v-30.7h53.2h17.8h115.3v-123h26.7l8.8 -30.7h44.4v-30.8h17.7v-61.4h8.9v-30.8h53.3l35.5 -61.5h17.7l44.4 -61.5v-92.2h44.3h17.8h17.7l8.9 -61.5h17.8h8.8v-92.2h106.5v-61.5h97.6v-30.8h88.8v-30.7h35.5h124.2M270 1463.8h36.2v-28.7h18.1v-28.8h27.2v-57.5h18.1v-28.7h45.3v-28.7v-86.3h9.1v-86.2v-57.4h36.2v-28.8h18.1v-57.5h18.1v-86.2h9.1v-57.5h36.2l9 -28.7h9.1h27.2v-57.5h18.1v-86.2v-28.7h99.6v-28.8h54.3l9.1 -57.5h27.2v-28.7h18.1v-28.7h9h36.3l18.1 -57.5h9l9.1 -57.5h9v-28.7h63.4v-57.5h27.2v-57.5h36.2v-28.7h9.1h45.3v-28.8h90.5h81.5v-28.7h45.3h54.3h235.5M270 1463.8v-25.9v-25.9h18.8v-51.9h18.7v-103.7h28.1h9.4h46.9v-51.8h18.8v-51.9h18.7v-25.9h9.4h9.4v-25.9h18.7v-51.8h9.4h37.5h18.8h18.7h28.2v-51.9h37.5v-51.8v-26h131.2v-129.6h28.2h9.4h18.7h9.4v-51.8h9.4v-25.9h46.8l28.2 -129.6h9.4l28.1 -26h9.4v-51.8h56.2v-25.9h9.4h18.8v-25.9h46.8l9.4 -51.9h9.4v-77.7h9.4v-26h28.1v-77.7h131.3h28.1v-26h37.5v-25.9h37.5v-25.9h225.1M270 1463.8h26.1v-66.1h34.8v-66.1h34.8h17.4h34.8h8.7v-198.3h8.7v-165.3v-33h26.1v-33h8.7v-66.2h17.4v-33h8.7h17.4l8.7 -33.1h8.7h8.7v-33h26.1h17.4h78.2v-132.2h43.5l8.7 -66.1h34.8v-66.1h17.4h8.7h8.7v-33.1h69.6l52.2 -33h17.4h34.8h43.5v-33h34.8h17.4l17.4 -66.2v-33h8.7v-33.1h17.4h95.7v-33h113h26.1v-66.1h43.5h217.5M270 1463.8h27.5v-27.5h9.2v-27.6v-27.5h9.2v-27.6h36.7v-55h18.4v-27.6v-27.5h9.2v-55.1h9.2v-82.6h18.3v-110.2h9.2v-27.6h9.2h36.7v-27.5h82.7v-27.5v-55.1h82.6v-55.1h18.4h18.3h18.4l9.2 -27.5h9.2v-27.6h18.3v-27.5h91.8l18.4 -165.3h18.4l18.3 -27.5h9.2v-55.1h55.1v-27.5h18.4v-27.6h27.5h36.7l9.2 -27.5v-27.6h9.2h27.5v-27.5h110.2h101h64.3v-55.1h64.3v-137.7h192.8M270 1463.8v-47.2h19.4v-23.6h9.8v-118.1h38.9v-23.6h19.4v-70.8h19.4v-47.2v-23.6h9.8v-94.4h19.4h19.5h19.4h19.4v-47.3h19.5v-23.6h19.4h9.8v-23.6h19.4h58.3h9.8v-23.6h116.6v-70.8h48.6h9.7h48.7v-47.2v-23.6v-70.8h9.7v-47.2h48.6l29.2 -94.5l9.7 -23.6v-23.6h29.1h9.8h9.7h48.6l19.4 -70.8v-70.8v-47.3h9.8v-47.2h106.9v-23.6h97.2v-70.8h87.5v-23.6h9.7h243.1M270 1463.8h18.1h18.1v-28.7h9.1v-28.8h9h9.1v-28.7h54.3v-172.5h18.1v-28.7h9.1v-57.5h9.1v-57.4h18.1v-28.8h27.1h9.1l9 -28.7h9.1v-86.2h36.2v-28.8h45.3h9.1v-28.7h126.8v-86.2h18.1h9h27.2h9h18.2h27.1v-57.5h9.1v-57.5h36.2l27.2 -172.4h9h18.1v-28.8h54.4v-28.7v-57.5h27.1v-57.5h18.2h18.1v-57.4h9v-28.8h18.1v-28.7h81.5v-28.8h72.5h54.3h36.3v-28.7h280.7M270 1463.8h8.6v-69.6v-34.8h25.7v-34.8h25.8v-34.7h17.2v-34.8h17.1v-104.4h17.2h68.7v-69.6h8.6v-34.8h60.1v-34.8h17.2h42.9h8.6h17.1v-34.8h43v-34.7h17.1v-69.6h8.6h128.8v-139.2h34.4l8.5 -34.8h8.6h8.6v-34.8h8.6h34.3l8.6 -208.7h17.2l8.6 -34.8h8.6v-104.4h34.3h17.2h42.9v-34.7h51.5l8.6 -34.8v-34.8h42.9h60.1h111.7v-34.8h42.9h25.7v-34.8h206.1M270 1463.8h9.4h9.4h18.7v-103.7h28.1v-25.9h9.4v-51.9h28.2v-25.9h18.7v-25.9h9.4v-103.7v-25.9v-25.9h18.7v-25.9h9.4l9.4 -26h9.4h9.3v-25.9h9.4h168.8v-103.7h37.5v-25.9v-51.8h9.4v-103.7v-25.9h9.4v-26h18.7l9.4 -77.7h28.1l28.2 -26h18.7h18.8v-103.6h18.7v-51.9h28.2v-25.9h56.2v-77.8h9.4v-25.9h9.4h56.3v-51.8h131.2h84.4v-51.9h121.9v-25.9h9.4h253.2M270 1463.8v-46.4h29.4h19.6v-23.2h9.8v-46.4h39.1v-23.2h9.8h49v-92.7h9.8v-92.8h19.6v-92.8h39.2v-46.4v-46.3h48.9v-116h9.8h9.8v-46.4h19.6h39.2v-23.2h29.4h48.9v-116h39.2v-23.1h49v-23.2l9.8 -46.4v-23.2h19.6h78.3l19.6 -69.6h19.6h9.8v-23.2h19.6v-46.4h19.6h29.3l19.6 -23.2h19.6v-23.2h58.8v-69.5h127.3h39.2v-23.2h39.2v-92.8h48.9v-23.2h225.3M270 1463.8v-29.4h9v-29.4h9h27v-117.5h53.9h45v-29.3v-58.8h9v-29.4h9v-29.4h45h9v-29.3h44.9v-117.5h27v-29.4l27 -29.4h9v-29.4h27v-88.1h36h80.9v-58.8h9v-58.7h36h18v-88.2v-29.3h36v-29.4h26.9l72 -58.8h45l27 -58.7h8.9h45v-29.4h27v-58.8h45h18v-29.3h27v-29.4h98.9v-58.8h71.9h45v-58.7v-29.4h197.9M270 1463.8h8.6v-34.8h8.6h17.1v-34.8h17.2v-34.8h17.2v-104.3h17.2h8.5h17.2v-69.6h17.2h25.7v-34.8h25.8v-69.6h25.8l25.7 -69.6h8.6h25.8h25.7v-34.8h8.6h60.1v-34.7h51.5h8.6h17.2v-104.4h25.7v-34.8v-34.8h17.2h60.1h8.6h25.7h43h25.7v-104.4h60.1v-34.7v-34.8v-69.6h43v-34.8h8.5v-139.2h8.6v-104.3h8.6h146v-34.8h68.7h25.7v-69.6h8.6h300.5M270 1463.8v-58.8h18v-29.3h9v-117.5h9h9v-58.8h27v-29.4h9v-29.4h17.9v-117.5h9h9h36l9 -29.3h9v-29.4h45h35.9v-58.8h18v-29.4h152.9v-88.1h45h27v-29.4h9l9 -117.5h9v-29.4h9h71.9l36 -29.3h18l9 -29.4h45v-58.8h18v-29.3h44.9v-58.8v-29.4h18v-58.7h36h152.9h116.9v-29.4h27v-88.1h18v-58.8h179.9M270 1463.8v-32.2h17.5v-32.3h8.8v-32.2h26.2v-32.3h26.3h17.5v-32.2h8.8h8.7v-193.5h8.8h35h17.5v-32.2h26.3h8.8h17.5l8.7 -32.3h43.8v-32.2h43.8v-32.3h35v-32.2h105.1v-32.2h17.5l17.5 -32.3h26.3v-96.7h8.7h8.8h8.7v-32.3h8.8h35l26.3 -96.7h8.8h8.7h26.3h35v-64.5h17.5h26.3v-32.2h8.7v-64.5h17.6v-32.3v-64.4h43.7v-64.5h96.4v-64.5h96.3h61.3h35v-129h218.9M270 1463.8v-60.1h8.9v-30h44.7v-60.1h26.8v-30.1h8.9v-60.1h9v-30h26.8v-60.1h17.8h17.9h8.9v-30h9v-90.2h17.8h17.9h8.9h9v-30h89.3h9h35.7v-90.2h8.9l17.9 -30h26.8l17.9 -30.1h17.8v-30v-60.1h80.4l9 -120.2h26.8h8.9h35.7v-60.1h26.8v-30h26.8v-60.1h9v-60.1h35.7h35.7v-60.1v-30h9h107.2h98.2v-60.1h98.3v-60.1h17.9v-60.1h241.2M270 1463.8v-58.8h9h9v-58.7h9h9v-29.4h53.9v-29.4h9v-117.5v-58.7v-29.4v-58.8h36v-29.3h36h9h9h27v-29.4h71.9h81v-58.8h27l26.9 -29.4h36v-58.7h9l9 -58.8h9v-29.3h9v-29.4h27l18 -88.2h18h18h17.9h99v-29.3h9v-88.2h53.9v-29.3h9v-58.8h9v-29.4v-29.4h9v-58.7h117v-58.8h98.9v-29.3h36v-58.8h18h269.8M270 1463.8v-24.9h9.5v-25h19h28.6h9.5v-24.9h47.5v-74.9h19.1v-99.7v-25h9.5h38v-99.8h19.1v-74.8h19v-49.9h28.5v-49.9v-24.9h9.5v-24.9h19.1v-25h9.5v-24.9h123.6v-74.9h28.6v-24.9h38h19v-74.8h28.6v-74.9h9.5l9.5 -24.9h19h9.5h9.5v-24.9h28.6h9.5v-99.8h19v-49.9h47.6l19 -74.8h19v-25h9.5h19.1h104.6v-24.9h123.7h38v-74.9v-24.9h304.4M270 1463.8v-24.9h19v-25v-24.9v-74.9h19v-24.9h28.6h19v-24.9h9.5v-25h19v-74.8h9.6v-49.9h9.5v-74.8h28.5l19 -25h19.1h9.5h57v-49.9h9.6h123.6v-124.7h28.6l19 -24.9h19l19 -25h9.5v-24.9h28.6l47.5 -74.8h28.6h38h19v-25h9.6v-24.9h9.5v-49.9v-49.9h66.6v-24.9h9.5v-124.8h38v-74.8h19v-49.9h133.2v-24.9h85.6v-49.9h95.1h19.1v-49.9h180.7M270 1463.8v-25.9v-51.9h37.5h9.4v-25.9h9.4h28.1v-51.8h9.4v-77.8h9.4v-51.8v-26h28.1v-51.8h18.7v-51.8h9.4h46.9v-51.9h9.4v-25.9h56.2v-25.9h9.4v-26h65.7v-77.7h65.6h28.1v-77.8h9.4v-51.8h9.4v-51.9h56.3l9.3 -103.7l46.9 -25.9h18.8h9.3v-25.9h28.2v-25.9h28.1v-25.9h46.9l28.1 -26v-51.8h65.7v-25.9h159.4v-51.9h131.3v-25.9h46.9v-51.8h18.7v-77.8h168.8M270 1463.8h9h9v-29.4v-29.4h9v-29.3h9v-58.8h27v-117.5v-29.4h9v-58.7h17.9v-29.4v-29.4h9v-29.4h36v-29.3v-29.4h27h27h9h27v-29.4h44.9v-29.4h90v-29.4h36h62.9h9l18 -29.3v-29.4h9h27v-117.5h18l9 -58.8h18v-29.4h71.9v-58.7v-29.4h18v-29.4h54v-29.3v-29.4h18h17.9h126h80.9v-117.5h117v-176.3h26.9h224.9M270 1463.8h27.9v-79.3h9.3v-79.3h9.4h18.6v-52.9h18.6v-79.3h9.3v-52.9v-52.9h18.6v-26.4h46.6v-26.5v-26.4h18.6v-26.5h18.6h18.7v-26.4h18.6v-26.4h232.8v-26.5h55.8l9.3 -26.4h18.7v-52.9h9.3l9.3 -52.9h9.3v-52.9v-79.3h27.9l18.7 -105.7h27.9l9.3 -26.5v-26.4h55.9v-52.9h9.3v-52.9h46.5v-26.4h18.7l18.6 -26.5h9.3v-26.4h9.3v-79.3h102.4v-52.9h74.5h55.9h27.9h232.8M270 1463.8v-28.7h9.1h27.1v-28.8h18.1v-28.7h36.3h9v-28.8h9.1v-28.7h27.1v-28.7h9.1v-57.5v-28.8h18.1v-28.7h9.1v-28.7h27.1v-28.8v-28.7h9.1h18.1h18.1h27.2v-57.5h36.2v-114.9h9.1v-28.8h81.5v-86.2h18.1h9h18.2h9l18.1 -57.5h9.1v-28.7h9v-28.8h9.1v-86.2h18.1v-57.5h9.1v-57.4h90.5v-28.8h9.1v-57.4h54.3h45.3v-57.5h9v-28.8v-28.7h54.4v-57.5h135.8v-28.7h45.3h72.5h54.3v-57.5h226.4M270 1463.8h9h9v-58.8v-58.7h18h9v-29.4h9v-58.7v-117.6h9v-88.1h26.9v-29.4h9h27v-117.5h9h27v-29.4h9v-58.7h27h36h9v-29.4h152.9v-88.1h53.9h9h27h9l9 -29.4v-29.4h63l35.9 -58.7h18h9h36h36h27v-29.4h17.9v-29.4h36l9 -58.7h9h9v-88.2h27v-29.4h107.9v-58.7h63h63v-88.1h17.9v-58.8h233.9M270 1463.8v-49.9v-24.9h28.5h9.5v-49.9h19.1h19v-25h28.5v-99.7h19.1v-49.9h28.5h9.5v-49.9h28.5v-49.9h9.6h19v-124.7v-49.9h9.5v-49.9v-49.9h28.5v-24.9h76.1v-25h9.5v-24.9h95.2v-49.9h38l19 -24.9h38.1v-49.9h9.5v-25v-49.8h19v-25h85.6l28.6 -49.9h9.5l28.5 -24.9h19h28.6v-25h47.5v-24.9h28.6h9.5v-25h28.5h19v-49.8h95.2h66.6v-49.9h104.6v-25h28.5v-74.8h133.2M270 1463.8h17.4v-33v-33.1h17.4v-66.1h8.7h34.8h26.1v-132.2h8.7v-99.2v-99.1h34.8v-33.1v-66h26.1v-99.2h43.5h8.7h8.7v-99.2h17.4h43.5h17.4h69.5v-33h60.9h17.4h43.5v-33h17.4l26.1 -33.1h8.7h8.7h52.2l17.4 -33.1h17.4l8.7 -33h60.9v-33h26.1h52.2l8.7 -33.1h8.7v-66.1h26.1h69.6v-66.1h86.9v-66.1h113.1v-33.1h34.8v-99.1h34.8h139.2M270 1463.8v-25.4h9.4v-25.4h18.9v-50.9h9.5h28.3v-25.4h56.7h9.4v-25.4h9.5v-25.5v-25.4v-50.8h18.9v-25.5h9.4v-50.8h9.4v-50.8v-50.9h9.5h9.4v-25.4h9.5v-50.9h75.5v-127.1h47.3h28.3h18.9v-25.4h28.3v-50.8h28.3h9.5h75.5l37.8 -127.2h9.5l37.7 -25.4h28.4h18.9v-50.8v-76.3v-25.4h9.4l18.9 -25.4h9.4v-76.3v-25.4h18.9v-25.5h75.6h56.6v-50.8h113.4v-76.3h28.3v-25.4h340M270 1463.8v-66.1v-33.1h17.4v-33h52.2v-66.1h8.7h60.9v-33.1h17.4v-66h17.4v-66.2h8.7v-33h26.1h17.4v-33.1h26.1v-66.1h17.4v-66h26.1v-33.1h34.8h8.6h78.3h26.1l26.1 -66.1h43.5v-66.1h8.7h26.1h17.4v-33.1h8.7v-66h69.6l26.1 -66.2h34.8l43.5 -66h8.7h34.8v-66.2h17.4v-99.1h17.4h26.1l8.7 -33.1h8.7v-33v-66.1h52.2v-66.1h78.2h43.5h43.5h234.9M270 1463.8h18.6v-26.4h9.3v-52.9h55.9h9.3v-26.5h37.3v-52.8v-79.4v-26.4v-52.9h18.6v-79.3h27.9v-52.9h9.3h9.3h46.6l27.9 -79.3h9.3v-26.4h37.3v-79.4h37.2v-52.8h28h46.5v-52.9h65.2l9.3 -52.9h55.9v-105.8h9.3v-26.4h27.9v-52.9v-52.9h28v-26.4h27.9h46.5h55.9v-26.4h18.6v-26.5h28h27.9l9.3 -105.7h9.3h111.8h65.1h83.8v-52.9h28v-52.9h186.2M270 1463.8v-34.8v-69.6h8.6h17.2v-34.8h42.9v-34.7h8.6v-34.8h8.6v-34.8h8.5v-69.6h8.6v-69.6h51.5h17.2v-34.8h8.6h8.6v-34.8h8.6v-34.8h68.7v-34.7h120.2v-69.6h34.3h17.2h8.6h25.7v-34.8h8.6v-34.8h17.2h25.7l17.2 -69.6h8.6h25.7h25.8h34.3v-69.6h60.1v-69.5h17.2v-69.6v-104.4h34.4h137.3v-69.6h51.5v-69.5h103.1v-104.4h17.1v-34.8h266.2M270 1463.8v-28.7h27.2v-57.5h18.1h18.1v-28.8h9h54.4h9v-57.4v-86.3h9.1v-28.7h9.1v-86.2h36.2v-28.7h9v-28.8h9.1l9 -28.7h18.2h9v-57.5h36.2v-57.5v-28.7h108.7v-115h18.1h27.2v-57.5h9.1v-28.7h18.1v-28.7h36.2l18.1 -57.5h36.2l9.1 -57.5h18.1h36.2v-28.7h18.1v-86.2h45.3l9.1 -57.5h9h9.1v-57.5h63.4v-28.7h72.4h72.5v-28.8h81.5v-28.7h54.3v-57.5h271.7M270 1463.8h26.3v-129h17.5v-64.5v-32.2h17.5h35v-32.3h43.8v-96.7h8.8v-96.7h8.7v-32.3h17.5v-32.2h35.1h17.5v-64.5h26.2v-32.2h17.5l17.6 -64.5h26.2h78.8h8.8v-32.3h52.5h17.5l8.8 -32.2h35h17.5v-32.3v-32.2h8.8v-32.2h105.1l26.2 -64.5h8.8l8.7 -32.3h17.6h17.5v-64.5h8.7v-32.2h26.3h35l17.5 -32.2h17.5h17.6h70v-64.5h113.8v-96.8h87.6v-64.5h35v-32.2h166.4M270 1463.8v-58.8h9v-58.7v-88.1h36v-29.4h18h9h9v-29.4h26.9h27h9h27v-29.4h9v-58.7h27h9v-29.4h18h17.9v-29.4h135v-58.7h26.9v-29.4h27v-58.8v-146.9h9v-58.7h27l27 -146.9h27h9h27v-29.4h26.9v-58.7v-29.4h45v-29.4h81h18h17.9h108v-117.5h107.9v-58.8h99v-29.3h8.9v-58.8h242.9M270 1463.8v-50.8h9.4h9.5v-101.7h9.4h9.5h9.4v-25.5h9.5h18.9v-50.8v-101.7h37.7v-50.8h18.9v-25.5h28.4v-25.4h9.4h18.9l9.4 -76.3h9.5h18.9v-25.4h56.6v-50.8h9.5h47.2v-178h37.8l28.3 -50.8h18.9v-25.5h9.4h18.9v-25.4h9.5h66.1l18.9 -101.7h9.4h66.1v-25.4h18.9v-50.8h37.8v-25.5h37.8h18.9h9.4h37.8v-25.4h160.5v-25.4h47.2v-50.9h94.5v-25.4h37.8v-127.1h198.3M270 1463.8h9.2h18.5h9.3v-54h18.5v-107.9h18.5h37v-53.9h9.2v-54h9.2v-27h37v-27h9.3v-53.9h9.2h18.5v-27h18.5h9.3v-27h55.4v-53.9h18.5h101.7v-54h18.5l9.3 -54h27.7v-161.8h9.3v-54h9.2v-53.9v-54h64.7l9.3 -107.9h18.5h27.7v-27h46.2v-27h9.3v-53.9h27.7h37l9.2 -27h9.3v-27h9.2h46.3h138.7v-27h73.9v-53.9h55.5v-54h27.7h231.2M270 1463.8v-28.7h18.1v-28.8h9.1v-57.5h63.4h9v-28.7h36.2v-28.7h18.2v-57.5h9v-86.2h18.1h18.1v-28.8h9.1h27.2v-28.7h18.1v-28.7h9v-57.5v-57.5h18.1h18.2v-28.7v-28.8h126.7v-86.2h27.2v-143.7h18.1v-28.7h18.1h27.2v-28.8h54.3l36.3 -114.9h36.2l18.1 -28.8v-86.2h72.4v-28.7h9.1v-28.8h54.3v-28.7h18.2h9h9.1v-28.7h18.1v-28.8h99.6h45.3v-28.7h63.4h36.2v-57.5h226.4M270 1463.8v-47.2v-23.6v-23.6h9.7v-23.6h19.5v-70.9v-70.8h19.4v-47.2h9.7h9.8v-23.6h9.7h38.9v-94.4h9.7h9.7l9.7 -23.6h29.2v-70.9v-47.2h38.9v-23.6h19.4h48.6v-23.6h77.8h9.7h77.8v-47.2h9.7v-23.6h9.8v-23.6h48.6l9.7 -141.7l48.6 -23.6h19.4h29.2h19.5v-23.6h19.4v-70.8h19.4h9.8v-23.6v-47.2h38.9v-70.8h136.1v-23.6h97.2h87.5v-70.9h29.1v-118h243.1M270 1463.8h8.8v-220.3h8.8v-63h17.7h17.6v-62.9v-31.5h8.8v-31.5h17.6h8.8h8.9v-62.9h26.4v-31.5h17.6h8.8h35.3v-63h79.3v-31.4h8.9h141v-157.4h44.1h17.6h17.6h8.8l26.5 -31.5h17.6v-63h17.6h26.5l26.4 -62.9l8.8 -31.5h17.7v-31.5h35.2v-31.4h35.3h35.2h17.7h17.6h17.6v-63h26.5h105.8v-94.4h88.1v-31.5h70.5v-62.9h17.6v-63h211.6M270 1463.8v-73.4h19.2v-73.5h9.5v-49h9.6h19.2v-24.4h38.3h67.1v-49h9.6v-97.9v-73.5h28.7v-24.4h19.2v-49h9.5h48v-49v-73.4h9.5h19.2h19.2h19.1v-49h172.5v-73.4h76.6v-24.5h28.8v-24.5h9.6h9.5h9.6h19.2v-24.5h28.7l38.3 -97.9h9.6h9.6v-24.5h47.9v-24.5v-73.4h47.9v-49h19.2h9.6h9.5h19.2v-48.9h115v-98h28.7v-24.4h57.5v-24.5h9.6v-24.5h201.2M270 1463.8v-34.8h17.2v-69.6v-34.8h8.6v-69.5h51.5v-69.6h8.6h42.9v-69.6v-69.6h25.7h25.8v-104.3h42.9v-34.8h17.2h51.5h17.2h8.6h17.1h34.4h17.2h17.1h60.1v-104.4h51.5v-34.8h34.4v-34.8h17.2l42.9 -34.8v-34.8h42.9l60.1 -139.1h8.6h42.9h17.2v-69.6h60.1h17.2h8.6v-69.6h25.7l8.6 -34.8v-34.8h85.9v-69.5h51.5v-34.8h42.9v-34.8h25.8v-34.8h214.6M270 1463.8v-54h9.2v-26.9v-27h27.8v-81v-107.9h37v-53.9v-54h18.5v-107.9h36.9v-54h37v-53.9h46.3v-81h18.5h27.7l9.2 -26.9h9.3h18.5h18.5v-27h92.4v-27h37v-54h27.8v-26.9h9.2l9.2 -27h9.3v-27h9.2v-27h18.5h27.8h46.2h18.5h9.2v-27h46.3v-26.9h9.2h27.8v-27h18.4h18.5h9.3v-27h9.2v-27h37h92.5v-53.9h147.9v-54h64.7v-80.9h46.3v-54h166.4M270 1463.8v-24v-48.1h9.7v-24h38.6v-48.1h28.9h38.6v-48.1h9.7v-72.1h9.6v-24h9.7v-24.1h19.3v-48h9.6h29h9.6h29l9.6 -24.1h29v-24h38.6v-48.1h19.3v-24h48.2v-48.1h9.7l9.6 -48.1h19.3h9.7l9.7 -72.1h28.9v-48.1h9.7v-72.1h57.9l38.6 -120.1h19.3l38.6 -24.1h9.6v-24h9.7v-24.1h38.6v-24h9.6v-48.1h19.3h9.7h9.6v-48h19.3v-24.1h38.6v-48h86.9v-48.1h57.9v-96.2h77.2h19.3v-24h279.9" fill="none" stroke="#bebebe" stroke-width="5.8" stroke-linejoin="round" stroke-linecap="round"/>
<path d="M270 1463.8L270 1437.4L279.3 1437.4L279.3 1410.9L288.6 1410.9L288.6 1384.5L297.9 1384.5L297.9 1305.2L316.6 1305.2L316.6 1278.7L325.9 1278.7L325.9 1252.3L353.8 1252.3L353.8 1199.4L363.1 1199.4L363.1 1120.1L372.4 1120.1L372.4 1067.2L381.7 1067.2L381.7 1040.8L400.4 1040.8L400.4 1014.3L409.7 1014.3L409.7 987.9L437.6 987.9L437.6 935L446.9 935L446.9 908.6L465.5 908.6L474.8 882.1L484.2 882.1L484.2 855.7L502.8 855.7L502.8 829.2L540 829.2L540 802.8L549.3 802.8L549.3 776.4L642.5 776.4L642.5 697L679.7 697L689 670.6L716.9 670.6L716.9 644.2L726.3 644.2L735.6 617.7L744.9 617.7L744.9 591.3L754.2 591.3L754.2 564.8L800.7 564.8L828.7 485.5L847.3 485.5L865.9 459.1L884.5 459.1L884.5 432.6L931.1 432.6L931.1 406.2L940.4 406.2L940.4 379.8L968.3 379.8L968.3 353.3L1005.6 353.3L1014.9 326.9L1024.2 326.9L1024.2 300.4L1033.5 300.4L1033.5 274L1061.5 274L1061.5 247.6L1173.2 247.6L1173.2 221.1L1257 221.1L1257 194.7L1322.2 194.7L1322.2 168.2L1350.1 168.2L1350.1 141.8L1592.2 141.8" fill="none" stroke="#0000ff" stroke-width="6" stroke-linejoin="round" stroke-linecap="round"/>
</g>
<rect x="217.1" y="88.9" width="1428.0" height="1427.8" fill="none" stroke="#000" stroke-width="3.1"/>
<line x1="270.0" y1="1516.7" x2="270.0" y2="1547.6" stroke="#000" stroke-width="3.1" stroke-linecap="round"/>
<text x="270.0" y="1625" font-family='"Liberation Sans", Arial, sans-serif' font-size="49.5" text-anchor="middle">1.0</text>
<line x1="534.4" y1="1516.7" x2="534.4" y2="1547.6" stroke="#000" stroke-width="3.1" stroke-linecap="round"/>
<text x="534.4" y="1625" font-family='"Liberation Sans", Arial, sans-serif' font-size="49.5" text-anchor="middle">0.8</text>
<line x1="798.9" y1="1516.7" x2="798.9" y2="1547.6" stroke="#000" stroke-width="3.1" stroke-linecap="round"/>
<text x="798.9" y="1625" font-family='"Liberation Sans", Arial, sans-serif' font-size="49.5" text-anchor="middle">0.6</text>
<line x1="1063.3" y1="1516.7" x2="1063.3" y2="1547.6" stroke="#000" stroke-width="3.1" stroke-linecap="round"/>
<text x="1063.3" y="1625" font-family='"Liberation Sans", Arial, sans-serif' font-size="49.5" text-anchor="middle">0.4</text>
<line x1="1327.8" y1="1516.7" x2="1327.8" y2="1547.6" stroke="#000" stroke-width="3.1" stroke-linecap="round"/>
<text x="1327.8" y="1625" font-family='"Liberation Sans", Arial, sans-serif' font-size="49.5" text-anchor="middle">0.2</text>
<line x1="1592.2" y1="1516.7" x2="1592.2" y2="1547.6" stroke="#000" stroke-width="3.1" stroke-linecap="round"/>
<text x="1592.2" y="1625" font-family='"Liberation Sans", Arial, sans-serif' font-size="49.5" text-anchor="middle">0.0</text>
<line x1="217.1" y1="1463.8" x2="186" y2="1463.8" stroke="#000" stroke-width="3.1" stroke-linecap="round"/>
<text transform="translate(145,1463.8) rotate(-90)" font-family='"Liberation Sans", Arial, sans-serif' font-size="49.5" text-anchor="middle">0.0</text>
<line x1="217.1" y1="1199.4" x2="186" y2="1199.4" stroke="#000" stroke-width="3.1" stroke-linecap="round"/>
<text transform="translate(145,1199.4) rotate(-90)" font-family='"Liberation Sans", Arial, sans-serif' font-size="49.5" text-anchor="middle">0.2</text>
<line x1="217.1" y1="935.0" x2="186" y2="935.0" stroke="#000" stroke-width="3.1" stroke-linecap="round"/>
<text transform="translate(145,935.0) rotate(-90)" font-family='"Liberation Sans", Arial, sans-serif' font-size="49.5" text-anchor="middle">0.4</text>
<line x1="217.1" y1="670.6" x2="186" y2="670.6" stroke="#000" stroke-width="3.1" stroke-linecap="round"/>
<text transform="translate(145,670.6) rotate(-90)" font-family='"Liberation Sans", Arial, sans-serif' font-size="49.5" text-anchor="middle">0.6</text>
<line x1="217.1" y1="406.2" x2="186" y2="406.2" stroke="#000" stroke-width="3.1" stroke-linecap="round"/>
<text transform="translate(145,406.2) rotate(-90)" font-family='"Liberation Sans", Arial, sans-serif' font-size="49.5" text-anchor="middle">0.8</text>
<line x1="217.1" y1="141.8" x2="186" y2="141.8" stroke="#000" stroke-width="3.1" stroke-linecap="round"/>
<text transform="translate(145,141.8) rotate(-90)" font-family='"Liberation Sans", Arial, sans-serif' font-size="49.5" text-anchor="middle">1.0</text>
<text x="931.1" y="46.9" font-family='"Liberation Sans", Arial, sans-serif' font-weight="bold" font-size="58.2" text-anchor="middle">Bootstrap ROC Curve</text>
<text x="931.1" y="1714.8" font-family='"Liberation Sans", Arial, sans-serif' font-size="49.4" text-anchor="middle">False Positive Rate</text>
<text transform="translate(54.8,802.8) rotate(-90)" font-family='"Liberation Sans", Arial, sans-serif' font-size="49.2" text-anchor="middle">True Positive Rate</text>
<line x1="775.3" y1="1145.5" x2="850.8" y2="1145.5" stroke="#bebebe" stroke-width="3.1"/>
<line x1="776" y1="1277.8" x2="850" y2="1277.8" stroke="#0000ff" stroke-width="6" stroke-linecap="round"/>
<text x="885.5" y="1163.5" font-family='"Liberation Sans", Arial, sans-serif' font-size="50">Bootstrap ROC</text>
<text x="885.5" y="1224.1" font-family='"Liberation Sans", Arial, sans-serif' font-size="50">mean AUC=0.726(SD:0.039)</text>
<text x="885.5" y="1295.9" font-family='"Liberation Sans", Arial, sans-serif' font-size="50">Original ROC</text>
<text x="885.5" y="1355.9" font-family='"Liberation Sans", Arial, sans-serif' font-size="50">AUC=0.723</text>
<text x="885.5" y="1416" font-family='"Liberation Sans", Arial, sans-serif' font-size="50">95%CI: 0.645-0.802</text>
</svg></body></html>
